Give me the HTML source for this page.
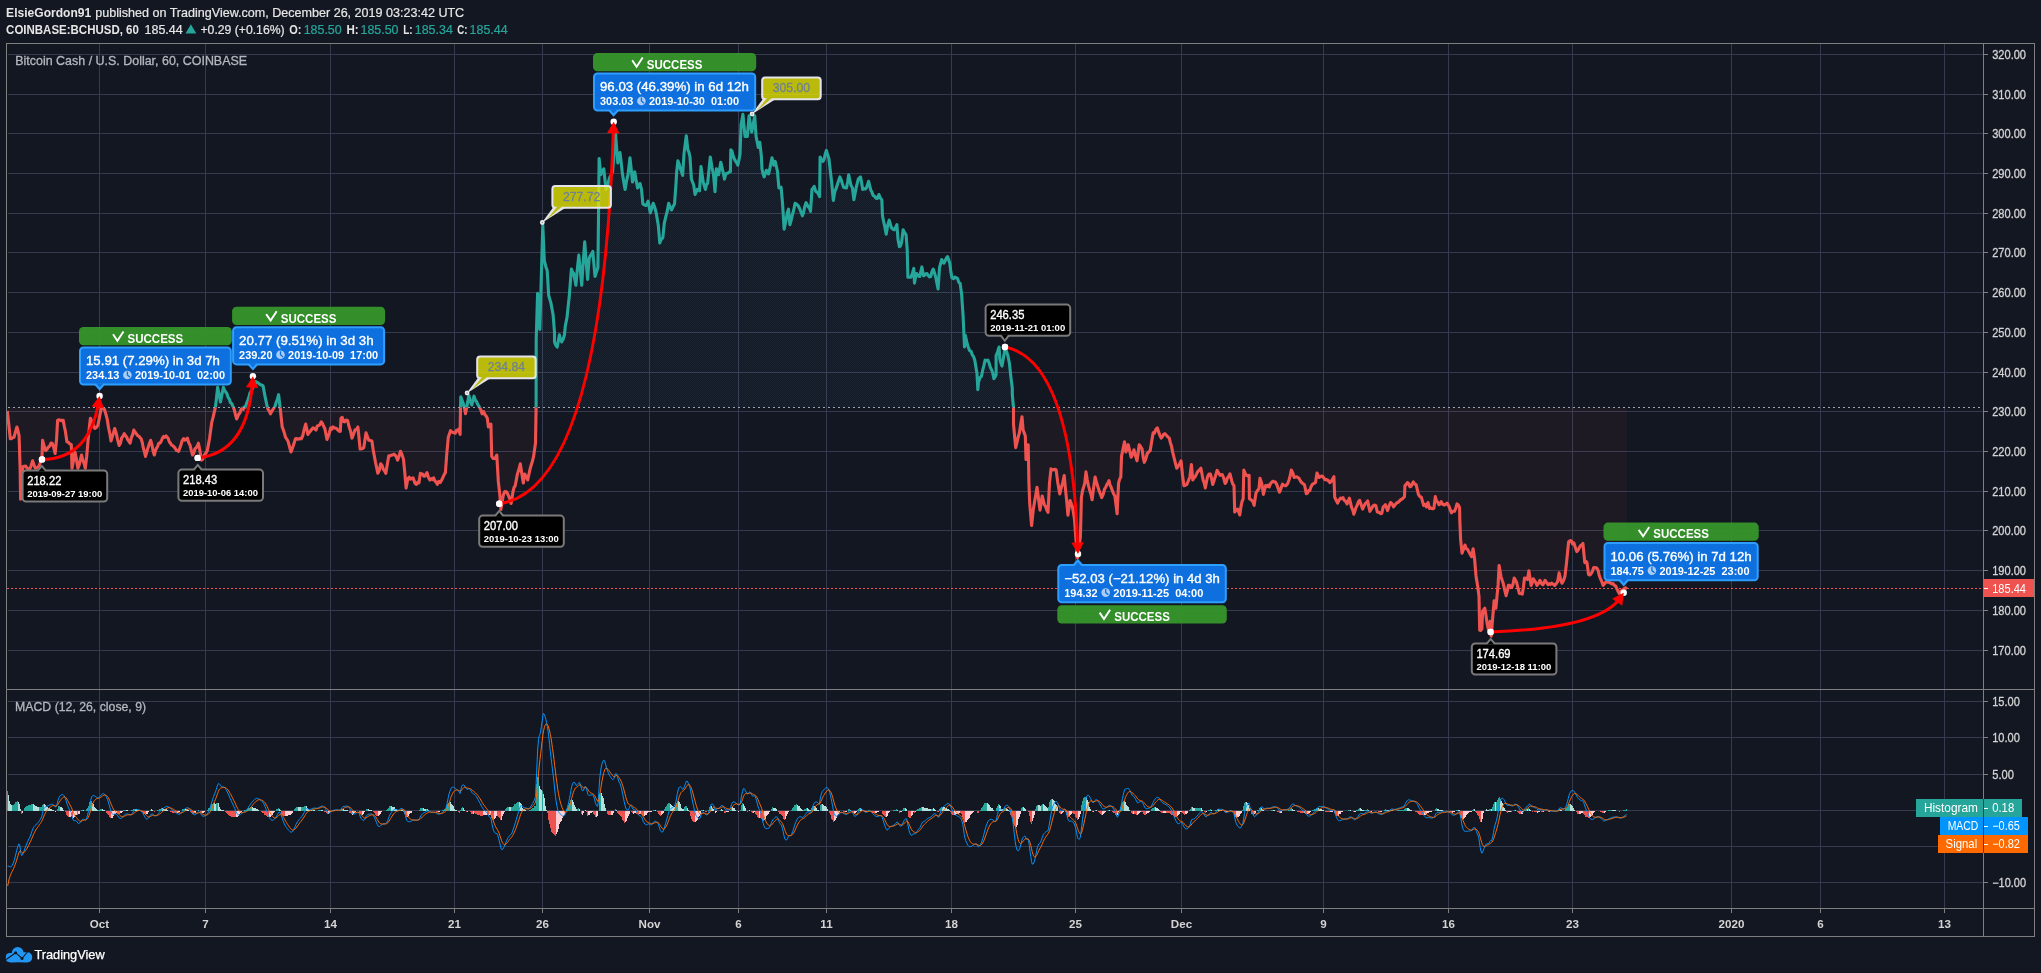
<!DOCTYPE html>
<html><head><meta charset="utf-8"><title>BCHUSD</title>
<style>
html,body{margin:0;padding:0;background:#131722;}
body{width:2041px;height:973px;position:relative;overflow:hidden;font-family:"Liberation Sans",sans-serif;}
</style></head><body>
<svg width="2041" height="973" viewBox="0 0 2041 973" style="position:absolute;left:0;top:0;will-change:transform;font-family:'Liberation Sans',sans-serif">
<rect width="2041" height="973" fill="#131722"/>
<path d="M99.5 44V908 M205.5 44V908 M330.5 44V908 M454.5 44V908 M542.5 44V908 M649.5 44V908 M738.5 44V908 M826.5 44V908 M951.5 44V908 M1075.5 44V908 M1181.5 44V908 M1323.5 44V908 M1448.5 44V908 M1572.5 44V908 M1731.5 44V908 M1820.5 44V908 M1944.5 44V908 M8 650.5H1983 M8 610.5H1983 M8 570.5H1983 M8 530.5H1983 M8 491.5H1983 M8 451.5H1983 M8 411.5H1983 M8 372.5H1983 M8 332.5H1983 M8 292.5H1983 M8 252.5H1983 M8 213.5H1983 M8 173.5H1983 M8 133.5H1983 M8 94.5H1983 M8 54.5H1983 M8 701.5H1983 M8 737.5H1983 M8 774.5H1983 M8 810.5H1983 M8 846.5H1983 M8 882.5H1983" stroke="#363a4e" stroke-width="1" fill="none" shape-rendering="crispEdges"/>
<defs>
<clipPath id="cu"><rect x="7" y="44" width="1976" height="363.5"/></clipPath>
<clipPath id="cd"><rect x="7" y="407.5" width="1976" height="281.5"/></clipPath>
<pattern id="dots" width="2" height="2" patternUnits="userSpaceOnUse"><rect width="2" height="2" fill="rgba(120,120,130,0.035)"/><rect width="1" height="1" fill="rgba(30,190,200,0.05)"/><rect x="1" y="1" width="1" height="1" fill="rgba(30,190,200,0.05)"/></pattern>
</defs>
<path d="M7.3 410.9 L8.8 424.66 L10.3 438.8 L11.53 438.68 L12.77 437.63 L14.0 437.3 L15.45 431.91 L16.9 427.0 L18.0 430.75 L19.1 435.9 L20.1 468.2 L20.6 499.1 L21.8 482.9 L22.8 466.7 L24.25 466.19 L25.7 466.0 L26.93 468.07 L28.17 468.78 L29.4 469.7 L31.0 466.03 L32.6 460.8 L33.95 464.69 L35.3 468.2 L36.9 467.75 L38.5 466.7 L39.63 464.41 L40.77 460.58 L41.9 459.4 L42.6 440.3 L44.1 446.09 L45.6 450.6 L47.05 449.13 L48.5 446.9 L49.73 446.04 L50.97 443.16 L52.2 443.2 L53.65 447.04 L55.1 453.5 L56.6 438.8 L57.6 420.4 L58.72 419.73 L59.84 420.05 L60.96 420.63 L62.08 420.37 L63.2 420.4 L64.3 426.29 L65.4 431.4 L66.9 441.7 L68.37 442.22 L69.83 443.93 L71.3 444.7 L72.0 468.2 L73.5 460.4 L75.0 452.0 L76.45 459.6 L77.9 468.2 L79.13 465.09 L80.37 459.82 L81.6 455.0 L82.83 460.3 L84.07 463.33 L85.3 468.2 L86.7 456.4 L88.2 438.8 L89.3 427.95 L90.4 418.2 L91.87 421.38 L93.33 424.99 L94.8 428.5 L96.3 427.52 L97.8 425.6 L99.0 419.89 L100.2 413.46 L101.4 407.9 L102.9 407.93 L104.4 409.4 L105.85 414.16 L107.3 419.7 L108.53 427.72 L109.77 433.29 L111.0 441.0 L112.23 437.02 L113.47 432.99 L114.7 428.5 L116.17 433.02 L117.63 439.8 L119.1 445.4 L120.38 443.45 L121.65 438.04 L122.92 436.38 L124.2 433.7 L125.38 435.52 L126.56 436.89 L127.74 439.77 L128.92 441.25 L130.1 443.2 L131.33 437.7 L132.57 435.02 L133.8 430.0 L135.02 431.97 L136.23 433.64 L137.45 435.48 L138.67 436.14 L139.88 437.42 L141.1 438.8 L142.2 442.23 L143.3 448.06 L144.4 451.54 L145.5 456.4 L146.8 452.04 L148.1 447.4 L149.4 443.6 L150.7 440.3 L151.9 444.8 L153.1 451.07 L154.3 455.0 L155.43 450.53 L156.55 448.01 L157.68 446.33 L158.8 443.2 L160.02 443.07 L161.23 441.2 L162.45 438.13 L163.67 436.44 L164.88 437.38 L166.1 435.9 L167.2 437.17 L168.3 438.71 L169.4 442.11 L170.5 443.2 L171.66 445.18 L172.81 445.63 L173.97 446.86 L175.13 448.15 L176.29 450.18 L177.44 450.61 L178.6 451.3 L179.83 448.02 L181.07 444.38 L182.3 440.3 L183.58 438.57 L184.85 440.16 L186.12 439.37 L187.4 438.1 L188.7 442.72 L190.0 445.07 L191.3 450.3 L192.6 455.0 L193.76 453.27 L194.92 448.92 L196.08 447.78 L197.24 446.32 L198.4 443.2 L199.9 450.67 L201.4 460.1 L202.58 459.41 L203.76 456.71 L204.94 454.29 L206.12 452.74 L207.3 450.6 L209.5 438.8 L211.7 422.6 L212.9 418.19 L214.1 412.89 L215.3 407.9 L216.45 398.46 L217.6 387.3 L219.05 394.15 L220.5 402.0 L221.95 394.34 L223.4 387.3 L224.58 390.44 L225.76 392.04 L226.94 393.72 L228.12 397.45 L229.3 399.1 L230.53 402.67 L231.77 403.7 L233.0 406.5 L234.23 409.63 L235.47 414.73 L236.7 419.0 L237.8 416.49 L238.9 413.98 L240.0 412.85 L241.1 409.4 L242.2 408.08 L243.3 409.25 L244.4 406.8 L245.5 407.2 L246.6 403.11 L247.7 400.67 L248.8 397.55 L249.9 393.2 L251.08 391.5 L252.26 388.78 L253.44 386.29 L254.62 383.95 L255.8 381.5 L257.02 382.66 L258.23 382.83 L259.45 383.91 L260.67 384.86 L261.88 385.17 L263.1 385.9 L264.33 392.84 L265.57 399.06 L266.8 405.0 L268.03 409.44 L269.27 411.11 L270.5 413.8 L271.97 411.05 L273.43 408.65 L274.9 406.5 L276.13 402.56 L277.37 399.33 L278.6 394.7 L280.0 406.5 L282.2 427.0 L283.3 429.7 L284.4 433.19 L285.5 437.23 L286.6 438.8 L288.07 441.28 L289.53 446.76 L291.0 452.0 L292.12 448.88 L293.25 445.7 L294.38 442.28 L295.5 438.8 L296.66 438.48 L297.82 439.29 L298.98 439.01 L300.14 438.41 L301.3 438.8 L302.77 435.72 L304.23 429.27 L305.7 424.1 L307.9 434.4 L309.2 432.33 L310.5 431.03 L311.8 429.28 L313.1 427.8 L314.55 428.85 L316.0 430.0 L317.3 425.93 L318.6 425.58 L319.9 424.68 L321.2 421.9 L322.4 423.22 L323.6 426.25 L324.8 428.5 L327.0 439.5 L328.23 436.32 L329.47 432.34 L330.7 427.8 L331.88 429.06 L333.06 426.8 L334.24 427.95 L335.42 428.1 L336.6 428.5 L337.83 429.93 L339.07 431.25 L340.3 431.4 L341.0 418.2 L342.23 417.42 L343.47 421.48 L344.7 421.9 L346.15 420.06 L347.6 420.4 L349.07 426.81 L350.53 431.08 L352.0 438.1 L353.5 434.18 L355.0 430.0 L356.45 429.4 L357.9 427.0 L359.0 437.94 L360.1 449.1 L361.33 448.74 L362.57 448.7 L363.8 447.6 L366.0 432.9 L367.45 436.71 L368.9 440.3 L370.4 440.58 L371.9 441.0 L373.1 449.25 L374.3 455.99 L375.5 462.3 L376.65 467.58 L377.8 473.3 L379.25 470.61 L380.7 463.8 L381.98 465.31 L383.25 469.24 L384.52 470.73 L385.8 473.3 L387.3 464.6 L388.8 455.7 L390.07 455.85 L391.35 455.12 L392.62 455.05 L393.9 454.2 L395.13 455.02 L396.37 457.0 L397.6 460.1 L399.05 456.16 L400.5 451.3 L402.0 454.63 L403.5 459.4 L404.8 472.93 L406.1 488.0 L407.9 478.5 L409.17 477.22 L410.45 479.1 L411.73 478.53 L413.0 477.8 L415.2 483.6 L416.43 484.47 L417.67 482.43 L418.9 482.9 L420.4 473.3 L421.5 474.05 L422.6 473.94 L423.7 476.12 L424.8 476.3 L427.0 472.6 L428.45 477.49 L429.9 480.0 L431.13 478.6 L432.37 479.7 L433.6 477.8 L434.83 480.74 L436.07 482.07 L437.3 484.4 L438.77 481.45 L440.23 482.52 L441.7 480.0 L442.93 477.46 L444.17 474.61 L445.4 472.6 L446.8 453.5 L448.3 437.3 L450.5 430.7 L451.73 431.73 L452.97 432.47 L454.2 432.9 L455.3 433.1 L456.4 430.28 L457.5 430.98 L458.6 429.2 L460.1 434.4 L460.5 407.9 L460.8 396.9 L463.0 402.8 L464.5 407.9 L465.5 413.8 L466.7 407.2 L468.9 395.4 L470.35 401.32 L471.8 405.0 L474.0 396.2 L475.23 399.99 L476.47 401.46 L477.7 404.3 L479.9 407.9 L481.0 410.29 L482.1 413.8 L483.6 411.6 L484.83 414.56 L486.07 416.09 L487.3 418.2 L488.4 427.0 L489.65 425.64 L490.9 424.1 L491.7 456.4 L493.3 458.57 L494.9 458.6 L496.8 455.0 L498.3 481.4 L499.8 494.7 L500.9 509.4 L502.15 501.85 L503.4 494.7 L504.9 491.48 L506.4 491.7 L507.85 494.36 L509.3 497.6 L511.1 503.5 L513.0 491.7 L514.1 487.36 L515.2 485.8 L517.4 474.1 L518.85 469.56 L520.3 463.8 L521.8 473.59 L523.3 482.9 L524.7 474.1 L526.2 476.59 L527.7 480.0 L529.9 469.7 L531.13 465.26 L532.37 461.46 L533.6 456.4 L535.5 443.2 L536.1 407.9 L536.2 339.6 L537.6 293.3 L539.8 329.4 L541.3 277.26 L542.8 225.0 L544.3 260.3 L545.75 266.44 L547.2 270.6 L548.7 295.5 L550.9 302.9 L552.0 308.75 L553.1 314.7 L554.5 332.3 L554.5 342.0 L555.85 345.38 L557.2 347.2 L559.4 334.7 L560.5 339.47 L561.6 342.0 L563.05 339.56 L564.5 334.7 L565.3 325.9 L567.0 317.6 L568.1 306.8 L569.2 297.0 L571.4 269.1 L572.55 271.96 L573.7 273.5 L575.9 285.3 L577.35 268.79 L578.8 255.1 L580.25 269.39 L581.7 285.3 L583.2 262.13 L584.7 241.9 L586.15 261.45 L587.6 279.4 L589.1 258.8 L590.33 255.41 L591.57 253.86 L592.8 251.4 L593.9 263.76 L595.0 276.4 L596.45 271.98 L597.9 267.6 L598.6 208.8 L599.1 158.5 L600.8 174.7 L602.3 171.31 L603.8 168.8 L604.9 179.28 L606.0 189.4 L607.23 186.81 L608.47 181.57 L609.7 177.6 L611.15 175.05 L612.6 171.7 L614.05 153.35 L615.5 133.5 L616.65 148.05 L617.8 162.9 L618.9 156.81 L620.0 152.6 L621.1 161.73 L622.2 171.7 L623.65 181.36 L625.1 189.4 L626.55 180.82 L628.0 174.7 L630.0 157.8 L631.25 169.45 L632.5 182.0 L633.6 177.61 L634.7 171.7 L636.15 180.39 L637.6 187.9 L639.8 184.9 L640.0 183.5 L641.5 189.4 L642.9 204.1 L644.4 204.81 L645.9 205.5 L647.0 203.9 L648.1 201.1 L650.3 212.9 L651.75 208.22 L653.2 203.3 L654.7 207.22 L656.2 212.9 L658.4 226.1 L659.8 243.0 L661.3 239.28 L662.8 237.9 L664.3 223.2 L665.75 216.82 L667.2 211.4 L668.7 203.3 L670.15 207.34 L671.6 210.0 L673.05 206.63 L674.5 204.1 L676.0 183.5 L676.7 171.7 L677.9 160.7 L679.15 164.07 L680.4 168.8 L681.5 171.52 L682.6 175.4 L684.1 152.6 L686.3 135.7 L687.8 149.7 L688.9 152.2 L690.0 157.0 L691.4 179.1 L692.55 181.96 L693.7 185.0 L695.1 194.5 L697.3 189.4 L698.4 189.22 L699.5 190.8 L701.0 166.6 L702.1 174.57 L703.2 182.0 L705.4 189.4 L706.5 184.68 L707.6 183.5 L709.1 168.8 L710.3 157.0 L712.0 167.3 L713.5 174.7 L715.0 191.6 L716.4 168.8 L717.5 172.0 L718.6 174.7 L720.8 162.2 L722.3 168.8 L723.4 173.47 L724.5 179.1 L725.6 174.69 L726.7 173.2 L727.93 173.24 L729.17 171.99 L730.4 171.7 L730.8 149.7 L731.9 150.96 L733.0 154.91 L734.1 158.5 L735.33 160.92 L736.57 162.56 L737.8 165.1 L738.9 160.18 L740.0 154.1 L741.1 124.7 L742.9 114.4 L744.0 126.01 L745.1 136.5 L747.3 136.5 L749.1 115.9 L750.4 124.45 L751.7 132.0 L753.2 124.19 L754.7 115.9 L756.1 136.5 L758.3 147.5 L759.8 142.3 L761.3 155.6 L762.0 168.8 L763.1 173.85 L764.2 176.9 L766.4 170.3 L767.5 172.59 L768.6 173.9 L770.1 167.3 L772.0 157.8 L773.8 165.1 L775.2 161.4 L777.4 171.0 L778.9 187.9 L780.0 187.89 L781.1 187.2 L782.6 204.1 L784.1 229.1 L786.3 218.8 L787.4 212.44 L788.5 209.2 L789.9 224.7 L791.0 220.92 L792.1 215.8 L793.6 210.53 L795.1 203.3 L796.55 204.18 L798.0 205.5 L799.1 207.4 L800.2 210.0 L802.4 215.8 L803.5 212.86 L804.6 207.0 L806.1 202.6 L808.3 207.0 L809.4 207.88 L810.5 211.4 L812.0 189.4 L813.1 188.25 L814.2 186.4 L815.65 191.17 L817.1 192.3 L818.35 193.8 L819.6 196.7 L820.1 157.0 L821.55 159.72 L823.0 161.4 L824.13 159.15 L825.27 153.98 L826.4 150.4 L827.65 154.87 L828.9 158.5 L830.4 171.7 L831.8 183.5 L833.3 200.4 L834.8 191.6 L836.25 188.23 L837.7 183.5 L839.9 176.9 L841.13 179.65 L842.37 183.7 L843.6 187.2 L845.05 187.77 L846.5 187.9 L847.6 181.92 L848.7 174.7 L850.9 185.0 L852.4 187.9 L853.9 199.7 L855.0 193.77 L856.1 187.9 L858.3 179.1 L859.4 177.85 L860.5 176.9 L861.6 182.39 L862.7 189.4 L863.93 188.63 L865.17 189.07 L866.4 187.9 L867.5 184.68 L868.6 181.3 L870.8 190.1 L871.9 192.06 L873.0 195.3 L874.45 196.12 L875.9 198.2 L877.4 198.35 L878.9 194.5 L880.35 197.95 L881.8 199.7 L882.5 215.8 L883.6 221.43 L884.7 226.1 L886.2 234.2 L887.7 225.26 L889.2 220.2 L891.4 227.6 L892.85 229.17 L894.3 229.8 L895.6 227.61 L896.9 224.7 L898.0 239.4 L899.4 246.7 L900.5 245.76 L901.6 242.3 L903.1 229.8 L904.6 232.67 L906.1 234.9 L907.2 249.6 L907.9 277.2 L909.4 277.15 L910.9 277.2 L912.35 273.19 L913.8 268.4 L914.5 283.1 L915.6 276.84 L916.7 273.5 L918.2 275.77 L919.7 276.5 L921.9 266.9 L923.4 275.7 L924.6 275.21 L925.8 273.71 L927.0 273.5 L928.23 275.49 L929.47 276.86 L930.7 276.5 L931.95 271.75 L933.2 269.1 L934.55 273.0 L935.9 277.9 L937.0 283.67 L938.1 289.0 L939.5 267.6 L940.6 263.74 L941.7 259.6 L943.9 263.2 L945.13 260.7 L946.37 258.07 L947.6 256.6 L949.8 263.2 L950.9 272.14 L952.0 277.9 L953.47 278.68 L954.93 277.0 L956.4 277.9 L957.63 278.62 L958.87 282.64 L960.1 283.1 L961.6 294.1 L963.1 316.1 L964.5 347.0 L965.3 335.3 L966.75 341.89 L968.2 347.0 L969.65 350.57 L971.1 351.4 L972.33 354.94 L973.57 356.61 L974.8 360.2 L975.9 367.05 L977.0 373.5 L977.8 389.6 L978.5 382.3 L979.95 377.73 L981.4 376.4 L982.63 370.44 L983.87 365.56 L985.1 360.2 L986.55 360.59 L988.0 360.2 L989.1 363.0 L990.2 366.9 L991.35 369.36 L992.5 372.0 L993.9 378.6 L995.0 377.09 L996.1 374.9 L996.1 355.8 L997.6 351.68 L999.1 347.0 L999.8 358.8 L1000.9 362.93 L1002.0 366.1 L1003.1 359.66 L1004.2 352.9 L1004.9 347.0 L1006.4 351.16 L1007.9 355.8 L1009.4 363.2 L1010.8 376.4 L1012.3 388.2 L1012.3 394.7 L1013.5 407.5 L1013.5 424.1 L1014.6 436.44 L1015.7 447.6 L1016.93 442.74 L1018.17 437.18 L1019.4 432.9 L1020.7 424.33 L1022.0 416.7 L1023.1 430.0 L1025.3 435.9 L1026.0 459.4 L1027.1 452.05 L1028.2 444.7 L1028.9 482.9 L1029.7 503.5 L1031.6 525.5 L1033.3 509.4 L1034.53 501.95 L1035.77 494.78 L1037.0 487.3 L1038.5 498.7 L1040.0 510.1 L1041.1 503.23 L1042.2 496.1 L1043.3 500.4 L1044.4 504.9 L1045.6 506.42 L1046.8 510.15 L1048.0 512.3 L1049.5 482.9 L1051.0 468.9 L1052.28 469.89 L1053.55 469.63 L1054.82 469.36 L1056.1 469.7 L1057.6 481.4 L1058.7 487.98 L1059.8 493.9 L1061.25 487.68 L1062.7 482.9 L1064.2 475.5 L1065.7 491.7 L1066.8 502.03 L1067.9 515.2 L1070.1 500.5 L1071.2 503.49 L1072.3 506.4 L1073.4 512.3 L1074.5 519.6 L1075.95 539.3 L1077.4 557.9 L1078.9 546.79 L1080.4 537.3 L1081.4 497.6 L1082.53 490.73 L1083.67 487.02 L1084.8 482.9 L1086.0 471.9 L1087.25 480.03 L1088.5 485.8 L1089.7 490.18 L1090.9 494.11 L1092.1 499.8 L1093.6 487.83 L1095.1 477.0 L1096.55 482.54 L1098.0 487.3 L1099.23 491.11 L1100.47 494.3 L1101.7 497.6 L1103.15 494.31 L1104.6 488.8 L1105.7 487.3 L1106.8 484.73 L1107.9 483.17 L1109.0 480.7 L1110.1 485.24 L1111.2 487.3 L1112.43 490.96 L1113.67 493.93 L1114.9 496.1 L1117.1 513.8 L1118.6 482.9 L1119.7 479.14 L1120.8 477.0 L1121.5 456.4 L1123.0 448.94 L1124.5 441.7 L1125.9 452.0 L1127.05 448.9 L1128.2 444.7 L1129.65 450.73 L1131.1 457.2 L1132.55 454.3 L1134.0 449.8 L1135.5 455.75 L1137.0 460.8 L1138.1 453.43 L1139.2 444.7 L1140.65 446.74 L1142.1 449.1 L1143.2 457.61 L1144.3 462.3 L1145.8 458.83 L1147.3 453.5 L1148.75 451.89 L1150.2 450.6 L1151.65 441.82 L1153.1 432.9 L1154.5 433.15 L1155.9 429.24 L1157.3 427.8 L1158.6 431.89 L1159.9 435.4 L1161.2 438.1 L1162.43 436.64 L1163.67 434.29 L1164.9 433.7 L1166.37 435.31 L1167.83 436.9 L1169.3 438.1 L1170.4 442.95 L1171.5 446.1 L1172.6 451.84 L1173.7 456.4 L1175.2 462.32 L1176.7 468.2 L1178.17 466.37 L1179.63 463.67 L1181.1 460.8 L1182.5 475.5 L1184.0 485.8 L1185.45 485.25 L1186.9 484.4 L1188.4 480.74 L1189.9 477.0 L1191.4 464.5 L1192.8 480.0 L1194.03 477.85 L1195.27 476.58 L1196.5 474.1 L1197.6 471.83 L1198.7 470.68 L1199.8 469.68 L1200.9 468.2 L1203.1 480.0 L1204.2 482.9 L1205.3 488.0 L1206.4 482.17 L1207.5 477.0 L1209.0 474.04 L1210.5 474.1 L1211.6 478.74 L1212.7 484.4 L1214.17 480.16 L1215.63 475.49 L1217.1 470.4 L1218.55 472.81 L1220.0 475.3 L1221.1 474.73 L1222.2 474.5 L1223.65 477.89 L1225.1 483.4 L1226.2 482.17 L1227.3 478.2 L1228.65 476.39 L1230.0 473.8 L1231.8 481.2 L1232.9 484.22 L1234.0 485.6 L1234.7 512.0 L1236.15 509.89 L1237.6 509.1 L1238.7 511.91 L1239.8 515.0 L1240.9 506.99 L1242.0 501.7 L1243.2 498.8 L1243.8 470.1 L1245.15 473.29 L1246.5 475.3 L1247.8 476.0 L1249.1 475.3 L1249.4 498.8 L1251.6 500.3 L1252.85 501.43 L1254.1 505.4 L1256.0 492.9 L1257.5 490.66 L1259.0 488.5 L1260.0 478.2 L1261.9 484.1 L1263.4 494.4 L1265.6 485.6 L1266.8 486.54 L1268.0 485.21 L1269.2 487.0 L1270.43 483.7 L1271.67 482.33 L1272.9 481.2 L1274.13 481.69 L1275.37 482.08 L1276.6 484.1 L1278.05 488.17 L1279.5 492.2 L1281.0 488.34 L1282.5 484.1 L1283.7 485.08 L1284.9 485.63 L1286.1 485.6 L1287.6 483.78 L1289.1 479.7 L1290.2 475.77 L1291.3 470.1 L1292.75 472.82 L1294.2 477.5 L1295.43 477.12 L1296.67 476.7 L1297.9 477.5 L1299.13 478.39 L1300.37 480.84 L1301.6 482.6 L1303.05 483.7 L1304.5 484.8 L1306.3 493.7 L1307.43 493.07 L1308.57 490.51 L1309.7 490.7 L1311.15 486.47 L1312.6 484.1 L1314.05 483.33 L1315.5 482.6 L1317.0 473.1 L1318.1 475.15 L1319.2 477.5 L1320.7 476.52 L1322.2 476.0 L1323.65 477.8 L1325.1 479.7 L1326.55 479.48 L1328.0 480.4 L1330.0 482.6 L1331.3 481.16 L1332.6 478.93 L1333.9 476.7 L1334.7 497.3 L1336.15 500.18 L1337.6 503.2 L1339.05 500.15 L1340.5 498.1 L1341.73 498.7 L1342.97 497.53 L1344.2 500.3 L1345.65 501.36 L1347.1 503.9 L1348.25 501.03 L1349.4 498.1 L1351.6 507.6 L1352.7 509.77 L1353.8 514.2 L1354.9 511.05 L1356.0 507.6 L1357.2 505.28 L1358.4 501.7 L1359.6 500.3 L1361.1 504.51 L1362.6 509.1 L1364.05 505.91 L1365.5 503.2 L1366.6 502.44 L1367.7 501.0 L1368.8 506.61 L1369.9 511.3 L1371.4 508.67 L1372.9 506.1 L1374.35 505.11 L1375.8 505.4 L1377.3 512.0 L1378.4 512.27 L1379.5 512.7 L1380.6 513.68 L1381.7 513.5 L1383.2 506.9 L1384.3 506.02 L1385.4 504.7 L1387.6 510.6 L1389.05 506.01 L1390.5 502.5 L1392.0 503.68 L1393.5 506.9 L1394.6 505.52 L1395.7 504.14 L1396.8 502.77 L1397.9 502.5 L1399.37 501.18 L1400.83 499.67 L1402.3 498.8 L1403.4 497.78 L1404.5 496.6 L1404.9 485.6 L1406.15 484.49 L1407.4 482.6 L1408.63 483.52 L1409.87 486.81 L1411.1 486.3 L1412.2 483.86 L1413.3 481.9 L1414.75 484.18 L1416.2 484.8 L1417.3 489.69 L1418.4 494.4 L1419.9 496.69 L1421.4 497.3 L1423.6 505.4 L1425.05 504.37 L1426.5 506.9 L1428.0 502.5 L1429.5 508.4 L1430.6 507.84 L1431.7 508.59 L1432.8 508.85 L1433.9 508.4 L1435.3 496.6 L1436.53 501.05 L1437.77 502.24 L1439.0 504.7 L1440.1 504.16 L1441.2 501.7 L1442.3 503.77 L1443.4 504.7 L1444.63 504.91 L1445.87 504.08 L1447.1 503.2 L1448.2 504.93 L1449.3 506.9 L1450.4 510.23 L1451.5 512.8 L1453.0 511.24 L1454.5 511.3 L1455.75 508.49 L1457.0 503.9 L1458.3 504.99 L1459.6 507.6 L1459.8 520.0 L1460.6 539.1 L1462.0 553.1 L1463.5 549.24 L1465.0 545.0 L1466.23 548.79 L1467.47 549.23 L1468.7 551.6 L1470.15 554.16 L1471.6 556.7 L1473.1 548.7 L1474.5 558.2 L1476.0 575.9 L1477.9 587.6 L1479.0 596.4 L1479.7 630.2 L1480.8 630.37 L1481.9 628.8 L1482.6 611.1 L1483.7 609.67 L1484.8 608.2 L1485.9 614.94 L1487.0 622.9 L1488.5 630.2 L1490.0 621.4 L1491.2 636.1 L1492.9 615.5 L1494.1 600.8 L1495.9 608.2 L1498.1 584.7 L1499.1 565.6 L1501.0 576.6 L1502.1 580.09 L1503.2 583.2 L1504.65 589.89 L1506.1 595.7 L1507.25 591.08 L1508.4 585.4 L1509.6 585.32 L1510.8 587.71 L1512.0 586.9 L1513.1 583.75 L1514.2 578.1 L1515.3 579.91 L1516.4 581.7 L1517.9 587.8 L1519.4 593.5 L1520.85 593.53 L1522.3 594.2 L1523.4 587.21 L1524.5 578.1 L1526.0 578.27 L1527.5 579.5 L1528.9 570.7 L1531.1 585.4 L1532.2 582.61 L1533.3 578.8 L1534.53 580.64 L1535.77 582.68 L1537.0 585.4 L1538.5 583.39 L1540.0 580.3 L1541.45 583.5 L1542.9 584.7 L1545.1 580.3 L1546.55 582.49 L1548.0 584.7 L1549.23 583.69 L1550.47 584.31 L1551.7 583.2 L1553.2 584.26 L1554.7 585.4 L1556.15 583.78 L1557.6 581.7 L1559.1 572.9 L1560.55 579.19 L1562.0 583.2 L1563.45 580.75 L1564.9 576.6 L1566.4 564.1 L1568.6 542.0 L1570.1 540.6 L1571.33 540.94 L1572.57 543.78 L1573.8 542.8 L1575.25 547.2 L1576.7 551.6 L1578.15 549.99 L1579.6 547.2 L1580.7 545.48 L1581.8 544.7 L1582.9 543.5 L1584.8 562.6 L1585.9 561.29 L1587.0 562.6 L1588.5 574.4 L1589.7 575.01 L1590.9 573.96 L1592.1 572.2 L1593.6 567.8 L1594.7 567.44 L1595.8 567.77 L1596.9 568.23 L1598.0 570.0 L1599.1 574.93 L1600.2 578.1 L1601.7 581.41 L1603.2 585.4 L1604.65 583.5 L1606.1 581.7 L1607.2 581.84 L1608.3 582.36 L1609.4 582.01 L1610.5 583.2 L1611.8 583.94 L1613.1 583.57 L1614.4 585.32 L1615.7 586.1 L1616.9 588.8 L1618.1 591.38 L1619.3 593.5 L1620.4 592.23 L1621.5 590.62 L1622.6 590.32 L1623.7 589.1 L1625.5 587.9 L1627.0 588.5 L1627.0 407.5 L7.3 407.5 Z" fill="url(#dots)" clip-path="url(#cu)"/>
<path d="M7.3 410.9 L8.8 424.66 L10.3 438.8 L11.53 438.68 L12.77 437.63 L14.0 437.3 L15.45 431.91 L16.9 427.0 L18.0 430.75 L19.1 435.9 L20.1 468.2 L20.6 499.1 L21.8 482.9 L22.8 466.7 L24.25 466.19 L25.7 466.0 L26.93 468.07 L28.17 468.78 L29.4 469.7 L31.0 466.03 L32.6 460.8 L33.95 464.69 L35.3 468.2 L36.9 467.75 L38.5 466.7 L39.63 464.41 L40.77 460.58 L41.9 459.4 L42.6 440.3 L44.1 446.09 L45.6 450.6 L47.05 449.13 L48.5 446.9 L49.73 446.04 L50.97 443.16 L52.2 443.2 L53.65 447.04 L55.1 453.5 L56.6 438.8 L57.6 420.4 L58.72 419.73 L59.84 420.05 L60.96 420.63 L62.08 420.37 L63.2 420.4 L64.3 426.29 L65.4 431.4 L66.9 441.7 L68.37 442.22 L69.83 443.93 L71.3 444.7 L72.0 468.2 L73.5 460.4 L75.0 452.0 L76.45 459.6 L77.9 468.2 L79.13 465.09 L80.37 459.82 L81.6 455.0 L82.83 460.3 L84.07 463.33 L85.3 468.2 L86.7 456.4 L88.2 438.8 L89.3 427.95 L90.4 418.2 L91.87 421.38 L93.33 424.99 L94.8 428.5 L96.3 427.52 L97.8 425.6 L99.0 419.89 L100.2 413.46 L101.4 407.9 L102.9 407.93 L104.4 409.4 L105.85 414.16 L107.3 419.7 L108.53 427.72 L109.77 433.29 L111.0 441.0 L112.23 437.02 L113.47 432.99 L114.7 428.5 L116.17 433.02 L117.63 439.8 L119.1 445.4 L120.38 443.45 L121.65 438.04 L122.92 436.38 L124.2 433.7 L125.38 435.52 L126.56 436.89 L127.74 439.77 L128.92 441.25 L130.1 443.2 L131.33 437.7 L132.57 435.02 L133.8 430.0 L135.02 431.97 L136.23 433.64 L137.45 435.48 L138.67 436.14 L139.88 437.42 L141.1 438.8 L142.2 442.23 L143.3 448.06 L144.4 451.54 L145.5 456.4 L146.8 452.04 L148.1 447.4 L149.4 443.6 L150.7 440.3 L151.9 444.8 L153.1 451.07 L154.3 455.0 L155.43 450.53 L156.55 448.01 L157.68 446.33 L158.8 443.2 L160.02 443.07 L161.23 441.2 L162.45 438.13 L163.67 436.44 L164.88 437.38 L166.1 435.9 L167.2 437.17 L168.3 438.71 L169.4 442.11 L170.5 443.2 L171.66 445.18 L172.81 445.63 L173.97 446.86 L175.13 448.15 L176.29 450.18 L177.44 450.61 L178.6 451.3 L179.83 448.02 L181.07 444.38 L182.3 440.3 L183.58 438.57 L184.85 440.16 L186.12 439.37 L187.4 438.1 L188.7 442.72 L190.0 445.07 L191.3 450.3 L192.6 455.0 L193.76 453.27 L194.92 448.92 L196.08 447.78 L197.24 446.32 L198.4 443.2 L199.9 450.67 L201.4 460.1 L202.58 459.41 L203.76 456.71 L204.94 454.29 L206.12 452.74 L207.3 450.6 L209.5 438.8 L211.7 422.6 L212.9 418.19 L214.1 412.89 L215.3 407.9 L216.45 398.46 L217.6 387.3 L219.05 394.15 L220.5 402.0 L221.95 394.34 L223.4 387.3 L224.58 390.44 L225.76 392.04 L226.94 393.72 L228.12 397.45 L229.3 399.1 L230.53 402.67 L231.77 403.7 L233.0 406.5 L234.23 409.63 L235.47 414.73 L236.7 419.0 L237.8 416.49 L238.9 413.98 L240.0 412.85 L241.1 409.4 L242.2 408.08 L243.3 409.25 L244.4 406.8 L245.5 407.2 L246.6 403.11 L247.7 400.67 L248.8 397.55 L249.9 393.2 L251.08 391.5 L252.26 388.78 L253.44 386.29 L254.62 383.95 L255.8 381.5 L257.02 382.66 L258.23 382.83 L259.45 383.91 L260.67 384.86 L261.88 385.17 L263.1 385.9 L264.33 392.84 L265.57 399.06 L266.8 405.0 L268.03 409.44 L269.27 411.11 L270.5 413.8 L271.97 411.05 L273.43 408.65 L274.9 406.5 L276.13 402.56 L277.37 399.33 L278.6 394.7 L280.0 406.5 L282.2 427.0 L283.3 429.7 L284.4 433.19 L285.5 437.23 L286.6 438.8 L288.07 441.28 L289.53 446.76 L291.0 452.0 L292.12 448.88 L293.25 445.7 L294.38 442.28 L295.5 438.8 L296.66 438.48 L297.82 439.29 L298.98 439.01 L300.14 438.41 L301.3 438.8 L302.77 435.72 L304.23 429.27 L305.7 424.1 L307.9 434.4 L309.2 432.33 L310.5 431.03 L311.8 429.28 L313.1 427.8 L314.55 428.85 L316.0 430.0 L317.3 425.93 L318.6 425.58 L319.9 424.68 L321.2 421.9 L322.4 423.22 L323.6 426.25 L324.8 428.5 L327.0 439.5 L328.23 436.32 L329.47 432.34 L330.7 427.8 L331.88 429.06 L333.06 426.8 L334.24 427.95 L335.42 428.1 L336.6 428.5 L337.83 429.93 L339.07 431.25 L340.3 431.4 L341.0 418.2 L342.23 417.42 L343.47 421.48 L344.7 421.9 L346.15 420.06 L347.6 420.4 L349.07 426.81 L350.53 431.08 L352.0 438.1 L353.5 434.18 L355.0 430.0 L356.45 429.4 L357.9 427.0 L359.0 437.94 L360.1 449.1 L361.33 448.74 L362.57 448.7 L363.8 447.6 L366.0 432.9 L367.45 436.71 L368.9 440.3 L370.4 440.58 L371.9 441.0 L373.1 449.25 L374.3 455.99 L375.5 462.3 L376.65 467.58 L377.8 473.3 L379.25 470.61 L380.7 463.8 L381.98 465.31 L383.25 469.24 L384.52 470.73 L385.8 473.3 L387.3 464.6 L388.8 455.7 L390.07 455.85 L391.35 455.12 L392.62 455.05 L393.9 454.2 L395.13 455.02 L396.37 457.0 L397.6 460.1 L399.05 456.16 L400.5 451.3 L402.0 454.63 L403.5 459.4 L404.8 472.93 L406.1 488.0 L407.9 478.5 L409.17 477.22 L410.45 479.1 L411.73 478.53 L413.0 477.8 L415.2 483.6 L416.43 484.47 L417.67 482.43 L418.9 482.9 L420.4 473.3 L421.5 474.05 L422.6 473.94 L423.7 476.12 L424.8 476.3 L427.0 472.6 L428.45 477.49 L429.9 480.0 L431.13 478.6 L432.37 479.7 L433.6 477.8 L434.83 480.74 L436.07 482.07 L437.3 484.4 L438.77 481.45 L440.23 482.52 L441.7 480.0 L442.93 477.46 L444.17 474.61 L445.4 472.6 L446.8 453.5 L448.3 437.3 L450.5 430.7 L451.73 431.73 L452.97 432.47 L454.2 432.9 L455.3 433.1 L456.4 430.28 L457.5 430.98 L458.6 429.2 L460.1 434.4 L460.5 407.9 L460.8 396.9 L463.0 402.8 L464.5 407.9 L465.5 413.8 L466.7 407.2 L468.9 395.4 L470.35 401.32 L471.8 405.0 L474.0 396.2 L475.23 399.99 L476.47 401.46 L477.7 404.3 L479.9 407.9 L481.0 410.29 L482.1 413.8 L483.6 411.6 L484.83 414.56 L486.07 416.09 L487.3 418.2 L488.4 427.0 L489.65 425.64 L490.9 424.1 L491.7 456.4 L493.3 458.57 L494.9 458.6 L496.8 455.0 L498.3 481.4 L499.8 494.7 L500.9 509.4 L502.15 501.85 L503.4 494.7 L504.9 491.48 L506.4 491.7 L507.85 494.36 L509.3 497.6 L511.1 503.5 L513.0 491.7 L514.1 487.36 L515.2 485.8 L517.4 474.1 L518.85 469.56 L520.3 463.8 L521.8 473.59 L523.3 482.9 L524.7 474.1 L526.2 476.59 L527.7 480.0 L529.9 469.7 L531.13 465.26 L532.37 461.46 L533.6 456.4 L535.5 443.2 L536.1 407.9 L536.2 339.6 L537.6 293.3 L539.8 329.4 L541.3 277.26 L542.8 225.0 L544.3 260.3 L545.75 266.44 L547.2 270.6 L548.7 295.5 L550.9 302.9 L552.0 308.75 L553.1 314.7 L554.5 332.3 L554.5 342.0 L555.85 345.38 L557.2 347.2 L559.4 334.7 L560.5 339.47 L561.6 342.0 L563.05 339.56 L564.5 334.7 L565.3 325.9 L567.0 317.6 L568.1 306.8 L569.2 297.0 L571.4 269.1 L572.55 271.96 L573.7 273.5 L575.9 285.3 L577.35 268.79 L578.8 255.1 L580.25 269.39 L581.7 285.3 L583.2 262.13 L584.7 241.9 L586.15 261.45 L587.6 279.4 L589.1 258.8 L590.33 255.41 L591.57 253.86 L592.8 251.4 L593.9 263.76 L595.0 276.4 L596.45 271.98 L597.9 267.6 L598.6 208.8 L599.1 158.5 L600.8 174.7 L602.3 171.31 L603.8 168.8 L604.9 179.28 L606.0 189.4 L607.23 186.81 L608.47 181.57 L609.7 177.6 L611.15 175.05 L612.6 171.7 L614.05 153.35 L615.5 133.5 L616.65 148.05 L617.8 162.9 L618.9 156.81 L620.0 152.6 L621.1 161.73 L622.2 171.7 L623.65 181.36 L625.1 189.4 L626.55 180.82 L628.0 174.7 L630.0 157.8 L631.25 169.45 L632.5 182.0 L633.6 177.61 L634.7 171.7 L636.15 180.39 L637.6 187.9 L639.8 184.9 L640.0 183.5 L641.5 189.4 L642.9 204.1 L644.4 204.81 L645.9 205.5 L647.0 203.9 L648.1 201.1 L650.3 212.9 L651.75 208.22 L653.2 203.3 L654.7 207.22 L656.2 212.9 L658.4 226.1 L659.8 243.0 L661.3 239.28 L662.8 237.9 L664.3 223.2 L665.75 216.82 L667.2 211.4 L668.7 203.3 L670.15 207.34 L671.6 210.0 L673.05 206.63 L674.5 204.1 L676.0 183.5 L676.7 171.7 L677.9 160.7 L679.15 164.07 L680.4 168.8 L681.5 171.52 L682.6 175.4 L684.1 152.6 L686.3 135.7 L687.8 149.7 L688.9 152.2 L690.0 157.0 L691.4 179.1 L692.55 181.96 L693.7 185.0 L695.1 194.5 L697.3 189.4 L698.4 189.22 L699.5 190.8 L701.0 166.6 L702.1 174.57 L703.2 182.0 L705.4 189.4 L706.5 184.68 L707.6 183.5 L709.1 168.8 L710.3 157.0 L712.0 167.3 L713.5 174.7 L715.0 191.6 L716.4 168.8 L717.5 172.0 L718.6 174.7 L720.8 162.2 L722.3 168.8 L723.4 173.47 L724.5 179.1 L725.6 174.69 L726.7 173.2 L727.93 173.24 L729.17 171.99 L730.4 171.7 L730.8 149.7 L731.9 150.96 L733.0 154.91 L734.1 158.5 L735.33 160.92 L736.57 162.56 L737.8 165.1 L738.9 160.18 L740.0 154.1 L741.1 124.7 L742.9 114.4 L744.0 126.01 L745.1 136.5 L747.3 136.5 L749.1 115.9 L750.4 124.45 L751.7 132.0 L753.2 124.19 L754.7 115.9 L756.1 136.5 L758.3 147.5 L759.8 142.3 L761.3 155.6 L762.0 168.8 L763.1 173.85 L764.2 176.9 L766.4 170.3 L767.5 172.59 L768.6 173.9 L770.1 167.3 L772.0 157.8 L773.8 165.1 L775.2 161.4 L777.4 171.0 L778.9 187.9 L780.0 187.89 L781.1 187.2 L782.6 204.1 L784.1 229.1 L786.3 218.8 L787.4 212.44 L788.5 209.2 L789.9 224.7 L791.0 220.92 L792.1 215.8 L793.6 210.53 L795.1 203.3 L796.55 204.18 L798.0 205.5 L799.1 207.4 L800.2 210.0 L802.4 215.8 L803.5 212.86 L804.6 207.0 L806.1 202.6 L808.3 207.0 L809.4 207.88 L810.5 211.4 L812.0 189.4 L813.1 188.25 L814.2 186.4 L815.65 191.17 L817.1 192.3 L818.35 193.8 L819.6 196.7 L820.1 157.0 L821.55 159.72 L823.0 161.4 L824.13 159.15 L825.27 153.98 L826.4 150.4 L827.65 154.87 L828.9 158.5 L830.4 171.7 L831.8 183.5 L833.3 200.4 L834.8 191.6 L836.25 188.23 L837.7 183.5 L839.9 176.9 L841.13 179.65 L842.37 183.7 L843.6 187.2 L845.05 187.77 L846.5 187.9 L847.6 181.92 L848.7 174.7 L850.9 185.0 L852.4 187.9 L853.9 199.7 L855.0 193.77 L856.1 187.9 L858.3 179.1 L859.4 177.85 L860.5 176.9 L861.6 182.39 L862.7 189.4 L863.93 188.63 L865.17 189.07 L866.4 187.9 L867.5 184.68 L868.6 181.3 L870.8 190.1 L871.9 192.06 L873.0 195.3 L874.45 196.12 L875.9 198.2 L877.4 198.35 L878.9 194.5 L880.35 197.95 L881.8 199.7 L882.5 215.8 L883.6 221.43 L884.7 226.1 L886.2 234.2 L887.7 225.26 L889.2 220.2 L891.4 227.6 L892.85 229.17 L894.3 229.8 L895.6 227.61 L896.9 224.7 L898.0 239.4 L899.4 246.7 L900.5 245.76 L901.6 242.3 L903.1 229.8 L904.6 232.67 L906.1 234.9 L907.2 249.6 L907.9 277.2 L909.4 277.15 L910.9 277.2 L912.35 273.19 L913.8 268.4 L914.5 283.1 L915.6 276.84 L916.7 273.5 L918.2 275.77 L919.7 276.5 L921.9 266.9 L923.4 275.7 L924.6 275.21 L925.8 273.71 L927.0 273.5 L928.23 275.49 L929.47 276.86 L930.7 276.5 L931.95 271.75 L933.2 269.1 L934.55 273.0 L935.9 277.9 L937.0 283.67 L938.1 289.0 L939.5 267.6 L940.6 263.74 L941.7 259.6 L943.9 263.2 L945.13 260.7 L946.37 258.07 L947.6 256.6 L949.8 263.2 L950.9 272.14 L952.0 277.9 L953.47 278.68 L954.93 277.0 L956.4 277.9 L957.63 278.62 L958.87 282.64 L960.1 283.1 L961.6 294.1 L963.1 316.1 L964.5 347.0 L965.3 335.3 L966.75 341.89 L968.2 347.0 L969.65 350.57 L971.1 351.4 L972.33 354.94 L973.57 356.61 L974.8 360.2 L975.9 367.05 L977.0 373.5 L977.8 389.6 L978.5 382.3 L979.95 377.73 L981.4 376.4 L982.63 370.44 L983.87 365.56 L985.1 360.2 L986.55 360.59 L988.0 360.2 L989.1 363.0 L990.2 366.9 L991.35 369.36 L992.5 372.0 L993.9 378.6 L995.0 377.09 L996.1 374.9 L996.1 355.8 L997.6 351.68 L999.1 347.0 L999.8 358.8 L1000.9 362.93 L1002.0 366.1 L1003.1 359.66 L1004.2 352.9 L1004.9 347.0 L1006.4 351.16 L1007.9 355.8 L1009.4 363.2 L1010.8 376.4 L1012.3 388.2 L1012.3 394.7 L1013.5 407.5 L1013.5 424.1 L1014.6 436.44 L1015.7 447.6 L1016.93 442.74 L1018.17 437.18 L1019.4 432.9 L1020.7 424.33 L1022.0 416.7 L1023.1 430.0 L1025.3 435.9 L1026.0 459.4 L1027.1 452.05 L1028.2 444.7 L1028.9 482.9 L1029.7 503.5 L1031.6 525.5 L1033.3 509.4 L1034.53 501.95 L1035.77 494.78 L1037.0 487.3 L1038.5 498.7 L1040.0 510.1 L1041.1 503.23 L1042.2 496.1 L1043.3 500.4 L1044.4 504.9 L1045.6 506.42 L1046.8 510.15 L1048.0 512.3 L1049.5 482.9 L1051.0 468.9 L1052.28 469.89 L1053.55 469.63 L1054.82 469.36 L1056.1 469.7 L1057.6 481.4 L1058.7 487.98 L1059.8 493.9 L1061.25 487.68 L1062.7 482.9 L1064.2 475.5 L1065.7 491.7 L1066.8 502.03 L1067.9 515.2 L1070.1 500.5 L1071.2 503.49 L1072.3 506.4 L1073.4 512.3 L1074.5 519.6 L1075.95 539.3 L1077.4 557.9 L1078.9 546.79 L1080.4 537.3 L1081.4 497.6 L1082.53 490.73 L1083.67 487.02 L1084.8 482.9 L1086.0 471.9 L1087.25 480.03 L1088.5 485.8 L1089.7 490.18 L1090.9 494.11 L1092.1 499.8 L1093.6 487.83 L1095.1 477.0 L1096.55 482.54 L1098.0 487.3 L1099.23 491.11 L1100.47 494.3 L1101.7 497.6 L1103.15 494.31 L1104.6 488.8 L1105.7 487.3 L1106.8 484.73 L1107.9 483.17 L1109.0 480.7 L1110.1 485.24 L1111.2 487.3 L1112.43 490.96 L1113.67 493.93 L1114.9 496.1 L1117.1 513.8 L1118.6 482.9 L1119.7 479.14 L1120.8 477.0 L1121.5 456.4 L1123.0 448.94 L1124.5 441.7 L1125.9 452.0 L1127.05 448.9 L1128.2 444.7 L1129.65 450.73 L1131.1 457.2 L1132.55 454.3 L1134.0 449.8 L1135.5 455.75 L1137.0 460.8 L1138.1 453.43 L1139.2 444.7 L1140.65 446.74 L1142.1 449.1 L1143.2 457.61 L1144.3 462.3 L1145.8 458.83 L1147.3 453.5 L1148.75 451.89 L1150.2 450.6 L1151.65 441.82 L1153.1 432.9 L1154.5 433.15 L1155.9 429.24 L1157.3 427.8 L1158.6 431.89 L1159.9 435.4 L1161.2 438.1 L1162.43 436.64 L1163.67 434.29 L1164.9 433.7 L1166.37 435.31 L1167.83 436.9 L1169.3 438.1 L1170.4 442.95 L1171.5 446.1 L1172.6 451.84 L1173.7 456.4 L1175.2 462.32 L1176.7 468.2 L1178.17 466.37 L1179.63 463.67 L1181.1 460.8 L1182.5 475.5 L1184.0 485.8 L1185.45 485.25 L1186.9 484.4 L1188.4 480.74 L1189.9 477.0 L1191.4 464.5 L1192.8 480.0 L1194.03 477.85 L1195.27 476.58 L1196.5 474.1 L1197.6 471.83 L1198.7 470.68 L1199.8 469.68 L1200.9 468.2 L1203.1 480.0 L1204.2 482.9 L1205.3 488.0 L1206.4 482.17 L1207.5 477.0 L1209.0 474.04 L1210.5 474.1 L1211.6 478.74 L1212.7 484.4 L1214.17 480.16 L1215.63 475.49 L1217.1 470.4 L1218.55 472.81 L1220.0 475.3 L1221.1 474.73 L1222.2 474.5 L1223.65 477.89 L1225.1 483.4 L1226.2 482.17 L1227.3 478.2 L1228.65 476.39 L1230.0 473.8 L1231.8 481.2 L1232.9 484.22 L1234.0 485.6 L1234.7 512.0 L1236.15 509.89 L1237.6 509.1 L1238.7 511.91 L1239.8 515.0 L1240.9 506.99 L1242.0 501.7 L1243.2 498.8 L1243.8 470.1 L1245.15 473.29 L1246.5 475.3 L1247.8 476.0 L1249.1 475.3 L1249.4 498.8 L1251.6 500.3 L1252.85 501.43 L1254.1 505.4 L1256.0 492.9 L1257.5 490.66 L1259.0 488.5 L1260.0 478.2 L1261.9 484.1 L1263.4 494.4 L1265.6 485.6 L1266.8 486.54 L1268.0 485.21 L1269.2 487.0 L1270.43 483.7 L1271.67 482.33 L1272.9 481.2 L1274.13 481.69 L1275.37 482.08 L1276.6 484.1 L1278.05 488.17 L1279.5 492.2 L1281.0 488.34 L1282.5 484.1 L1283.7 485.08 L1284.9 485.63 L1286.1 485.6 L1287.6 483.78 L1289.1 479.7 L1290.2 475.77 L1291.3 470.1 L1292.75 472.82 L1294.2 477.5 L1295.43 477.12 L1296.67 476.7 L1297.9 477.5 L1299.13 478.39 L1300.37 480.84 L1301.6 482.6 L1303.05 483.7 L1304.5 484.8 L1306.3 493.7 L1307.43 493.07 L1308.57 490.51 L1309.7 490.7 L1311.15 486.47 L1312.6 484.1 L1314.05 483.33 L1315.5 482.6 L1317.0 473.1 L1318.1 475.15 L1319.2 477.5 L1320.7 476.52 L1322.2 476.0 L1323.65 477.8 L1325.1 479.7 L1326.55 479.48 L1328.0 480.4 L1330.0 482.6 L1331.3 481.16 L1332.6 478.93 L1333.9 476.7 L1334.7 497.3 L1336.15 500.18 L1337.6 503.2 L1339.05 500.15 L1340.5 498.1 L1341.73 498.7 L1342.97 497.53 L1344.2 500.3 L1345.65 501.36 L1347.1 503.9 L1348.25 501.03 L1349.4 498.1 L1351.6 507.6 L1352.7 509.77 L1353.8 514.2 L1354.9 511.05 L1356.0 507.6 L1357.2 505.28 L1358.4 501.7 L1359.6 500.3 L1361.1 504.51 L1362.6 509.1 L1364.05 505.91 L1365.5 503.2 L1366.6 502.44 L1367.7 501.0 L1368.8 506.61 L1369.9 511.3 L1371.4 508.67 L1372.9 506.1 L1374.35 505.11 L1375.8 505.4 L1377.3 512.0 L1378.4 512.27 L1379.5 512.7 L1380.6 513.68 L1381.7 513.5 L1383.2 506.9 L1384.3 506.02 L1385.4 504.7 L1387.6 510.6 L1389.05 506.01 L1390.5 502.5 L1392.0 503.68 L1393.5 506.9 L1394.6 505.52 L1395.7 504.14 L1396.8 502.77 L1397.9 502.5 L1399.37 501.18 L1400.83 499.67 L1402.3 498.8 L1403.4 497.78 L1404.5 496.6 L1404.9 485.6 L1406.15 484.49 L1407.4 482.6 L1408.63 483.52 L1409.87 486.81 L1411.1 486.3 L1412.2 483.86 L1413.3 481.9 L1414.75 484.18 L1416.2 484.8 L1417.3 489.69 L1418.4 494.4 L1419.9 496.69 L1421.4 497.3 L1423.6 505.4 L1425.05 504.37 L1426.5 506.9 L1428.0 502.5 L1429.5 508.4 L1430.6 507.84 L1431.7 508.59 L1432.8 508.85 L1433.9 508.4 L1435.3 496.6 L1436.53 501.05 L1437.77 502.24 L1439.0 504.7 L1440.1 504.16 L1441.2 501.7 L1442.3 503.77 L1443.4 504.7 L1444.63 504.91 L1445.87 504.08 L1447.1 503.2 L1448.2 504.93 L1449.3 506.9 L1450.4 510.23 L1451.5 512.8 L1453.0 511.24 L1454.5 511.3 L1455.75 508.49 L1457.0 503.9 L1458.3 504.99 L1459.6 507.6 L1459.8 520.0 L1460.6 539.1 L1462.0 553.1 L1463.5 549.24 L1465.0 545.0 L1466.23 548.79 L1467.47 549.23 L1468.7 551.6 L1470.15 554.16 L1471.6 556.7 L1473.1 548.7 L1474.5 558.2 L1476.0 575.9 L1477.9 587.6 L1479.0 596.4 L1479.7 630.2 L1480.8 630.37 L1481.9 628.8 L1482.6 611.1 L1483.7 609.67 L1484.8 608.2 L1485.9 614.94 L1487.0 622.9 L1488.5 630.2 L1490.0 621.4 L1491.2 636.1 L1492.9 615.5 L1494.1 600.8 L1495.9 608.2 L1498.1 584.7 L1499.1 565.6 L1501.0 576.6 L1502.1 580.09 L1503.2 583.2 L1504.65 589.89 L1506.1 595.7 L1507.25 591.08 L1508.4 585.4 L1509.6 585.32 L1510.8 587.71 L1512.0 586.9 L1513.1 583.75 L1514.2 578.1 L1515.3 579.91 L1516.4 581.7 L1517.9 587.8 L1519.4 593.5 L1520.85 593.53 L1522.3 594.2 L1523.4 587.21 L1524.5 578.1 L1526.0 578.27 L1527.5 579.5 L1528.9 570.7 L1531.1 585.4 L1532.2 582.61 L1533.3 578.8 L1534.53 580.64 L1535.77 582.68 L1537.0 585.4 L1538.5 583.39 L1540.0 580.3 L1541.45 583.5 L1542.9 584.7 L1545.1 580.3 L1546.55 582.49 L1548.0 584.7 L1549.23 583.69 L1550.47 584.31 L1551.7 583.2 L1553.2 584.26 L1554.7 585.4 L1556.15 583.78 L1557.6 581.7 L1559.1 572.9 L1560.55 579.19 L1562.0 583.2 L1563.45 580.75 L1564.9 576.6 L1566.4 564.1 L1568.6 542.0 L1570.1 540.6 L1571.33 540.94 L1572.57 543.78 L1573.8 542.8 L1575.25 547.2 L1576.7 551.6 L1578.15 549.99 L1579.6 547.2 L1580.7 545.48 L1581.8 544.7 L1582.9 543.5 L1584.8 562.6 L1585.9 561.29 L1587.0 562.6 L1588.5 574.4 L1589.7 575.01 L1590.9 573.96 L1592.1 572.2 L1593.6 567.8 L1594.7 567.44 L1595.8 567.77 L1596.9 568.23 L1598.0 570.0 L1599.1 574.93 L1600.2 578.1 L1601.7 581.41 L1603.2 585.4 L1604.65 583.5 L1606.1 581.7 L1607.2 581.84 L1608.3 582.36 L1609.4 582.01 L1610.5 583.2 L1611.8 583.94 L1613.1 583.57 L1614.4 585.32 L1615.7 586.1 L1616.9 588.8 L1618.1 591.38 L1619.3 593.5 L1620.4 592.23 L1621.5 590.62 L1622.6 590.32 L1623.7 589.1 L1625.5 587.9 L1627.0 588.5 L1627.0 407.5 L7.3 407.5 Z" fill="rgba(239,83,80,0.055)" clip-path="url(#cd)"/>
<path d="M7.3 410.9 L8.8 424.66 L10.3 438.8 L11.53 438.68 L12.77 437.63 L14.0 437.3 L15.45 431.91 L16.9 427.0 L18.0 430.75 L19.1 435.9 L20.1 468.2 L20.6 499.1 L21.8 482.9 L22.8 466.7 L24.25 466.19 L25.7 466.0 L26.93 468.07 L28.17 468.78 L29.4 469.7 L31.0 466.03 L32.6 460.8 L33.95 464.69 L35.3 468.2 L36.9 467.75 L38.5 466.7 L39.63 464.41 L40.77 460.58 L41.9 459.4 L42.6 440.3 L44.1 446.09 L45.6 450.6 L47.05 449.13 L48.5 446.9 L49.73 446.04 L50.97 443.16 L52.2 443.2 L53.65 447.04 L55.1 453.5 L56.6 438.8 L57.6 420.4 L58.72 419.73 L59.84 420.05 L60.96 420.63 L62.08 420.37 L63.2 420.4 L64.3 426.29 L65.4 431.4 L66.9 441.7 L68.37 442.22 L69.83 443.93 L71.3 444.7 L72.0 468.2 L73.5 460.4 L75.0 452.0 L76.45 459.6 L77.9 468.2 L79.13 465.09 L80.37 459.82 L81.6 455.0 L82.83 460.3 L84.07 463.33 L85.3 468.2 L86.7 456.4 L88.2 438.8 L89.3 427.95 L90.4 418.2 L91.87 421.38 L93.33 424.99 L94.8 428.5 L96.3 427.52 L97.8 425.6 L99.0 419.89 L100.2 413.46 L101.4 407.9 L102.9 407.93 L104.4 409.4 L105.85 414.16 L107.3 419.7 L108.53 427.72 L109.77 433.29 L111.0 441.0 L112.23 437.02 L113.47 432.99 L114.7 428.5 L116.17 433.02 L117.63 439.8 L119.1 445.4 L120.38 443.45 L121.65 438.04 L122.92 436.38 L124.2 433.7 L125.38 435.52 L126.56 436.89 L127.74 439.77 L128.92 441.25 L130.1 443.2 L131.33 437.7 L132.57 435.02 L133.8 430.0 L135.02 431.97 L136.23 433.64 L137.45 435.48 L138.67 436.14 L139.88 437.42 L141.1 438.8 L142.2 442.23 L143.3 448.06 L144.4 451.54 L145.5 456.4 L146.8 452.04 L148.1 447.4 L149.4 443.6 L150.7 440.3 L151.9 444.8 L153.1 451.07 L154.3 455.0 L155.43 450.53 L156.55 448.01 L157.68 446.33 L158.8 443.2 L160.02 443.07 L161.23 441.2 L162.45 438.13 L163.67 436.44 L164.88 437.38 L166.1 435.9 L167.2 437.17 L168.3 438.71 L169.4 442.11 L170.5 443.2 L171.66 445.18 L172.81 445.63 L173.97 446.86 L175.13 448.15 L176.29 450.18 L177.44 450.61 L178.6 451.3 L179.83 448.02 L181.07 444.38 L182.3 440.3 L183.58 438.57 L184.85 440.16 L186.12 439.37 L187.4 438.1 L188.7 442.72 L190.0 445.07 L191.3 450.3 L192.6 455.0 L193.76 453.27 L194.92 448.92 L196.08 447.78 L197.24 446.32 L198.4 443.2 L199.9 450.67 L201.4 460.1 L202.58 459.41 L203.76 456.71 L204.94 454.29 L206.12 452.74 L207.3 450.6 L209.5 438.8 L211.7 422.6 L212.9 418.19 L214.1 412.89 L215.3 407.9 L216.45 398.46 L217.6 387.3 L219.05 394.15 L220.5 402.0 L221.95 394.34 L223.4 387.3 L224.58 390.44 L225.76 392.04 L226.94 393.72 L228.12 397.45 L229.3 399.1 L230.53 402.67 L231.77 403.7 L233.0 406.5 L234.23 409.63 L235.47 414.73 L236.7 419.0 L237.8 416.49 L238.9 413.98 L240.0 412.85 L241.1 409.4 L242.2 408.08 L243.3 409.25 L244.4 406.8 L245.5 407.2 L246.6 403.11 L247.7 400.67 L248.8 397.55 L249.9 393.2 L251.08 391.5 L252.26 388.78 L253.44 386.29 L254.62 383.95 L255.8 381.5 L257.02 382.66 L258.23 382.83 L259.45 383.91 L260.67 384.86 L261.88 385.17 L263.1 385.9 L264.33 392.84 L265.57 399.06 L266.8 405.0 L268.03 409.44 L269.27 411.11 L270.5 413.8 L271.97 411.05 L273.43 408.65 L274.9 406.5 L276.13 402.56 L277.37 399.33 L278.6 394.7 L280.0 406.5 L282.2 427.0 L283.3 429.7 L284.4 433.19 L285.5 437.23 L286.6 438.8 L288.07 441.28 L289.53 446.76 L291.0 452.0 L292.12 448.88 L293.25 445.7 L294.38 442.28 L295.5 438.8 L296.66 438.48 L297.82 439.29 L298.98 439.01 L300.14 438.41 L301.3 438.8 L302.77 435.72 L304.23 429.27 L305.7 424.1 L307.9 434.4 L309.2 432.33 L310.5 431.03 L311.8 429.28 L313.1 427.8 L314.55 428.85 L316.0 430.0 L317.3 425.93 L318.6 425.58 L319.9 424.68 L321.2 421.9 L322.4 423.22 L323.6 426.25 L324.8 428.5 L327.0 439.5 L328.23 436.32 L329.47 432.34 L330.7 427.8 L331.88 429.06 L333.06 426.8 L334.24 427.95 L335.42 428.1 L336.6 428.5 L337.83 429.93 L339.07 431.25 L340.3 431.4 L341.0 418.2 L342.23 417.42 L343.47 421.48 L344.7 421.9 L346.15 420.06 L347.6 420.4 L349.07 426.81 L350.53 431.08 L352.0 438.1 L353.5 434.18 L355.0 430.0 L356.45 429.4 L357.9 427.0 L359.0 437.94 L360.1 449.1 L361.33 448.74 L362.57 448.7 L363.8 447.6 L366.0 432.9 L367.45 436.71 L368.9 440.3 L370.4 440.58 L371.9 441.0 L373.1 449.25 L374.3 455.99 L375.5 462.3 L376.65 467.58 L377.8 473.3 L379.25 470.61 L380.7 463.8 L381.98 465.31 L383.25 469.24 L384.52 470.73 L385.8 473.3 L387.3 464.6 L388.8 455.7 L390.07 455.85 L391.35 455.12 L392.62 455.05 L393.9 454.2 L395.13 455.02 L396.37 457.0 L397.6 460.1 L399.05 456.16 L400.5 451.3 L402.0 454.63 L403.5 459.4 L404.8 472.93 L406.1 488.0 L407.9 478.5 L409.17 477.22 L410.45 479.1 L411.73 478.53 L413.0 477.8 L415.2 483.6 L416.43 484.47 L417.67 482.43 L418.9 482.9 L420.4 473.3 L421.5 474.05 L422.6 473.94 L423.7 476.12 L424.8 476.3 L427.0 472.6 L428.45 477.49 L429.9 480.0 L431.13 478.6 L432.37 479.7 L433.6 477.8 L434.83 480.74 L436.07 482.07 L437.3 484.4 L438.77 481.45 L440.23 482.52 L441.7 480.0 L442.93 477.46 L444.17 474.61 L445.4 472.6 L446.8 453.5 L448.3 437.3 L450.5 430.7 L451.73 431.73 L452.97 432.47 L454.2 432.9 L455.3 433.1 L456.4 430.28 L457.5 430.98 L458.6 429.2 L460.1 434.4 L460.5 407.9 L460.8 396.9 L463.0 402.8 L464.5 407.9 L465.5 413.8 L466.7 407.2 L468.9 395.4 L470.35 401.32 L471.8 405.0 L474.0 396.2 L475.23 399.99 L476.47 401.46 L477.7 404.3 L479.9 407.9 L481.0 410.29 L482.1 413.8 L483.6 411.6 L484.83 414.56 L486.07 416.09 L487.3 418.2 L488.4 427.0 L489.65 425.64 L490.9 424.1 L491.7 456.4 L493.3 458.57 L494.9 458.6 L496.8 455.0 L498.3 481.4 L499.8 494.7 L500.9 509.4 L502.15 501.85 L503.4 494.7 L504.9 491.48 L506.4 491.7 L507.85 494.36 L509.3 497.6 L511.1 503.5 L513.0 491.7 L514.1 487.36 L515.2 485.8 L517.4 474.1 L518.85 469.56 L520.3 463.8 L521.8 473.59 L523.3 482.9 L524.7 474.1 L526.2 476.59 L527.7 480.0 L529.9 469.7 L531.13 465.26 L532.37 461.46 L533.6 456.4 L535.5 443.2 L536.1 407.9 L536.2 339.6 L537.6 293.3 L539.8 329.4 L541.3 277.26 L542.8 225.0 L544.3 260.3 L545.75 266.44 L547.2 270.6 L548.7 295.5 L550.9 302.9 L552.0 308.75 L553.1 314.7 L554.5 332.3 L554.5 342.0 L555.85 345.38 L557.2 347.2 L559.4 334.7 L560.5 339.47 L561.6 342.0 L563.05 339.56 L564.5 334.7 L565.3 325.9 L567.0 317.6 L568.1 306.8 L569.2 297.0 L571.4 269.1 L572.55 271.96 L573.7 273.5 L575.9 285.3 L577.35 268.79 L578.8 255.1 L580.25 269.39 L581.7 285.3 L583.2 262.13 L584.7 241.9 L586.15 261.45 L587.6 279.4 L589.1 258.8 L590.33 255.41 L591.57 253.86 L592.8 251.4 L593.9 263.76 L595.0 276.4 L596.45 271.98 L597.9 267.6 L598.6 208.8 L599.1 158.5 L600.8 174.7 L602.3 171.31 L603.8 168.8 L604.9 179.28 L606.0 189.4 L607.23 186.81 L608.47 181.57 L609.7 177.6 L611.15 175.05 L612.6 171.7 L614.05 153.35 L615.5 133.5 L616.65 148.05 L617.8 162.9 L618.9 156.81 L620.0 152.6 L621.1 161.73 L622.2 171.7 L623.65 181.36 L625.1 189.4 L626.55 180.82 L628.0 174.7 L630.0 157.8 L631.25 169.45 L632.5 182.0 L633.6 177.61 L634.7 171.7 L636.15 180.39 L637.6 187.9 L639.8 184.9 L640.0 183.5 L641.5 189.4 L642.9 204.1 L644.4 204.81 L645.9 205.5 L647.0 203.9 L648.1 201.1 L650.3 212.9 L651.75 208.22 L653.2 203.3 L654.7 207.22 L656.2 212.9 L658.4 226.1 L659.8 243.0 L661.3 239.28 L662.8 237.9 L664.3 223.2 L665.75 216.82 L667.2 211.4 L668.7 203.3 L670.15 207.34 L671.6 210.0 L673.05 206.63 L674.5 204.1 L676.0 183.5 L676.7 171.7 L677.9 160.7 L679.15 164.07 L680.4 168.8 L681.5 171.52 L682.6 175.4 L684.1 152.6 L686.3 135.7 L687.8 149.7 L688.9 152.2 L690.0 157.0 L691.4 179.1 L692.55 181.96 L693.7 185.0 L695.1 194.5 L697.3 189.4 L698.4 189.22 L699.5 190.8 L701.0 166.6 L702.1 174.57 L703.2 182.0 L705.4 189.4 L706.5 184.68 L707.6 183.5 L709.1 168.8 L710.3 157.0 L712.0 167.3 L713.5 174.7 L715.0 191.6 L716.4 168.8 L717.5 172.0 L718.6 174.7 L720.8 162.2 L722.3 168.8 L723.4 173.47 L724.5 179.1 L725.6 174.69 L726.7 173.2 L727.93 173.24 L729.17 171.99 L730.4 171.7 L730.8 149.7 L731.9 150.96 L733.0 154.91 L734.1 158.5 L735.33 160.92 L736.57 162.56 L737.8 165.1 L738.9 160.18 L740.0 154.1 L741.1 124.7 L742.9 114.4 L744.0 126.01 L745.1 136.5 L747.3 136.5 L749.1 115.9 L750.4 124.45 L751.7 132.0 L753.2 124.19 L754.7 115.9 L756.1 136.5 L758.3 147.5 L759.8 142.3 L761.3 155.6 L762.0 168.8 L763.1 173.85 L764.2 176.9 L766.4 170.3 L767.5 172.59 L768.6 173.9 L770.1 167.3 L772.0 157.8 L773.8 165.1 L775.2 161.4 L777.4 171.0 L778.9 187.9 L780.0 187.89 L781.1 187.2 L782.6 204.1 L784.1 229.1 L786.3 218.8 L787.4 212.44 L788.5 209.2 L789.9 224.7 L791.0 220.92 L792.1 215.8 L793.6 210.53 L795.1 203.3 L796.55 204.18 L798.0 205.5 L799.1 207.4 L800.2 210.0 L802.4 215.8 L803.5 212.86 L804.6 207.0 L806.1 202.6 L808.3 207.0 L809.4 207.88 L810.5 211.4 L812.0 189.4 L813.1 188.25 L814.2 186.4 L815.65 191.17 L817.1 192.3 L818.35 193.8 L819.6 196.7 L820.1 157.0 L821.55 159.72 L823.0 161.4 L824.13 159.15 L825.27 153.98 L826.4 150.4 L827.65 154.87 L828.9 158.5 L830.4 171.7 L831.8 183.5 L833.3 200.4 L834.8 191.6 L836.25 188.23 L837.7 183.5 L839.9 176.9 L841.13 179.65 L842.37 183.7 L843.6 187.2 L845.05 187.77 L846.5 187.9 L847.6 181.92 L848.7 174.7 L850.9 185.0 L852.4 187.9 L853.9 199.7 L855.0 193.77 L856.1 187.9 L858.3 179.1 L859.4 177.85 L860.5 176.9 L861.6 182.39 L862.7 189.4 L863.93 188.63 L865.17 189.07 L866.4 187.9 L867.5 184.68 L868.6 181.3 L870.8 190.1 L871.9 192.06 L873.0 195.3 L874.45 196.12 L875.9 198.2 L877.4 198.35 L878.9 194.5 L880.35 197.95 L881.8 199.7 L882.5 215.8 L883.6 221.43 L884.7 226.1 L886.2 234.2 L887.7 225.26 L889.2 220.2 L891.4 227.6 L892.85 229.17 L894.3 229.8 L895.6 227.61 L896.9 224.7 L898.0 239.4 L899.4 246.7 L900.5 245.76 L901.6 242.3 L903.1 229.8 L904.6 232.67 L906.1 234.9 L907.2 249.6 L907.9 277.2 L909.4 277.15 L910.9 277.2 L912.35 273.19 L913.8 268.4 L914.5 283.1 L915.6 276.84 L916.7 273.5 L918.2 275.77 L919.7 276.5 L921.9 266.9 L923.4 275.7 L924.6 275.21 L925.8 273.71 L927.0 273.5 L928.23 275.49 L929.47 276.86 L930.7 276.5 L931.95 271.75 L933.2 269.1 L934.55 273.0 L935.9 277.9 L937.0 283.67 L938.1 289.0 L939.5 267.6 L940.6 263.74 L941.7 259.6 L943.9 263.2 L945.13 260.7 L946.37 258.07 L947.6 256.6 L949.8 263.2 L950.9 272.14 L952.0 277.9 L953.47 278.68 L954.93 277.0 L956.4 277.9 L957.63 278.62 L958.87 282.64 L960.1 283.1 L961.6 294.1 L963.1 316.1 L964.5 347.0 L965.3 335.3 L966.75 341.89 L968.2 347.0 L969.65 350.57 L971.1 351.4 L972.33 354.94 L973.57 356.61 L974.8 360.2 L975.9 367.05 L977.0 373.5 L977.8 389.6 L978.5 382.3 L979.95 377.73 L981.4 376.4 L982.63 370.44 L983.87 365.56 L985.1 360.2 L986.55 360.59 L988.0 360.2 L989.1 363.0 L990.2 366.9 L991.35 369.36 L992.5 372.0 L993.9 378.6 L995.0 377.09 L996.1 374.9 L996.1 355.8 L997.6 351.68 L999.1 347.0 L999.8 358.8 L1000.9 362.93 L1002.0 366.1 L1003.1 359.66 L1004.2 352.9 L1004.9 347.0 L1006.4 351.16 L1007.9 355.8 L1009.4 363.2 L1010.8 376.4 L1012.3 388.2 L1012.3 394.7 L1013.5 407.5 L1013.5 424.1 L1014.6 436.44 L1015.7 447.6 L1016.93 442.74 L1018.17 437.18 L1019.4 432.9 L1020.7 424.33 L1022.0 416.7 L1023.1 430.0 L1025.3 435.9 L1026.0 459.4 L1027.1 452.05 L1028.2 444.7 L1028.9 482.9 L1029.7 503.5 L1031.6 525.5 L1033.3 509.4 L1034.53 501.95 L1035.77 494.78 L1037.0 487.3 L1038.5 498.7 L1040.0 510.1 L1041.1 503.23 L1042.2 496.1 L1043.3 500.4 L1044.4 504.9 L1045.6 506.42 L1046.8 510.15 L1048.0 512.3 L1049.5 482.9 L1051.0 468.9 L1052.28 469.89 L1053.55 469.63 L1054.82 469.36 L1056.1 469.7 L1057.6 481.4 L1058.7 487.98 L1059.8 493.9 L1061.25 487.68 L1062.7 482.9 L1064.2 475.5 L1065.7 491.7 L1066.8 502.03 L1067.9 515.2 L1070.1 500.5 L1071.2 503.49 L1072.3 506.4 L1073.4 512.3 L1074.5 519.6 L1075.95 539.3 L1077.4 557.9 L1078.9 546.79 L1080.4 537.3 L1081.4 497.6 L1082.53 490.73 L1083.67 487.02 L1084.8 482.9 L1086.0 471.9 L1087.25 480.03 L1088.5 485.8 L1089.7 490.18 L1090.9 494.11 L1092.1 499.8 L1093.6 487.83 L1095.1 477.0 L1096.55 482.54 L1098.0 487.3 L1099.23 491.11 L1100.47 494.3 L1101.7 497.6 L1103.15 494.31 L1104.6 488.8 L1105.7 487.3 L1106.8 484.73 L1107.9 483.17 L1109.0 480.7 L1110.1 485.24 L1111.2 487.3 L1112.43 490.96 L1113.67 493.93 L1114.9 496.1 L1117.1 513.8 L1118.6 482.9 L1119.7 479.14 L1120.8 477.0 L1121.5 456.4 L1123.0 448.94 L1124.5 441.7 L1125.9 452.0 L1127.05 448.9 L1128.2 444.7 L1129.65 450.73 L1131.1 457.2 L1132.55 454.3 L1134.0 449.8 L1135.5 455.75 L1137.0 460.8 L1138.1 453.43 L1139.2 444.7 L1140.65 446.74 L1142.1 449.1 L1143.2 457.61 L1144.3 462.3 L1145.8 458.83 L1147.3 453.5 L1148.75 451.89 L1150.2 450.6 L1151.65 441.82 L1153.1 432.9 L1154.5 433.15 L1155.9 429.24 L1157.3 427.8 L1158.6 431.89 L1159.9 435.4 L1161.2 438.1 L1162.43 436.64 L1163.67 434.29 L1164.9 433.7 L1166.37 435.31 L1167.83 436.9 L1169.3 438.1 L1170.4 442.95 L1171.5 446.1 L1172.6 451.84 L1173.7 456.4 L1175.2 462.32 L1176.7 468.2 L1178.17 466.37 L1179.63 463.67 L1181.1 460.8 L1182.5 475.5 L1184.0 485.8 L1185.45 485.25 L1186.9 484.4 L1188.4 480.74 L1189.9 477.0 L1191.4 464.5 L1192.8 480.0 L1194.03 477.85 L1195.27 476.58 L1196.5 474.1 L1197.6 471.83 L1198.7 470.68 L1199.8 469.68 L1200.9 468.2 L1203.1 480.0 L1204.2 482.9 L1205.3 488.0 L1206.4 482.17 L1207.5 477.0 L1209.0 474.04 L1210.5 474.1 L1211.6 478.74 L1212.7 484.4 L1214.17 480.16 L1215.63 475.49 L1217.1 470.4 L1218.55 472.81 L1220.0 475.3 L1221.1 474.73 L1222.2 474.5 L1223.65 477.89 L1225.1 483.4 L1226.2 482.17 L1227.3 478.2 L1228.65 476.39 L1230.0 473.8 L1231.8 481.2 L1232.9 484.22 L1234.0 485.6 L1234.7 512.0 L1236.15 509.89 L1237.6 509.1 L1238.7 511.91 L1239.8 515.0 L1240.9 506.99 L1242.0 501.7 L1243.2 498.8 L1243.8 470.1 L1245.15 473.29 L1246.5 475.3 L1247.8 476.0 L1249.1 475.3 L1249.4 498.8 L1251.6 500.3 L1252.85 501.43 L1254.1 505.4 L1256.0 492.9 L1257.5 490.66 L1259.0 488.5 L1260.0 478.2 L1261.9 484.1 L1263.4 494.4 L1265.6 485.6 L1266.8 486.54 L1268.0 485.21 L1269.2 487.0 L1270.43 483.7 L1271.67 482.33 L1272.9 481.2 L1274.13 481.69 L1275.37 482.08 L1276.6 484.1 L1278.05 488.17 L1279.5 492.2 L1281.0 488.34 L1282.5 484.1 L1283.7 485.08 L1284.9 485.63 L1286.1 485.6 L1287.6 483.78 L1289.1 479.7 L1290.2 475.77 L1291.3 470.1 L1292.75 472.82 L1294.2 477.5 L1295.43 477.12 L1296.67 476.7 L1297.9 477.5 L1299.13 478.39 L1300.37 480.84 L1301.6 482.6 L1303.05 483.7 L1304.5 484.8 L1306.3 493.7 L1307.43 493.07 L1308.57 490.51 L1309.7 490.7 L1311.15 486.47 L1312.6 484.1 L1314.05 483.33 L1315.5 482.6 L1317.0 473.1 L1318.1 475.15 L1319.2 477.5 L1320.7 476.52 L1322.2 476.0 L1323.65 477.8 L1325.1 479.7 L1326.55 479.48 L1328.0 480.4 L1330.0 482.6 L1331.3 481.16 L1332.6 478.93 L1333.9 476.7 L1334.7 497.3 L1336.15 500.18 L1337.6 503.2 L1339.05 500.15 L1340.5 498.1 L1341.73 498.7 L1342.97 497.53 L1344.2 500.3 L1345.65 501.36 L1347.1 503.9 L1348.25 501.03 L1349.4 498.1 L1351.6 507.6 L1352.7 509.77 L1353.8 514.2 L1354.9 511.05 L1356.0 507.6 L1357.2 505.28 L1358.4 501.7 L1359.6 500.3 L1361.1 504.51 L1362.6 509.1 L1364.05 505.91 L1365.5 503.2 L1366.6 502.44 L1367.7 501.0 L1368.8 506.61 L1369.9 511.3 L1371.4 508.67 L1372.9 506.1 L1374.35 505.11 L1375.8 505.4 L1377.3 512.0 L1378.4 512.27 L1379.5 512.7 L1380.6 513.68 L1381.7 513.5 L1383.2 506.9 L1384.3 506.02 L1385.4 504.7 L1387.6 510.6 L1389.05 506.01 L1390.5 502.5 L1392.0 503.68 L1393.5 506.9 L1394.6 505.52 L1395.7 504.14 L1396.8 502.77 L1397.9 502.5 L1399.37 501.18 L1400.83 499.67 L1402.3 498.8 L1403.4 497.78 L1404.5 496.6 L1404.9 485.6 L1406.15 484.49 L1407.4 482.6 L1408.63 483.52 L1409.87 486.81 L1411.1 486.3 L1412.2 483.86 L1413.3 481.9 L1414.75 484.18 L1416.2 484.8 L1417.3 489.69 L1418.4 494.4 L1419.9 496.69 L1421.4 497.3 L1423.6 505.4 L1425.05 504.37 L1426.5 506.9 L1428.0 502.5 L1429.5 508.4 L1430.6 507.84 L1431.7 508.59 L1432.8 508.85 L1433.9 508.4 L1435.3 496.6 L1436.53 501.05 L1437.77 502.24 L1439.0 504.7 L1440.1 504.16 L1441.2 501.7 L1442.3 503.77 L1443.4 504.7 L1444.63 504.91 L1445.87 504.08 L1447.1 503.2 L1448.2 504.93 L1449.3 506.9 L1450.4 510.23 L1451.5 512.8 L1453.0 511.24 L1454.5 511.3 L1455.75 508.49 L1457.0 503.9 L1458.3 504.99 L1459.6 507.6 L1459.8 520.0 L1460.6 539.1 L1462.0 553.1 L1463.5 549.24 L1465.0 545.0 L1466.23 548.79 L1467.47 549.23 L1468.7 551.6 L1470.15 554.16 L1471.6 556.7 L1473.1 548.7 L1474.5 558.2 L1476.0 575.9 L1477.9 587.6 L1479.0 596.4 L1479.7 630.2 L1480.8 630.37 L1481.9 628.8 L1482.6 611.1 L1483.7 609.67 L1484.8 608.2 L1485.9 614.94 L1487.0 622.9 L1488.5 630.2 L1490.0 621.4 L1491.2 636.1 L1492.9 615.5 L1494.1 600.8 L1495.9 608.2 L1498.1 584.7 L1499.1 565.6 L1501.0 576.6 L1502.1 580.09 L1503.2 583.2 L1504.65 589.89 L1506.1 595.7 L1507.25 591.08 L1508.4 585.4 L1509.6 585.32 L1510.8 587.71 L1512.0 586.9 L1513.1 583.75 L1514.2 578.1 L1515.3 579.91 L1516.4 581.7 L1517.9 587.8 L1519.4 593.5 L1520.85 593.53 L1522.3 594.2 L1523.4 587.21 L1524.5 578.1 L1526.0 578.27 L1527.5 579.5 L1528.9 570.7 L1531.1 585.4 L1532.2 582.61 L1533.3 578.8 L1534.53 580.64 L1535.77 582.68 L1537.0 585.4 L1538.5 583.39 L1540.0 580.3 L1541.45 583.5 L1542.9 584.7 L1545.1 580.3 L1546.55 582.49 L1548.0 584.7 L1549.23 583.69 L1550.47 584.31 L1551.7 583.2 L1553.2 584.26 L1554.7 585.4 L1556.15 583.78 L1557.6 581.7 L1559.1 572.9 L1560.55 579.19 L1562.0 583.2 L1563.45 580.75 L1564.9 576.6 L1566.4 564.1 L1568.6 542.0 L1570.1 540.6 L1571.33 540.94 L1572.57 543.78 L1573.8 542.8 L1575.25 547.2 L1576.7 551.6 L1578.15 549.99 L1579.6 547.2 L1580.7 545.48 L1581.8 544.7 L1582.9 543.5 L1584.8 562.6 L1585.9 561.29 L1587.0 562.6 L1588.5 574.4 L1589.7 575.01 L1590.9 573.96 L1592.1 572.2 L1593.6 567.8 L1594.7 567.44 L1595.8 567.77 L1596.9 568.23 L1598.0 570.0 L1599.1 574.93 L1600.2 578.1 L1601.7 581.41 L1603.2 585.4 L1604.65 583.5 L1606.1 581.7 L1607.2 581.84 L1608.3 582.36 L1609.4 582.01 L1610.5 583.2 L1611.8 583.94 L1613.1 583.57 L1614.4 585.32 L1615.7 586.1 L1616.9 588.8 L1618.1 591.38 L1619.3 593.5 L1620.4 592.23 L1621.5 590.62 L1622.6 590.32 L1623.7 589.1 L1625.5 587.9 L1627.0 588.5" fill="none" stroke="#26a69a" stroke-width="3.1" stroke-linejoin="round" clip-path="url(#cu)"/>
<path d="M7.3 410.9 L8.8 424.66 L10.3 438.8 L11.53 438.68 L12.77 437.63 L14.0 437.3 L15.45 431.91 L16.9 427.0 L18.0 430.75 L19.1 435.9 L20.1 468.2 L20.6 499.1 L21.8 482.9 L22.8 466.7 L24.25 466.19 L25.7 466.0 L26.93 468.07 L28.17 468.78 L29.4 469.7 L31.0 466.03 L32.6 460.8 L33.95 464.69 L35.3 468.2 L36.9 467.75 L38.5 466.7 L39.63 464.41 L40.77 460.58 L41.9 459.4 L42.6 440.3 L44.1 446.09 L45.6 450.6 L47.05 449.13 L48.5 446.9 L49.73 446.04 L50.97 443.16 L52.2 443.2 L53.65 447.04 L55.1 453.5 L56.6 438.8 L57.6 420.4 L58.72 419.73 L59.84 420.05 L60.96 420.63 L62.08 420.37 L63.2 420.4 L64.3 426.29 L65.4 431.4 L66.9 441.7 L68.37 442.22 L69.83 443.93 L71.3 444.7 L72.0 468.2 L73.5 460.4 L75.0 452.0 L76.45 459.6 L77.9 468.2 L79.13 465.09 L80.37 459.82 L81.6 455.0 L82.83 460.3 L84.07 463.33 L85.3 468.2 L86.7 456.4 L88.2 438.8 L89.3 427.95 L90.4 418.2 L91.87 421.38 L93.33 424.99 L94.8 428.5 L96.3 427.52 L97.8 425.6 L99.0 419.89 L100.2 413.46 L101.4 407.9 L102.9 407.93 L104.4 409.4 L105.85 414.16 L107.3 419.7 L108.53 427.72 L109.77 433.29 L111.0 441.0 L112.23 437.02 L113.47 432.99 L114.7 428.5 L116.17 433.02 L117.63 439.8 L119.1 445.4 L120.38 443.45 L121.65 438.04 L122.92 436.38 L124.2 433.7 L125.38 435.52 L126.56 436.89 L127.74 439.77 L128.92 441.25 L130.1 443.2 L131.33 437.7 L132.57 435.02 L133.8 430.0 L135.02 431.97 L136.23 433.64 L137.45 435.48 L138.67 436.14 L139.88 437.42 L141.1 438.8 L142.2 442.23 L143.3 448.06 L144.4 451.54 L145.5 456.4 L146.8 452.04 L148.1 447.4 L149.4 443.6 L150.7 440.3 L151.9 444.8 L153.1 451.07 L154.3 455.0 L155.43 450.53 L156.55 448.01 L157.68 446.33 L158.8 443.2 L160.02 443.07 L161.23 441.2 L162.45 438.13 L163.67 436.44 L164.88 437.38 L166.1 435.9 L167.2 437.17 L168.3 438.71 L169.4 442.11 L170.5 443.2 L171.66 445.18 L172.81 445.63 L173.97 446.86 L175.13 448.15 L176.29 450.18 L177.44 450.61 L178.6 451.3 L179.83 448.02 L181.07 444.38 L182.3 440.3 L183.58 438.57 L184.85 440.16 L186.12 439.37 L187.4 438.1 L188.7 442.72 L190.0 445.07 L191.3 450.3 L192.6 455.0 L193.76 453.27 L194.92 448.92 L196.08 447.78 L197.24 446.32 L198.4 443.2 L199.9 450.67 L201.4 460.1 L202.58 459.41 L203.76 456.71 L204.94 454.29 L206.12 452.74 L207.3 450.6 L209.5 438.8 L211.7 422.6 L212.9 418.19 L214.1 412.89 L215.3 407.9 L216.45 398.46 L217.6 387.3 L219.05 394.15 L220.5 402.0 L221.95 394.34 L223.4 387.3 L224.58 390.44 L225.76 392.04 L226.94 393.72 L228.12 397.45 L229.3 399.1 L230.53 402.67 L231.77 403.7 L233.0 406.5 L234.23 409.63 L235.47 414.73 L236.7 419.0 L237.8 416.49 L238.9 413.98 L240.0 412.85 L241.1 409.4 L242.2 408.08 L243.3 409.25 L244.4 406.8 L245.5 407.2 L246.6 403.11 L247.7 400.67 L248.8 397.55 L249.9 393.2 L251.08 391.5 L252.26 388.78 L253.44 386.29 L254.62 383.95 L255.8 381.5 L257.02 382.66 L258.23 382.83 L259.45 383.91 L260.67 384.86 L261.88 385.17 L263.1 385.9 L264.33 392.84 L265.57 399.06 L266.8 405.0 L268.03 409.44 L269.27 411.11 L270.5 413.8 L271.97 411.05 L273.43 408.65 L274.9 406.5 L276.13 402.56 L277.37 399.33 L278.6 394.7 L280.0 406.5 L282.2 427.0 L283.3 429.7 L284.4 433.19 L285.5 437.23 L286.6 438.8 L288.07 441.28 L289.53 446.76 L291.0 452.0 L292.12 448.88 L293.25 445.7 L294.38 442.28 L295.5 438.8 L296.66 438.48 L297.82 439.29 L298.98 439.01 L300.14 438.41 L301.3 438.8 L302.77 435.72 L304.23 429.27 L305.7 424.1 L307.9 434.4 L309.2 432.33 L310.5 431.03 L311.8 429.28 L313.1 427.8 L314.55 428.85 L316.0 430.0 L317.3 425.93 L318.6 425.58 L319.9 424.68 L321.2 421.9 L322.4 423.22 L323.6 426.25 L324.8 428.5 L327.0 439.5 L328.23 436.32 L329.47 432.34 L330.7 427.8 L331.88 429.06 L333.06 426.8 L334.24 427.95 L335.42 428.1 L336.6 428.5 L337.83 429.93 L339.07 431.25 L340.3 431.4 L341.0 418.2 L342.23 417.42 L343.47 421.48 L344.7 421.9 L346.15 420.06 L347.6 420.4 L349.07 426.81 L350.53 431.08 L352.0 438.1 L353.5 434.18 L355.0 430.0 L356.45 429.4 L357.9 427.0 L359.0 437.94 L360.1 449.1 L361.33 448.74 L362.57 448.7 L363.8 447.6 L366.0 432.9 L367.45 436.71 L368.9 440.3 L370.4 440.58 L371.9 441.0 L373.1 449.25 L374.3 455.99 L375.5 462.3 L376.65 467.58 L377.8 473.3 L379.25 470.61 L380.7 463.8 L381.98 465.31 L383.25 469.24 L384.52 470.73 L385.8 473.3 L387.3 464.6 L388.8 455.7 L390.07 455.85 L391.35 455.12 L392.62 455.05 L393.9 454.2 L395.13 455.02 L396.37 457.0 L397.6 460.1 L399.05 456.16 L400.5 451.3 L402.0 454.63 L403.5 459.4 L404.8 472.93 L406.1 488.0 L407.9 478.5 L409.17 477.22 L410.45 479.1 L411.73 478.53 L413.0 477.8 L415.2 483.6 L416.43 484.47 L417.67 482.43 L418.9 482.9 L420.4 473.3 L421.5 474.05 L422.6 473.94 L423.7 476.12 L424.8 476.3 L427.0 472.6 L428.45 477.49 L429.9 480.0 L431.13 478.6 L432.37 479.7 L433.6 477.8 L434.83 480.74 L436.07 482.07 L437.3 484.4 L438.77 481.45 L440.23 482.52 L441.7 480.0 L442.93 477.46 L444.17 474.61 L445.4 472.6 L446.8 453.5 L448.3 437.3 L450.5 430.7 L451.73 431.73 L452.97 432.47 L454.2 432.9 L455.3 433.1 L456.4 430.28 L457.5 430.98 L458.6 429.2 L460.1 434.4 L460.5 407.9 L460.8 396.9 L463.0 402.8 L464.5 407.9 L465.5 413.8 L466.7 407.2 L468.9 395.4 L470.35 401.32 L471.8 405.0 L474.0 396.2 L475.23 399.99 L476.47 401.46 L477.7 404.3 L479.9 407.9 L481.0 410.29 L482.1 413.8 L483.6 411.6 L484.83 414.56 L486.07 416.09 L487.3 418.2 L488.4 427.0 L489.65 425.64 L490.9 424.1 L491.7 456.4 L493.3 458.57 L494.9 458.6 L496.8 455.0 L498.3 481.4 L499.8 494.7 L500.9 509.4 L502.15 501.85 L503.4 494.7 L504.9 491.48 L506.4 491.7 L507.85 494.36 L509.3 497.6 L511.1 503.5 L513.0 491.7 L514.1 487.36 L515.2 485.8 L517.4 474.1 L518.85 469.56 L520.3 463.8 L521.8 473.59 L523.3 482.9 L524.7 474.1 L526.2 476.59 L527.7 480.0 L529.9 469.7 L531.13 465.26 L532.37 461.46 L533.6 456.4 L535.5 443.2 L536.1 407.9 L536.2 339.6 L537.6 293.3 L539.8 329.4 L541.3 277.26 L542.8 225.0 L544.3 260.3 L545.75 266.44 L547.2 270.6 L548.7 295.5 L550.9 302.9 L552.0 308.75 L553.1 314.7 L554.5 332.3 L554.5 342.0 L555.85 345.38 L557.2 347.2 L559.4 334.7 L560.5 339.47 L561.6 342.0 L563.05 339.56 L564.5 334.7 L565.3 325.9 L567.0 317.6 L568.1 306.8 L569.2 297.0 L571.4 269.1 L572.55 271.96 L573.7 273.5 L575.9 285.3 L577.35 268.79 L578.8 255.1 L580.25 269.39 L581.7 285.3 L583.2 262.13 L584.7 241.9 L586.15 261.45 L587.6 279.4 L589.1 258.8 L590.33 255.41 L591.57 253.86 L592.8 251.4 L593.9 263.76 L595.0 276.4 L596.45 271.98 L597.9 267.6 L598.6 208.8 L599.1 158.5 L600.8 174.7 L602.3 171.31 L603.8 168.8 L604.9 179.28 L606.0 189.4 L607.23 186.81 L608.47 181.57 L609.7 177.6 L611.15 175.05 L612.6 171.7 L614.05 153.35 L615.5 133.5 L616.65 148.05 L617.8 162.9 L618.9 156.81 L620.0 152.6 L621.1 161.73 L622.2 171.7 L623.65 181.36 L625.1 189.4 L626.55 180.82 L628.0 174.7 L630.0 157.8 L631.25 169.45 L632.5 182.0 L633.6 177.61 L634.7 171.7 L636.15 180.39 L637.6 187.9 L639.8 184.9 L640.0 183.5 L641.5 189.4 L642.9 204.1 L644.4 204.81 L645.9 205.5 L647.0 203.9 L648.1 201.1 L650.3 212.9 L651.75 208.22 L653.2 203.3 L654.7 207.22 L656.2 212.9 L658.4 226.1 L659.8 243.0 L661.3 239.28 L662.8 237.9 L664.3 223.2 L665.75 216.82 L667.2 211.4 L668.7 203.3 L670.15 207.34 L671.6 210.0 L673.05 206.63 L674.5 204.1 L676.0 183.5 L676.7 171.7 L677.9 160.7 L679.15 164.07 L680.4 168.8 L681.5 171.52 L682.6 175.4 L684.1 152.6 L686.3 135.7 L687.8 149.7 L688.9 152.2 L690.0 157.0 L691.4 179.1 L692.55 181.96 L693.7 185.0 L695.1 194.5 L697.3 189.4 L698.4 189.22 L699.5 190.8 L701.0 166.6 L702.1 174.57 L703.2 182.0 L705.4 189.4 L706.5 184.68 L707.6 183.5 L709.1 168.8 L710.3 157.0 L712.0 167.3 L713.5 174.7 L715.0 191.6 L716.4 168.8 L717.5 172.0 L718.6 174.7 L720.8 162.2 L722.3 168.8 L723.4 173.47 L724.5 179.1 L725.6 174.69 L726.7 173.2 L727.93 173.24 L729.17 171.99 L730.4 171.7 L730.8 149.7 L731.9 150.96 L733.0 154.91 L734.1 158.5 L735.33 160.92 L736.57 162.56 L737.8 165.1 L738.9 160.18 L740.0 154.1 L741.1 124.7 L742.9 114.4 L744.0 126.01 L745.1 136.5 L747.3 136.5 L749.1 115.9 L750.4 124.45 L751.7 132.0 L753.2 124.19 L754.7 115.9 L756.1 136.5 L758.3 147.5 L759.8 142.3 L761.3 155.6 L762.0 168.8 L763.1 173.85 L764.2 176.9 L766.4 170.3 L767.5 172.59 L768.6 173.9 L770.1 167.3 L772.0 157.8 L773.8 165.1 L775.2 161.4 L777.4 171.0 L778.9 187.9 L780.0 187.89 L781.1 187.2 L782.6 204.1 L784.1 229.1 L786.3 218.8 L787.4 212.44 L788.5 209.2 L789.9 224.7 L791.0 220.92 L792.1 215.8 L793.6 210.53 L795.1 203.3 L796.55 204.18 L798.0 205.5 L799.1 207.4 L800.2 210.0 L802.4 215.8 L803.5 212.86 L804.6 207.0 L806.1 202.6 L808.3 207.0 L809.4 207.88 L810.5 211.4 L812.0 189.4 L813.1 188.25 L814.2 186.4 L815.65 191.17 L817.1 192.3 L818.35 193.8 L819.6 196.7 L820.1 157.0 L821.55 159.72 L823.0 161.4 L824.13 159.15 L825.27 153.98 L826.4 150.4 L827.65 154.87 L828.9 158.5 L830.4 171.7 L831.8 183.5 L833.3 200.4 L834.8 191.6 L836.25 188.23 L837.7 183.5 L839.9 176.9 L841.13 179.65 L842.37 183.7 L843.6 187.2 L845.05 187.77 L846.5 187.9 L847.6 181.92 L848.7 174.7 L850.9 185.0 L852.4 187.9 L853.9 199.7 L855.0 193.77 L856.1 187.9 L858.3 179.1 L859.4 177.85 L860.5 176.9 L861.6 182.39 L862.7 189.4 L863.93 188.63 L865.17 189.07 L866.4 187.9 L867.5 184.68 L868.6 181.3 L870.8 190.1 L871.9 192.06 L873.0 195.3 L874.45 196.12 L875.9 198.2 L877.4 198.35 L878.9 194.5 L880.35 197.95 L881.8 199.7 L882.5 215.8 L883.6 221.43 L884.7 226.1 L886.2 234.2 L887.7 225.26 L889.2 220.2 L891.4 227.6 L892.85 229.17 L894.3 229.8 L895.6 227.61 L896.9 224.7 L898.0 239.4 L899.4 246.7 L900.5 245.76 L901.6 242.3 L903.1 229.8 L904.6 232.67 L906.1 234.9 L907.2 249.6 L907.9 277.2 L909.4 277.15 L910.9 277.2 L912.35 273.19 L913.8 268.4 L914.5 283.1 L915.6 276.84 L916.7 273.5 L918.2 275.77 L919.7 276.5 L921.9 266.9 L923.4 275.7 L924.6 275.21 L925.8 273.71 L927.0 273.5 L928.23 275.49 L929.47 276.86 L930.7 276.5 L931.95 271.75 L933.2 269.1 L934.55 273.0 L935.9 277.9 L937.0 283.67 L938.1 289.0 L939.5 267.6 L940.6 263.74 L941.7 259.6 L943.9 263.2 L945.13 260.7 L946.37 258.07 L947.6 256.6 L949.8 263.2 L950.9 272.14 L952.0 277.9 L953.47 278.68 L954.93 277.0 L956.4 277.9 L957.63 278.62 L958.87 282.64 L960.1 283.1 L961.6 294.1 L963.1 316.1 L964.5 347.0 L965.3 335.3 L966.75 341.89 L968.2 347.0 L969.65 350.57 L971.1 351.4 L972.33 354.94 L973.57 356.61 L974.8 360.2 L975.9 367.05 L977.0 373.5 L977.8 389.6 L978.5 382.3 L979.95 377.73 L981.4 376.4 L982.63 370.44 L983.87 365.56 L985.1 360.2 L986.55 360.59 L988.0 360.2 L989.1 363.0 L990.2 366.9 L991.35 369.36 L992.5 372.0 L993.9 378.6 L995.0 377.09 L996.1 374.9 L996.1 355.8 L997.6 351.68 L999.1 347.0 L999.8 358.8 L1000.9 362.93 L1002.0 366.1 L1003.1 359.66 L1004.2 352.9 L1004.9 347.0 L1006.4 351.16 L1007.9 355.8 L1009.4 363.2 L1010.8 376.4 L1012.3 388.2 L1012.3 394.7 L1013.5 407.5 L1013.5 424.1 L1014.6 436.44 L1015.7 447.6 L1016.93 442.74 L1018.17 437.18 L1019.4 432.9 L1020.7 424.33 L1022.0 416.7 L1023.1 430.0 L1025.3 435.9 L1026.0 459.4 L1027.1 452.05 L1028.2 444.7 L1028.9 482.9 L1029.7 503.5 L1031.6 525.5 L1033.3 509.4 L1034.53 501.95 L1035.77 494.78 L1037.0 487.3 L1038.5 498.7 L1040.0 510.1 L1041.1 503.23 L1042.2 496.1 L1043.3 500.4 L1044.4 504.9 L1045.6 506.42 L1046.8 510.15 L1048.0 512.3 L1049.5 482.9 L1051.0 468.9 L1052.28 469.89 L1053.55 469.63 L1054.82 469.36 L1056.1 469.7 L1057.6 481.4 L1058.7 487.98 L1059.8 493.9 L1061.25 487.68 L1062.7 482.9 L1064.2 475.5 L1065.7 491.7 L1066.8 502.03 L1067.9 515.2 L1070.1 500.5 L1071.2 503.49 L1072.3 506.4 L1073.4 512.3 L1074.5 519.6 L1075.95 539.3 L1077.4 557.9 L1078.9 546.79 L1080.4 537.3 L1081.4 497.6 L1082.53 490.73 L1083.67 487.02 L1084.8 482.9 L1086.0 471.9 L1087.25 480.03 L1088.5 485.8 L1089.7 490.18 L1090.9 494.11 L1092.1 499.8 L1093.6 487.83 L1095.1 477.0 L1096.55 482.54 L1098.0 487.3 L1099.23 491.11 L1100.47 494.3 L1101.7 497.6 L1103.15 494.31 L1104.6 488.8 L1105.7 487.3 L1106.8 484.73 L1107.9 483.17 L1109.0 480.7 L1110.1 485.24 L1111.2 487.3 L1112.43 490.96 L1113.67 493.93 L1114.9 496.1 L1117.1 513.8 L1118.6 482.9 L1119.7 479.14 L1120.8 477.0 L1121.5 456.4 L1123.0 448.94 L1124.5 441.7 L1125.9 452.0 L1127.05 448.9 L1128.2 444.7 L1129.65 450.73 L1131.1 457.2 L1132.55 454.3 L1134.0 449.8 L1135.5 455.75 L1137.0 460.8 L1138.1 453.43 L1139.2 444.7 L1140.65 446.74 L1142.1 449.1 L1143.2 457.61 L1144.3 462.3 L1145.8 458.83 L1147.3 453.5 L1148.75 451.89 L1150.2 450.6 L1151.65 441.82 L1153.1 432.9 L1154.5 433.15 L1155.9 429.24 L1157.3 427.8 L1158.6 431.89 L1159.9 435.4 L1161.2 438.1 L1162.43 436.64 L1163.67 434.29 L1164.9 433.7 L1166.37 435.31 L1167.83 436.9 L1169.3 438.1 L1170.4 442.95 L1171.5 446.1 L1172.6 451.84 L1173.7 456.4 L1175.2 462.32 L1176.7 468.2 L1178.17 466.37 L1179.63 463.67 L1181.1 460.8 L1182.5 475.5 L1184.0 485.8 L1185.45 485.25 L1186.9 484.4 L1188.4 480.74 L1189.9 477.0 L1191.4 464.5 L1192.8 480.0 L1194.03 477.85 L1195.27 476.58 L1196.5 474.1 L1197.6 471.83 L1198.7 470.68 L1199.8 469.68 L1200.9 468.2 L1203.1 480.0 L1204.2 482.9 L1205.3 488.0 L1206.4 482.17 L1207.5 477.0 L1209.0 474.04 L1210.5 474.1 L1211.6 478.74 L1212.7 484.4 L1214.17 480.16 L1215.63 475.49 L1217.1 470.4 L1218.55 472.81 L1220.0 475.3 L1221.1 474.73 L1222.2 474.5 L1223.65 477.89 L1225.1 483.4 L1226.2 482.17 L1227.3 478.2 L1228.65 476.39 L1230.0 473.8 L1231.8 481.2 L1232.9 484.22 L1234.0 485.6 L1234.7 512.0 L1236.15 509.89 L1237.6 509.1 L1238.7 511.91 L1239.8 515.0 L1240.9 506.99 L1242.0 501.7 L1243.2 498.8 L1243.8 470.1 L1245.15 473.29 L1246.5 475.3 L1247.8 476.0 L1249.1 475.3 L1249.4 498.8 L1251.6 500.3 L1252.85 501.43 L1254.1 505.4 L1256.0 492.9 L1257.5 490.66 L1259.0 488.5 L1260.0 478.2 L1261.9 484.1 L1263.4 494.4 L1265.6 485.6 L1266.8 486.54 L1268.0 485.21 L1269.2 487.0 L1270.43 483.7 L1271.67 482.33 L1272.9 481.2 L1274.13 481.69 L1275.37 482.08 L1276.6 484.1 L1278.05 488.17 L1279.5 492.2 L1281.0 488.34 L1282.5 484.1 L1283.7 485.08 L1284.9 485.63 L1286.1 485.6 L1287.6 483.78 L1289.1 479.7 L1290.2 475.77 L1291.3 470.1 L1292.75 472.82 L1294.2 477.5 L1295.43 477.12 L1296.67 476.7 L1297.9 477.5 L1299.13 478.39 L1300.37 480.84 L1301.6 482.6 L1303.05 483.7 L1304.5 484.8 L1306.3 493.7 L1307.43 493.07 L1308.57 490.51 L1309.7 490.7 L1311.15 486.47 L1312.6 484.1 L1314.05 483.33 L1315.5 482.6 L1317.0 473.1 L1318.1 475.15 L1319.2 477.5 L1320.7 476.52 L1322.2 476.0 L1323.65 477.8 L1325.1 479.7 L1326.55 479.48 L1328.0 480.4 L1330.0 482.6 L1331.3 481.16 L1332.6 478.93 L1333.9 476.7 L1334.7 497.3 L1336.15 500.18 L1337.6 503.2 L1339.05 500.15 L1340.5 498.1 L1341.73 498.7 L1342.97 497.53 L1344.2 500.3 L1345.65 501.36 L1347.1 503.9 L1348.25 501.03 L1349.4 498.1 L1351.6 507.6 L1352.7 509.77 L1353.8 514.2 L1354.9 511.05 L1356.0 507.6 L1357.2 505.28 L1358.4 501.7 L1359.6 500.3 L1361.1 504.51 L1362.6 509.1 L1364.05 505.91 L1365.5 503.2 L1366.6 502.44 L1367.7 501.0 L1368.8 506.61 L1369.9 511.3 L1371.4 508.67 L1372.9 506.1 L1374.35 505.11 L1375.8 505.4 L1377.3 512.0 L1378.4 512.27 L1379.5 512.7 L1380.6 513.68 L1381.7 513.5 L1383.2 506.9 L1384.3 506.02 L1385.4 504.7 L1387.6 510.6 L1389.05 506.01 L1390.5 502.5 L1392.0 503.68 L1393.5 506.9 L1394.6 505.52 L1395.7 504.14 L1396.8 502.77 L1397.9 502.5 L1399.37 501.18 L1400.83 499.67 L1402.3 498.8 L1403.4 497.78 L1404.5 496.6 L1404.9 485.6 L1406.15 484.49 L1407.4 482.6 L1408.63 483.52 L1409.87 486.81 L1411.1 486.3 L1412.2 483.86 L1413.3 481.9 L1414.75 484.18 L1416.2 484.8 L1417.3 489.69 L1418.4 494.4 L1419.9 496.69 L1421.4 497.3 L1423.6 505.4 L1425.05 504.37 L1426.5 506.9 L1428.0 502.5 L1429.5 508.4 L1430.6 507.84 L1431.7 508.59 L1432.8 508.85 L1433.9 508.4 L1435.3 496.6 L1436.53 501.05 L1437.77 502.24 L1439.0 504.7 L1440.1 504.16 L1441.2 501.7 L1442.3 503.77 L1443.4 504.7 L1444.63 504.91 L1445.87 504.08 L1447.1 503.2 L1448.2 504.93 L1449.3 506.9 L1450.4 510.23 L1451.5 512.8 L1453.0 511.24 L1454.5 511.3 L1455.75 508.49 L1457.0 503.9 L1458.3 504.99 L1459.6 507.6 L1459.8 520.0 L1460.6 539.1 L1462.0 553.1 L1463.5 549.24 L1465.0 545.0 L1466.23 548.79 L1467.47 549.23 L1468.7 551.6 L1470.15 554.16 L1471.6 556.7 L1473.1 548.7 L1474.5 558.2 L1476.0 575.9 L1477.9 587.6 L1479.0 596.4 L1479.7 630.2 L1480.8 630.37 L1481.9 628.8 L1482.6 611.1 L1483.7 609.67 L1484.8 608.2 L1485.9 614.94 L1487.0 622.9 L1488.5 630.2 L1490.0 621.4 L1491.2 636.1 L1492.9 615.5 L1494.1 600.8 L1495.9 608.2 L1498.1 584.7 L1499.1 565.6 L1501.0 576.6 L1502.1 580.09 L1503.2 583.2 L1504.65 589.89 L1506.1 595.7 L1507.25 591.08 L1508.4 585.4 L1509.6 585.32 L1510.8 587.71 L1512.0 586.9 L1513.1 583.75 L1514.2 578.1 L1515.3 579.91 L1516.4 581.7 L1517.9 587.8 L1519.4 593.5 L1520.85 593.53 L1522.3 594.2 L1523.4 587.21 L1524.5 578.1 L1526.0 578.27 L1527.5 579.5 L1528.9 570.7 L1531.1 585.4 L1532.2 582.61 L1533.3 578.8 L1534.53 580.64 L1535.77 582.68 L1537.0 585.4 L1538.5 583.39 L1540.0 580.3 L1541.45 583.5 L1542.9 584.7 L1545.1 580.3 L1546.55 582.49 L1548.0 584.7 L1549.23 583.69 L1550.47 584.31 L1551.7 583.2 L1553.2 584.26 L1554.7 585.4 L1556.15 583.78 L1557.6 581.7 L1559.1 572.9 L1560.55 579.19 L1562.0 583.2 L1563.45 580.75 L1564.9 576.6 L1566.4 564.1 L1568.6 542.0 L1570.1 540.6 L1571.33 540.94 L1572.57 543.78 L1573.8 542.8 L1575.25 547.2 L1576.7 551.6 L1578.15 549.99 L1579.6 547.2 L1580.7 545.48 L1581.8 544.7 L1582.9 543.5 L1584.8 562.6 L1585.9 561.29 L1587.0 562.6 L1588.5 574.4 L1589.7 575.01 L1590.9 573.96 L1592.1 572.2 L1593.6 567.8 L1594.7 567.44 L1595.8 567.77 L1596.9 568.23 L1598.0 570.0 L1599.1 574.93 L1600.2 578.1 L1601.7 581.41 L1603.2 585.4 L1604.65 583.5 L1606.1 581.7 L1607.2 581.84 L1608.3 582.36 L1609.4 582.01 L1610.5 583.2 L1611.8 583.94 L1613.1 583.57 L1614.4 585.32 L1615.7 586.1 L1616.9 588.8 L1618.1 591.38 L1619.3 593.5 L1620.4 592.23 L1621.5 590.62 L1622.6 590.32 L1623.7 589.1 L1625.5 587.9 L1627.0 588.5" fill="none" stroke="#ef5350" stroke-width="3.1" stroke-linejoin="round" clip-path="url(#cd)"/>
<path d="M8 407.5H1983" stroke="#9aa6b4" stroke-width="1" stroke-dasharray="2 3" fill="none" shape-rendering="crispEdges"/>
<path d="M7 588.5H1983" stroke="#ef5350" stroke-width="1" stroke-dasharray="2 2" fill="none" shape-rendering="crispEdges"/>
<path d="M7 791.3h1v19.7h-1zM12 805.0h1v6.0h-1zM13 804.7h1v6.3h-1zM14 804.1h1v6.9h-1zM15 802.4h1v8.6h-1zM16 801.6h1v9.4h-1zM17 801.1h1v9.9h-1zM24 808.3h1v2.7h-1zM25 807.2h1v3.8h-1zM26 805.9h1v5.1h-1zM27 805.6h1v5.4h-1zM28 805.4h1v5.6h-1zM29 805.2h1v5.8h-1zM30 804.8h1v6.2h-1zM31 804.4h1v6.6h-1zM32 803.8h1v7.2h-1zM39 806.9h1v4.1h-1zM40 806.8h1v4.2h-1zM41 806.5h1v4.5h-1zM42 804.6h1v6.4h-1zM43 803.5h1v7.5h-1zM57 808.8h1v2.2h-1zM58 806.1h1v4.9h-1zM59 805.8h1v5.2h-1zM81 810.2h1v0.8h-1zM82 809.7h1v1.3h-1zM86 809.3h1v1.7h-1zM87 807.5h1v3.5h-1zM88 805.6h1v5.4h-1zM89 802.2h1v8.8h-1zM90 801.0h1v10.0h-1zM91 801.0h1v10.0h-1zM98 810.4h1v0.6h-1zM99 810.1h1v0.9h-1zM100 809.1h1v1.9h-1zM101 808.7h1v2.3h-1zM123 810.2h1v0.8h-1zM124 809.7h1v1.3h-1zM125 809.5h1v1.5h-1zM131 810.3h1v0.7h-1zM132 809.7h1v1.3h-1zM133 809.0h1v2.0h-1zM134 808.5h1v2.5h-1zM150 809.7h1v1.3h-1zM157 810.1h1v0.9h-1zM158 809.5h1v1.5h-1zM159 809.0h1v2.0h-1zM160 808.5h1v2.5h-1zM161 808.4h1v2.6h-1zM181 810.5h1v0.5h-1zM182 809.3h1v1.7h-1zM183 809.1h1v1.9h-1zM184 809.0h1v2.0h-1zM198 810.0h1v1.0h-1zM207 810.1h1v0.9h-1zM208 808.4h1v2.6h-1zM209 807.5h1v3.5h-1zM210 806.5h1v4.5h-1zM211 804.4h1v6.6h-1zM212 803.8h1v7.2h-1zM213 803.4h1v7.6h-1zM216 802.9h1v8.1h-1zM217 802.6h1v8.4h-1zM244 810.4h1v0.6h-1zM245 809.9h1v1.1h-1zM246 809.6h1v1.4h-1zM247 808.7h1v2.3h-1zM248 808.2h1v2.8h-1zM249 807.8h1v3.2h-1zM250 807.4h1v3.6h-1zM251 807.3h1v3.7h-1zM276 809.4h1v1.6h-1zM277 808.6h1v2.4h-1zM278 807.9h1v3.1h-1zM294 809.4h1v1.6h-1zM295 808.3h1v2.7h-1zM296 807.1h1v3.9h-1zM297 806.9h1v4.1h-1zM301 807.3h1v3.7h-1zM302 807.1h1v3.9h-1zM303 806.9h1v4.1h-1zM304 806.2h1v4.8h-1zM305 805.9h1v5.1h-1zM312 809.9h1v1.1h-1zM318 810.3h1v0.7h-1zM319 810.1h1v0.9h-1zM320 810.0h1v1.0h-1zM332 810.5h1v0.5h-1zM333 810.4h1v0.6h-1zM334 810.4h1v0.6h-1zM341 809.2h1v1.8h-1zM342 808.9h1v2.1h-1zM366 808.9h1v2.1h-1zM367 808.8h1v2.2h-1zM386 809.8h1v1.2h-1zM387 808.7h1v2.3h-1zM388 807.6h1v3.4h-1zM389 806.2h1v4.8h-1zM390 806.0h1v5.0h-1zM398 810.3h1v0.7h-1zM399 810.1h1v0.9h-1zM400 809.6h1v1.4h-1zM419 809.9h1v1.1h-1zM420 808.2h1v2.8h-1zM421 807.9h1v3.1h-1zM422 807.9h1v3.1h-1zM426 808.8h1v2.2h-1zM442 810.3h1v0.7h-1zM443 809.5h1v1.5h-1zM444 809.2h1v1.8h-1zM445 808.9h1v2.1h-1zM446 806.0h1v5.0h-1zM447 804.2h1v6.8h-1zM448 802.6h1v8.4h-1zM449 801.5h1v9.5h-1zM460 809.6h1v1.4h-1zM461 807.7h1v3.3h-1zM462 807.2h1v3.8h-1zM505 809.1h1v1.9h-1zM506 808.0h1v3.0h-1zM507 807.4h1v3.6h-1zM508 806.9h1v4.1h-1zM511 807.3h1v3.7h-1zM512 806.5h1v4.5h-1zM513 805.6h1v5.4h-1zM514 804.3h1v6.7h-1zM515 803.8h1v7.2h-1zM516 803.2h1v7.8h-1zM517 802.2h1v8.8h-1zM518 802.0h1v9.0h-1zM529 810.4h1v0.6h-1zM530 809.8h1v1.2h-1zM531 808.5h1v2.5h-1zM532 808.0h1v3.0h-1zM533 807.6h1v3.4h-1zM534 806.4h1v4.6h-1zM535 805.6h1v5.4h-1zM536 783.8h1v27.2h-1zM537 777.3h1v33.7h-1zM538 776.8h1v34.2h-1zM542 791.2h1v19.8h-1zM566 809.4h1v1.6h-1zM567 807.9h1v3.1h-1zM568 804.8h1v6.2h-1zM569 803.2h1v7.8h-1zM570 800.0h1v11.0h-1zM571 799.2h1v11.8h-1zM577 809.1h1v1.9h-1zM578 808.4h1v2.6h-1zM599 794.2h1v16.8h-1zM600 792.5h1v18.5h-1zM615 809.0h1v2.0h-1zM653 809.6h1v1.4h-1zM654 809.5h1v1.5h-1zM664 808.6h1v2.4h-1zM665 807.0h1v4.0h-1zM666 805.7h1v5.3h-1zM667 803.8h1v7.2h-1zM668 803.0h1v8.0h-1zM669 803.0h1v8.0h-1zM675 805.1h1v5.9h-1zM676 803.2h1v7.8h-1zM677 801.6h1v9.4h-1zM684 807.3h1v3.7h-1zM685 806.4h1v4.6h-1zM686 805.7h1v5.3h-1zM701 809.6h1v1.4h-1zM702 809.5h1v1.5h-1zM708 809.9h1v1.1h-1zM709 806.6h1v4.4h-1zM710 805.6h1v5.4h-1zM719 810.5h1v0.5h-1zM720 809.7h1v1.3h-1zM730 809.5h1v1.5h-1zM731 807.8h1v3.2h-1zM740 809.9h1v1.1h-1zM741 804.5h1v6.5h-1zM742 803.0h1v8.0h-1zM770 810.5h1v0.5h-1zM771 809.0h1v2.0h-1zM772 807.3h1v3.7h-1zM791 810.2h1v0.8h-1zM792 808.1h1v2.9h-1zM793 806.9h1v4.1h-1zM794 804.9h1v6.1h-1zM795 804.5h1v6.5h-1zM796 804.4h1v6.6h-1zM803 809.5h1v1.5h-1zM804 809.0h1v2.0h-1zM805 808.5h1v2.5h-1zM806 807.9h1v3.1h-1zM811 807.7h1v3.3h-1zM812 806.6h1v4.4h-1zM813 806.0h1v5.0h-1zM820 805.0h1v6.0h-1zM821 804.2h1v6.8h-1zM848 809.2h1v1.8h-1zM849 809.1h1v1.9h-1zM857 809.9h1v1.1h-1zM858 809.0h1v2.0h-1zM859 808.4h1v2.6h-1zM868 810.3h1v0.7h-1zM892 810.5h1v0.5h-1zM893 810.3h1v0.7h-1zM894 809.9h1v1.1h-1zM895 809.5h1v1.5h-1zM896 808.6h1v2.4h-1zM902 809.5h1v1.5h-1zM903 808.4h1v2.6h-1zM904 807.9h1v3.1h-1zM916 810.1h1v0.9h-1zM917 809.4h1v1.6h-1zM918 808.9h1v2.1h-1zM919 808.4h1v2.6h-1zM920 807.8h1v3.2h-1zM921 807.0h1v4.0h-1zM931 809.1h1v1.9h-1zM932 808.7h1v2.3h-1zM939 809.4h1v1.6h-1zM940 808.1h1v2.9h-1zM941 807.0h1v4.0h-1zM980 810.4h1v0.6h-1zM981 808.0h1v3.0h-1zM982 806.6h1v4.4h-1zM983 805.4h1v5.6h-1zM984 803.2h1v7.8h-1zM985 802.6h1v8.4h-1zM986 802.5h1v8.5h-1zM996 807.9h1v3.1h-1zM997 806.1h1v4.9h-1zM998 804.1h1v6.9h-1zM1003 809.2h1v1.8h-1zM1004 807.8h1v3.2h-1zM1005 807.6h1v3.4h-1zM1021 808.1h1v2.9h-1zM1022 807.2h1v3.8h-1zM1035 808.9h1v2.1h-1zM1036 806.2h1v4.8h-1zM1037 804.6h1v6.4h-1zM1041 804.8h1v6.2h-1zM1042 804.2h1v6.8h-1zM1048 806.7h1v4.3h-1zM1049 802.2h1v8.8h-1zM1050 800.2h1v10.8h-1zM1051 799.1h1v11.9h-1zM1081 804.5h1v6.5h-1zM1082 801.1h1v9.9h-1zM1083 797.7h1v13.3h-1zM1084 797.1h1v13.9h-1zM1085 796.7h1v14.3h-1zM1095 809.7h1v1.3h-1zM1107 810.5h1v0.5h-1zM1108 810.1h1v0.9h-1zM1119 809.9h1v1.1h-1zM1120 806.9h1v4.1h-1zM1121 804.2h1v6.8h-1zM1122 802.4h1v8.6h-1zM1123 800.9h1v10.1h-1zM1151 809.3h1v1.7h-1zM1152 808.3h1v2.7h-1zM1153 807.5h1v3.5h-1zM1154 807.1h1v3.9h-1zM1189 809.8h1v1.2h-1zM1190 808.5h1v2.5h-1zM1191 806.5h1v4.5h-1zM1195 808.4h1v2.6h-1zM1196 808.3h1v2.7h-1zM1197 808.0h1v3.0h-1zM1198 807.9h1v3.1h-1zM1199 807.8h1v3.2h-1zM1200 807.8h1v3.2h-1zM1208 810.2h1v0.8h-1zM1209 809.7h1v1.3h-1zM1210 809.4h1v1.6h-1zM1215 810.1h1v0.9h-1zM1216 809.5h1v1.5h-1zM1217 808.8h1v2.2h-1zM1229 810.5h1v0.5h-1zM1230 810.3h1v0.7h-1zM1242 809.6h1v1.4h-1zM1243 806.1h1v4.9h-1zM1244 803.3h1v7.7h-1zM1245 801.8h1v9.2h-1zM1257 810.3h1v0.7h-1zM1258 809.6h1v1.4h-1zM1259 807.8h1v3.2h-1zM1260 807.3h1v3.7h-1zM1266 810.5h1v0.5h-1zM1271 810.4h1v0.6h-1zM1272 810.2h1v0.8h-1zM1288 810.1h1v0.9h-1zM1289 809.7h1v1.3h-1zM1290 808.6h1v2.4h-1zM1291 808.3h1v2.7h-1zM1312 810.4h1v0.6h-1zM1313 809.5h1v1.5h-1zM1314 809.3h1v1.7h-1zM1315 809.2h1v1.8h-1zM1316 808.0h1v3.0h-1zM1317 807.7h1v3.3h-1zM1348 810.2h1v0.8h-1zM1349 809.7h1v1.3h-1zM1356 810.4h1v0.6h-1zM1357 809.8h1v1.2h-1zM1358 808.7h1v2.3h-1zM1359 808.3h1v2.7h-1zM1364 810.0h1v1.0h-1zM1365 809.8h1v1.2h-1zM1366 809.5h1v1.5h-1zM1367 809.3h1v1.7h-1zM1384 809.6h1v1.4h-1zM1385 809.4h1v1.6h-1zM1389 810.2h1v0.8h-1zM1390 809.6h1v1.4h-1zM1397 810.4h1v0.6h-1zM1398 810.2h1v0.8h-1zM1399 810.2h1v0.8h-1zM1400 810.1h1v0.9h-1zM1401 810.0h1v1.0h-1zM1402 810.0h1v1.0h-1zM1403 810.0h1v1.0h-1zM1404 809.0h1v2.0h-1zM1405 808.2h1v2.8h-1zM1406 807.7h1v3.3h-1zM1435 808.6h1v2.4h-1zM1436 808.3h1v2.7h-1zM1456 810.4h1v0.6h-1zM1457 809.8h1v1.2h-1zM1472 809.9h1v1.1h-1zM1473 809.3h1v1.7h-1zM1485 809.9h1v1.1h-1zM1489 808.7h1v2.3h-1zM1490 808.5h1v2.5h-1zM1492 806.5h1v4.5h-1zM1493 804.3h1v6.7h-1zM1494 801.5h1v9.5h-1zM1496 801.5h1v9.5h-1zM1497 799.8h1v11.2h-1zM1498 798.1h1v12.9h-1zM1499 796.9h1v14.1h-1zM1514 810.2h1v0.8h-1zM1524 810.4h1v0.6h-1zM1525 809.6h1v1.4h-1zM1526 809.1h1v1.9h-1zM1528 808.3h1v2.7h-1zM1557 810.5h1v0.5h-1zM1558 809.8h1v1.2h-1zM1559 809.1h1v1.9h-1zM1565 809.2h1v1.8h-1zM1566 808.0h1v3.0h-1zM1567 806.5h1v4.5h-1zM1568 803.8h1v7.2h-1zM1569 803.5h1v7.5h-1zM1608 810.3h1v0.7h-1zM1609 810.2h1v0.8h-1zM1610 810.1h1v0.9h-1zM1611 810.0h1v1.0h-1zM1622 810.5h1v0.5h-1zM1623 810.1h1v0.9h-1zM1624 809.9h1v1.1h-1zM1625 809.5h1v1.5h-1zM1626 809.4h1v1.6h-1z" fill="#26a69a" shape-rendering="crispEdges"/>
<path d="M8 795.1h1v15.9h-1zM9 801.4h1v9.6h-1zM10 803.5h1v7.5h-1zM11 804.6h1v6.4h-1zM18 801.8h1v9.2h-1zM19 804.2h1v6.8h-1zM20 809.1h1v1.9h-1zM33 804.1h1v6.9h-1zM34 804.6h1v6.4h-1zM35 805.9h1v5.1h-1zM36 806.3h1v4.7h-1zM37 806.6h1v4.4h-1zM38 807.0h1v4.0h-1zM44 804.2h1v6.8h-1zM45 805.2h1v5.8h-1zM46 806.8h1v4.2h-1zM47 807.3h1v3.7h-1zM48 807.7h1v3.3h-1zM49 808.4h1v2.6h-1zM50 808.7h1v2.3h-1zM51 808.9h1v2.1h-1zM52 809.7h1v1.3h-1zM53 810.4h1v0.6h-1zM60 806.5h1v4.5h-1zM61 807.1h1v3.9h-1zM62 807.8h1v3.2h-1zM63 809.7h1v1.3h-1zM83 810.0h1v1.0h-1zM84 810.5h1v0.5h-1zM92 802.9h1v8.1h-1zM93 804.3h1v6.7h-1zM94 807.3h1v3.7h-1zM95 808.4h1v2.6h-1zM96 809.3h1v1.7h-1zM97 810.4h1v0.6h-1zM102 808.8h1v2.2h-1zM103 809.6h1v1.4h-1zM104 810.2h1v0.8h-1zM126 809.8h1v1.2h-1zM127 810.1h1v0.9h-1zM135 808.6h1v2.4h-1zM136 809.0h1v2.0h-1zM137 809.8h1v1.2h-1zM138 810.2h1v0.8h-1zM151 809.3h1v1.7h-1zM152 809.8h1v1.2h-1zM153 810.5h1v0.5h-1zM162 808.4h1v2.6h-1zM163 808.5h1v2.5h-1zM164 808.6h1v2.4h-1zM165 808.8h1v2.2h-1zM166 809.1h1v1.9h-1zM167 809.5h1v1.5h-1zM185 809.0h1v2.0h-1zM186 809.1h1v1.9h-1zM187 809.3h1v1.7h-1zM188 810.4h1v0.6h-1zM214 803.4h1v7.6h-1zM215 803.5h1v7.5h-1zM218 803.4h1v7.6h-1zM219 806.8h1v4.2h-1zM220 808.7h1v2.3h-1zM221 809.8h1v1.2h-1zM222 810.4h1v0.6h-1zM223 810.4h1v0.6h-1zM252 807.4h1v3.6h-1zM253 807.6h1v3.4h-1zM254 807.7h1v3.3h-1zM255 807.9h1v3.1h-1zM256 808.6h1v2.4h-1zM257 809.2h1v1.8h-1zM258 809.7h1v1.3h-1zM279 808.7h1v2.3h-1zM280 810.0h1v1.0h-1zM298 806.8h1v4.2h-1zM299 807.0h1v4.0h-1zM300 807.1h1v3.9h-1zM306 806.3h1v4.7h-1zM307 808.3h1v2.7h-1zM308 809.1h1v1.9h-1zM309 809.6h1v1.4h-1zM310 809.9h1v1.1h-1zM311 809.9h1v1.1h-1zM313 809.9h1v1.1h-1zM314 810.1h1v0.9h-1zM321 809.9h1v1.1h-1zM322 810.2h1v0.8h-1zM335 810.5h1v0.5h-1zM343 809.0h1v2.0h-1zM344 809.5h1v1.5h-1zM345 809.8h1v1.2h-1zM346 810.0h1v1.0h-1zM347 810.4h1v0.6h-1zM368 809.1h1v1.9h-1zM369 809.6h1v1.4h-1zM370 809.9h1v1.1h-1zM371 810.0h1v1.0h-1zM391 806.1h1v4.9h-1zM392 806.6h1v4.4h-1zM393 807.0h1v4.0h-1zM394 807.4h1v3.6h-1zM395 808.7h1v2.3h-1zM396 809.3h1v1.7h-1zM397 810.0h1v1.0h-1zM401 809.9h1v1.1h-1zM402 810.3h1v0.7h-1zM423 808.3h1v2.7h-1zM424 808.6h1v2.4h-1zM425 808.8h1v2.2h-1zM427 809.0h1v2.0h-1zM428 809.5h1v1.5h-1zM450 801.7h1v9.3h-1zM451 803.6h1v7.4h-1zM452 804.9h1v6.1h-1zM453 806.2h1v4.8h-1zM454 808.6h1v2.4h-1zM455 809.5h1v1.5h-1zM456 810.3h1v0.7h-1zM463 808.3h1v2.7h-1zM464 809.5h1v1.5h-1zM509 807.0h1v4.0h-1zM510 807.3h1v3.7h-1zM519 801.9h1v9.1h-1zM520 802.6h1v8.4h-1zM521 804.0h1v7.0h-1zM522 807.6h1v3.4h-1zM523 809.0h1v2.0h-1zM524 809.4h1v1.6h-1zM525 810.1h1v0.9h-1zM539 785.8h1v25.2h-1zM540 788.7h1v22.3h-1zM541 790.4h1v20.6h-1zM543 793.8h1v17.2h-1zM544 798.2h1v12.8h-1zM545 806.3h1v4.7h-1zM546 809.9h1v1.1h-1zM572 799.6h1v11.4h-1zM573 802.4h1v8.6h-1zM574 804.5h1v6.5h-1zM575 806.9h1v4.1h-1zM576 809.3h1v1.7h-1zM579 809.3h1v1.7h-1zM585 810.4h1v0.6h-1zM601 792.7h1v18.3h-1zM602 795.6h1v15.4h-1zM603 797.6h1v13.4h-1zM604 803.8h1v7.2h-1zM605 807.5h1v3.5h-1zM616 810.2h1v0.8h-1zM655 809.7h1v1.3h-1zM670 804.3h1v6.7h-1zM671 805.4h1v5.6h-1zM672 806.1h1v4.9h-1zM673 807.1h1v3.9h-1zM674 807.4h1v3.6h-1zM678 801.2h1v9.8h-1zM679 802.3h1v8.7h-1zM680 803.9h1v7.1h-1zM681 807.5h1v3.5h-1zM682 809.3h1v1.7h-1zM683 809.3h1v1.7h-1zM687 808.3h1v2.7h-1zM688 810.1h1v0.9h-1zM703 810.0h1v1.0h-1zM711 805.8h1v5.2h-1zM712 807.9h1v3.1h-1zM713 809.4h1v1.6h-1zM721 809.3h1v1.7h-1zM722 809.9h1v1.1h-1zM732 807.2h1v3.8h-1zM733 807.7h1v3.3h-1zM734 808.4h1v2.6h-1zM735 810.0h1v1.0h-1zM743 803.8h1v7.2h-1zM744 806.0h1v5.0h-1zM745 808.2h1v2.8h-1zM749 810.0h1v1.0h-1zM773 807.5h1v3.5h-1zM774 807.6h1v3.4h-1zM775 807.8h1v3.2h-1zM776 808.5h1v2.5h-1zM797 805.0h1v6.0h-1zM798 805.6h1v5.4h-1zM799 806.4h1v4.6h-1zM800 808.0h1v3.0h-1zM801 808.8h1v2.2h-1zM802 809.5h1v1.5h-1zM807 808.1h1v2.9h-1zM808 808.6h1v2.4h-1zM809 809.7h1v1.3h-1zM810 810.3h1v0.7h-1zM814 806.1h1v4.9h-1zM815 806.8h1v4.2h-1zM816 807.6h1v3.4h-1zM817 809.5h1v1.5h-1zM818 810.4h1v0.6h-1zM822 804.3h1v6.7h-1zM823 805.4h1v5.6h-1zM824 805.9h1v5.1h-1zM825 806.4h1v4.6h-1zM826 807.4h1v3.6h-1zM827 808.5h1v2.5h-1zM850 809.6h1v1.4h-1zM860 808.1h1v2.9h-1zM861 808.8h1v2.2h-1zM869 810.5h1v0.5h-1zM897 809.6h1v1.4h-1zM905 807.9h1v3.1h-1zM906 808.8h1v2.2h-1zM922 806.7h1v4.3h-1zM923 807.3h1v3.7h-1zM924 807.7h1v3.3h-1zM925 808.1h1v2.9h-1zM926 808.1h1v2.9h-1zM927 808.2h1v2.8h-1zM928 808.6h1v2.4h-1zM929 808.8h1v2.2h-1zM930 809.2h1v1.8h-1zM933 808.4h1v2.6h-1zM934 808.9h1v2.1h-1zM935 809.5h1v1.5h-1zM942 806.5h1v4.5h-1zM943 806.9h1v4.1h-1zM944 807.3h1v3.7h-1zM945 807.9h1v3.1h-1zM946 808.0h1v3.0h-1zM947 808.5h1v2.5h-1zM948 809.2h1v1.8h-1zM949 810.0h1v1.0h-1zM987 803.0h1v8.0h-1zM988 803.7h1v7.3h-1zM989 804.6h1v6.4h-1zM990 806.6h1v4.4h-1zM991 807.5h1v3.5h-1zM992 808.4h1v2.6h-1zM993 810.2h1v0.8h-1zM999 805.1h1v5.9h-1zM1000 806.4h1v4.6h-1zM1001 809.0h1v2.0h-1zM1002 809.4h1v1.6h-1zM1006 808.0h1v3.0h-1zM1007 809.4h1v1.6h-1zM1008 810.4h1v0.6h-1zM1023 807.3h1v3.7h-1zM1024 807.7h1v3.3h-1zM1025 809.1h1v1.9h-1zM1038 804.5h1v6.5h-1zM1039 805.3h1v5.7h-1zM1040 805.8h1v5.2h-1zM1043 804.3h1v6.7h-1zM1044 805.3h1v5.7h-1zM1045 805.9h1v5.1h-1zM1046 806.5h1v4.5h-1zM1047 807.5h1v3.5h-1zM1052 799.4h1v11.6h-1zM1053 800.2h1v10.8h-1zM1054 801.3h1v9.7h-1zM1055 803.6h1v7.4h-1zM1056 805.3h1v5.7h-1zM1057 807.3h1v3.7h-1zM1086 797.8h1v13.2h-1zM1087 799.8h1v11.2h-1zM1088 802.1h1v8.9h-1zM1089 806.6h1v4.4h-1zM1090 808.6h1v2.4h-1zM1091 810.5h1v0.5h-1zM1096 809.9h1v1.1h-1zM1109 810.0h1v1.0h-1zM1110 810.5h1v0.5h-1zM1124 800.9h1v10.1h-1zM1125 802.2h1v8.8h-1zM1126 805.3h1v5.7h-1zM1127 806.3h1v4.7h-1zM1128 807.2h1v3.8h-1zM1129 810.0h1v1.0h-1zM1155 807.2h1v3.8h-1zM1156 807.5h1v3.5h-1zM1157 808.4h1v2.6h-1zM1158 809.3h1v1.7h-1zM1159 810.2h1v0.8h-1zM1192 807.3h1v3.7h-1zM1193 808.0h1v3.0h-1zM1194 808.4h1v2.6h-1zM1201 808.2h1v2.8h-1zM1202 810.2h1v0.8h-1zM1211 810.1h1v0.9h-1zM1218 808.9h1v2.1h-1zM1219 809.7h1v1.3h-1zM1220 810.0h1v1.0h-1zM1221 810.2h1v0.8h-1zM1246 802.3h1v8.7h-1zM1247 802.9h1v8.1h-1zM1248 804.7h1v6.3h-1zM1249 808.3h1v2.7h-1zM1261 807.5h1v3.5h-1zM1262 809.3h1v1.7h-1zM1263 810.4h1v0.6h-1zM1273 810.2h1v0.8h-1zM1274 810.4h1v0.6h-1zM1292 808.5h1v2.5h-1zM1293 809.7h1v1.3h-1zM1294 810.3h1v0.7h-1zM1318 807.9h1v3.1h-1zM1319 808.7h1v2.3h-1zM1320 809.1h1v1.9h-1zM1321 809.4h1v1.6h-1zM1322 810.0h1v1.0h-1zM1323 810.4h1v0.6h-1zM1350 810.0h1v1.0h-1zM1360 808.4h1v2.6h-1zM1361 809.4h1v1.6h-1zM1362 810.0h1v1.0h-1zM1363 810.2h1v0.8h-1zM1368 809.8h1v1.2h-1zM1369 810.5h1v0.5h-1zM1386 809.5h1v1.5h-1zM1387 810.3h1v0.7h-1zM1388 810.4h1v0.6h-1zM1391 809.6h1v1.4h-1zM1392 810.1h1v0.9h-1zM1393 810.5h1v0.5h-1zM1407 807.7h1v3.3h-1zM1408 808.1h1v2.9h-1zM1409 809.3h1v1.7h-1zM1410 809.9h1v1.1h-1zM1411 810.4h1v0.6h-1zM1437 808.5h1v2.5h-1zM1438 809.3h1v1.7h-1zM1439 809.7h1v1.3h-1zM1440 809.8h1v1.2h-1zM1441 809.9h1v1.1h-1zM1442 810.1h1v0.9h-1zM1458 809.7h1v1.3h-1zM1459 809.9h1v1.1h-1zM1474 809.4h1v1.6h-1zM1486 809.4h1v1.6h-1zM1487 809.6h1v1.4h-1zM1488 810.0h1v1.0h-1zM1491 809.1h1v1.9h-1zM1495 801.7h1v9.3h-1zM1500 798.8h1v12.2h-1zM1501 800.6h1v10.4h-1zM1502 802.6h1v8.4h-1zM1503 806.5h1v4.5h-1zM1504 808.4h1v2.6h-1zM1505 810.2h1v0.8h-1zM1515 810.3h1v0.7h-1zM1527 809.2h1v1.8h-1zM1529 808.7h1v2.3h-1zM1530 809.7h1v1.3h-1zM1560 809.5h1v1.5h-1zM1561 810.1h1v0.9h-1zM1570 803.7h1v7.3h-1zM1571 805.3h1v5.7h-1zM1572 806.4h1v4.6h-1zM1573 807.5h1v3.5h-1zM1574 809.9h1v1.1h-1zM1612 810.0h1v1.0h-1zM1613 810.1h1v0.9h-1zM1614 810.2h1v0.8h-1zM1615 810.3h1v0.7h-1z" fill="#b2dfdb" shape-rendering="crispEdges"/>
<path d="M21 811h1v3.3h-1zM65 811h1v1.4h-1zM66 811h1v4.4h-1zM67 811h1v5.3h-1zM68 811h1v5.7h-1zM72 811h1v7.9h-1zM77 811h1v3.8h-1zM106 811h1v2.1h-1zM107 811h1v3.1h-1zM108 811h1v4.2h-1zM109 811h1v6.3h-1zM110 811h1v7.2h-1zM117 811h1v2.7h-1zM118 811h1v3.0h-1zM119 811h1v3.2h-1zM141 811h1v0.8h-1zM142 811h1v1.4h-1zM143 811h1v2.6h-1zM144 811h1v3.2h-1zM145 811h1v3.8h-1zM154 811h1v0.5h-1zM170 811h1v0.6h-1zM171 811h1v1.3h-1zM172 811h1v1.5h-1zM173 811h1v1.7h-1zM174 811h1v1.9h-1zM175 811h1v1.9h-1zM176 811h1v1.9h-1zM190 811h1v0.8h-1zM191 811h1v2.2h-1zM192 811h1v2.8h-1zM193 811h1v2.9h-1zM200 811h1v0.7h-1zM201 811h1v1.7h-1zM225 811h1v1.3h-1zM226 811h1v2.1h-1zM227 811h1v2.9h-1zM228 811h1v4.2h-1zM229 811h1v4.7h-1zM230 811h1v5.4h-1zM231 811h1v5.6h-1zM232 811h1v5.8h-1zM233 811h1v6.1h-1zM234 811h1v6.2h-1zM235 811h1v6.4h-1zM261 811h1v0.8h-1zM262 811h1v1.5h-1zM263 811h1v2.0h-1zM264 811h1v3.5h-1zM265 811h1v4.4h-1zM266 811h1v5.2h-1zM267 811h1v6.1h-1zM268 811h1v6.2h-1zM281 811h1v2.5h-1zM282 811h1v3.8h-1zM283 811h1v4.7h-1zM284 811h1v5.3h-1zM324 811h1v0.7h-1zM325 811h1v1.4h-1zM326 811h1v2.2h-1zM327 811h1v3.1h-1zM349 811h1v1.5h-1zM350 811h1v2.3h-1zM351 811h1v3.0h-1zM359 811h1v1.8h-1zM360 811h1v3.1h-1zM361 811h1v3.8h-1zM373 811h1v0.9h-1zM374 811h1v1.9h-1zM375 811h1v3.8h-1zM376 811h1v4.5h-1zM377 811h1v5.0h-1zM403 811h1v0.9h-1zM404 811h1v2.5h-1zM405 811h1v4.3h-1zM406 811h1v6.3h-1zM436 811h1v0.7h-1zM437 811h1v1.0h-1zM458 811h1v0.9h-1zM459 811h1v1.6h-1zM466 811h1v1.3h-1zM470 811h1v1.1h-1zM471 811h1v2.6h-1zM472 811h1v2.8h-1zM474 811h1v2.3h-1zM475 811h1v2.6h-1zM476 811h1v3.0h-1zM477 811h1v3.8h-1zM478 811h1v4.1h-1zM479 811h1v4.4h-1zM480 811h1v4.8h-1zM481 811h1v5.0h-1zM482 811h1v5.1h-1zM487 811h1v3.7h-1zM488 811h1v4.4h-1zM491 811h1v7.1h-1zM492 811h1v8.4h-1zM493 811h1v8.7h-1zM497 811h1v5.1h-1zM498 811h1v6.3h-1zM499 811h1v7.2h-1zM500 811h1v9.2h-1zM547 811h1v2.1h-1zM548 811h1v9.2h-1zM549 811h1v13.3h-1zM550 811h1v16.9h-1zM551 811h1v20.8h-1zM552 811h1v21.5h-1zM553 811h1v22.6h-1zM554 811h1v24.3h-1zM555 811h1v24.6h-1zM581 811h1v2.6h-1zM586 811h1v1.1h-1zM587 811h1v4.8h-1zM593 811h1v2.5h-1zM594 811h1v4.3h-1zM595 811h1v5.6h-1zM607 811h1v2.8h-1zM608 811h1v3.6h-1zM609 811h1v4.0h-1zM610 811h1v4.2h-1zM617 811h1v1.6h-1zM618 811h1v3.3h-1zM619 811h1v4.4h-1zM620 811h1v5.0h-1zM621 811h1v6.1h-1zM622 811h1v8.8h-1zM623 811h1v10.0h-1zM624 811h1v11.6h-1zM631 811h1v0.9h-1zM632 811h1v2.2h-1zM636 811h1v2.7h-1zM637 811h1v3.4h-1zM638 811h1v3.6h-1zM641 811h1v3.0h-1zM642 811h1v4.0h-1zM643 811h1v4.7h-1zM657 811h1v0.5h-1zM658 811h1v2.7h-1zM659 811h1v4.3h-1zM660 811h1v4.9h-1zM689 811h1v0.8h-1zM690 811h1v4.8h-1zM691 811h1v7.5h-1zM692 811h1v10.2h-1zM693 811h1v10.7h-1zM694 811h1v11.1h-1zM705 811h1v1.0h-1zM706 811h1v1.0h-1zM724 811h1v1.5h-1zM725 811h1v1.8h-1zM747 811h1v0.6h-1zM751 811h1v1.0h-1zM752 811h1v1.9h-1zM755 811h1v2.5h-1zM756 811h1v4.1h-1zM757 811h1v5.5h-1zM758 811h1v7.1h-1zM760 811h1v6.9h-1zM761 811h1v8.1h-1zM762 811h1v9.2h-1zM763 811h1v9.9h-1zM778 811h1v1.4h-1zM779 811h1v2.6h-1zM780 811h1v3.1h-1zM781 811h1v3.6h-1zM782 811h1v4.6h-1zM783 811h1v8.1h-1zM784 811h1v8.9h-1zM829 811h1v1.9h-1zM830 811h1v3.8h-1zM831 811h1v7.6h-1zM832 811h1v9.4h-1zM833 811h1v11.0h-1zM843 811h1v0.7h-1zM844 811h1v0.9h-1zM852 811h1v0.6h-1zM853 811h1v1.6h-1zM864 811h1v0.7h-1zM871 811h1v1.0h-1zM872 811h1v1.5h-1zM873 811h1v1.9h-1zM874 811h1v2.1h-1zM882 811h1v3.0h-1zM883 811h1v4.3h-1zM884 811h1v5.1h-1zM885 811h1v6.2h-1zM899 811h1v1.5h-1zM908 811h1v6.0h-1zM909 811h1v6.9h-1zM910 811h1v7.0h-1zM914 811h1v1.6h-1zM937 811h1v1.1h-1zM938 811h1v1.4h-1zM950 811h1v1.3h-1zM951 811h1v2.6h-1zM952 811h1v3.6h-1zM953 811h1v4.2h-1zM960 811h1v2.3h-1zM961 811h1v2.9h-1zM962 811h1v5.7h-1zM963 811h1v8.0h-1zM964 811h1v11.8h-1zM977 811h1v1.5h-1zM978 811h1v1.9h-1zM1009 811h1v0.6h-1zM1010 811h1v3.7h-1zM1011 811h1v5.2h-1zM1012 811h1v6.6h-1zM1013 811h1v12.5h-1zM1014 811h1v15.0h-1zM1015 811h1v17.1h-1zM1028 811h1v1.2h-1zM1029 811h1v5.1h-1zM1030 811h1v11.1h-1zM1031 811h1v12.8h-1zM1059 811h1v2.0h-1zM1060 811h1v2.9h-1zM1065 811h1v0.9h-1zM1066 811h1v4.0h-1zM1067 811h1v5.8h-1zM1068 811h1v6.4h-1zM1072 811h1v2.4h-1zM1073 811h1v2.7h-1zM1074 811h1v3.2h-1zM1075 811h1v5.7h-1zM1076 811h1v7.4h-1zM1077 811h1v9.0h-1zM1092 811h1v1.4h-1zM1098 811h1v1.2h-1zM1099 811h1v2.0h-1zM1100 811h1v3.3h-1zM1101 811h1v3.8h-1zM1112 811h1v1.3h-1zM1113 811h1v1.9h-1zM1114 811h1v2.3h-1zM1115 811h1v3.7h-1zM1116 811h1v4.8h-1zM1131 811h1v1.8h-1zM1132 811h1v2.7h-1zM1134 811h1v2.9h-1zM1135 811h1v3.4h-1zM1136 811h1v4.0h-1zM1141 811h1v0.9h-1zM1142 811h1v1.3h-1zM1143 811h1v3.0h-1zM1144 811h1v3.7h-1zM1145 811h1v3.8h-1zM1160 811h1v1.1h-1zM1161 811h1v1.8h-1zM1162 811h1v2.1h-1zM1166 811h1v1.8h-1zM1167 811h1v1.9h-1zM1168 811h1v2.1h-1zM1169 811h1v2.3h-1zM1170 811h1v2.7h-1zM1171 811h1v3.7h-1zM1172 811h1v4.2h-1zM1173 811h1v4.8h-1zM1174 811h1v5.6h-1zM1175 811h1v5.8h-1zM1176 811h1v5.9h-1zM1182 811h1v1.5h-1zM1183 811h1v3.2h-1zM1184 811h1v3.7h-1zM1204 811h1v1.1h-1zM1205 811h1v1.9h-1zM1224 811h1v0.9h-1zM1225 811h1v1.5h-1zM1232 811h1v0.6h-1zM1233 811h1v1.1h-1zM1234 811h1v4.7h-1zM1235 811h1v6.3h-1zM1251 811h1v2.5h-1zM1252 811h1v3.3h-1zM1253 811h1v4.0h-1zM1277 811h1v0.7h-1zM1278 811h1v1.2h-1zM1279 811h1v2.0h-1zM1297 811h1v0.6h-1zM1298 811h1v0.8h-1zM1299 811h1v1.3h-1zM1300 811h1v1.5h-1zM1301 811h1v1.8h-1zM1302 811h1v2.0h-1zM1303 811h1v2.0h-1zM1305 811h1v2.7h-1zM1306 811h1v3.1h-1zM1325 811h1v0.5h-1zM1326 811h1v0.7h-1zM1327 811h1v1.0h-1zM1328 811h1v1.1h-1zM1329 811h1v1.2h-1zM1334 811h1v1.7h-1zM1335 811h1v3.2h-1zM1336 811h1v4.8h-1zM1337 811h1v5.0h-1zM1353 811h1v1.2h-1zM1370 811h1v0.5h-1zM1378 811h1v0.9h-1zM1379 811h1v1.0h-1zM1415 811h1v0.8h-1zM1416 811h1v1.3h-1zM1417 811h1v2.0h-1zM1418 811h1v3.4h-1zM1419 811h1v3.8h-1zM1420 811h1v3.9h-1zM1421 811h1v4.0h-1zM1422 811h1v4.1h-1zM1423 811h1v4.4h-1zM1449 811h1v0.5h-1zM1450 811h1v0.9h-1zM1451 811h1v1.4h-1zM1460 811h1v4.8h-1zM1461 811h1v7.3h-1zM1462 811h1v8.7h-1zM1475 811h1v0.7h-1zM1476 811h1v2.1h-1zM1477 811h1v4.1h-1zM1478 811h1v5.0h-1zM1479 811h1v7.8h-1zM1480 811h1v11.1h-1zM1506 811h1v1.4h-1zM1507 811h1v1.5h-1zM1511 811h1v0.8h-1zM1517 811h1v1.0h-1zM1518 811h1v1.8h-1zM1519 811h1v2.6h-1zM1520 811h1v3.2h-1zM1532 811h1v0.6h-1zM1534 811h1v0.7h-1zM1535 811h1v1.0h-1zM1536 811h1v1.3h-1zM1541 811h1v0.5h-1zM1542 811h1v0.7h-1zM1548 811h1v0.6h-1zM1576 811h1v1.4h-1zM1577 811h1v2.8h-1zM1578 811h1v2.9h-1zM1583 811h1v2.5h-1zM1584 811h1v3.8h-1zM1585 811h1v5.5h-1zM1586 811h1v5.6h-1zM1587 811h1v5.8h-1zM1588 811h1v6.6h-1zM1600 811h1v0.9h-1zM1601 811h1v1.3h-1zM1602 811h1v1.9h-1zM1603 811h1v1.9h-1zM1619 811h1v0.6h-1z" fill="#ef5350" shape-rendering="crispEdges"/>
<path d="M22 811h1v2.0h-1zM55 811h1v0.9h-1zM69 811h1v5.7h-1zM70 811h1v5.5h-1zM71 811h1v5.2h-1zM73 811h1v7.4h-1zM74 811h1v6.2h-1zM75 811h1v3.8h-1zM76 811h1v3.5h-1zM78 811h1v3.3h-1zM79 811h1v2.5h-1zM111 811h1v7.3h-1zM112 811h1v6.5h-1zM113 811h1v5.4h-1zM114 811h1v3.0h-1zM115 811h1v2.5h-1zM116 811h1v2.3h-1zM120 811h1v2.3h-1zM121 811h1v1.5h-1zM122 811h1v0.7h-1zM146 811h1v3.3h-1zM147 811h1v2.5h-1zM148 811h1v0.6h-1zM177 811h1v1.9h-1zM178 811h1v1.8h-1zM179 811h1v0.9h-1zM194 811h1v2.1h-1zM195 811h1v1.5h-1zM202 811h1v2.0h-1zM203 811h1v1.7h-1zM204 811h1v1.2h-1zM236 811h1v6.4h-1zM237 811h1v5.9h-1zM238 811h1v5.1h-1zM239 811h1v3.1h-1zM240 811h1v2.1h-1zM241 811h1v1.2h-1zM269 811h1v6.2h-1zM270 811h1v5.6h-1zM271 811h1v4.9h-1zM272 811h1v4.0h-1zM273 811h1v2.0h-1zM274 811h1v1.1h-1zM285 811h1v5.2h-1zM286 811h1v5.1h-1zM287 811h1v4.6h-1zM288 811h1v4.3h-1zM289 811h1v4.0h-1zM290 811h1v3.5h-1zM291 811h1v2.8h-1zM292 811h1v1.8h-1zM328 811h1v2.8h-1zM329 811h1v2.1h-1zM330 811h1v0.5h-1zM352 811h1v3.5h-1zM353 811h1v3.0h-1zM354 811h1v2.3h-1zM355 811h1v0.9h-1zM362 811h1v3.6h-1zM363 811h1v3.1h-1zM364 811h1v1.3h-1zM378 811h1v4.6h-1zM379 811h1v3.6h-1zM380 811h1v2.5h-1zM381 811h1v0.7h-1zM407 811h1v5.6h-1zM408 811h1v4.7h-1zM409 811h1v3.0h-1zM410 811h1v2.2h-1zM411 811h1v1.5h-1zM438 811h1v0.9h-1zM439 811h1v0.6h-1zM467 811h1v1.2h-1zM473 811h1v2.6h-1zM483 811h1v4.4h-1zM484 811h1v4.2h-1zM485 811h1v3.8h-1zM486 811h1v3.7h-1zM489 811h1v4.2h-1zM490 811h1v3.7h-1zM494 811h1v7.8h-1zM495 811h1v6.7h-1zM496 811h1v5.3h-1zM501 811h1v8.9h-1zM502 811h1v5.4h-1zM503 811h1v3.2h-1zM504 811h1v1.2h-1zM556 811h1v22.9h-1zM557 811h1v20.9h-1zM558 811h1v18.3h-1zM559 811h1v12.9h-1zM560 811h1v11.1h-1zM561 811h1v9.7h-1zM562 811h1v6.8h-1zM563 811h1v5.3h-1zM564 811h1v3.8h-1zM582 811h1v3.6h-1zM583 811h1v2.1h-1zM588 811h1v4.4h-1zM589 811h1v3.5h-1zM590 811h1v2.0h-1zM591 811h1v1.5h-1zM592 811h1v1.1h-1zM596 811h1v5.8h-1zM597 811h1v5.2h-1zM611 811h1v4.2h-1zM612 811h1v4.1h-1zM613 811h1v1.8h-1zM625 811h1v11.3h-1zM626 811h1v10.2h-1zM627 811h1v6.9h-1zM628 811h1v4.8h-1zM629 811h1v2.6h-1zM633 811h1v2.5h-1zM634 811h1v1.9h-1zM635 811h1v1.8h-1zM639 811h1v3.0h-1zM640 811h1v2.6h-1zM644 811h1v4.6h-1zM645 811h1v4.2h-1zM646 811h1v3.6h-1zM647 811h1v1.7h-1zM648 811h1v1.2h-1zM649 811h1v1.1h-1zM650 811h1v1.3h-1zM651 811h1v0.8h-1zM661 811h1v4.2h-1zM662 811h1v3.2h-1zM663 811h1v1.6h-1zM695 811h1v10.9h-1zM696 811h1v9.9h-1zM697 811h1v8.6h-1zM698 811h1v6.3h-1zM699 811h1v5.1h-1zM700 811h1v2.7h-1zM715 811h1v1.9h-1zM716 811h1v0.7h-1zM726 811h1v1.3h-1zM727 811h1v1.0h-1zM728 811h1v0.8h-1zM738 811h1v0.8h-1zM753 811h1v1.6h-1zM754 811h1v1.0h-1zM759 811h1v6.8h-1zM764 811h1v9.4h-1zM765 811h1v8.2h-1zM766 811h1v5.3h-1zM767 811h1v4.2h-1zM768 811h1v3.3h-1zM769 811h1v0.9h-1zM785 811h1v8.3h-1zM786 811h1v5.2h-1zM787 811h1v3.2h-1zM788 811h1v1.1h-1zM834 811h1v10.0h-1zM835 811h1v8.7h-1zM836 811h1v7.2h-1zM837 811h1v4.1h-1zM838 811h1v2.7h-1zM839 811h1v1.4h-1zM845 811h1v1.0h-1zM846 811h1v0.7h-1zM854 811h1v2.5h-1zM855 811h1v1.9h-1zM856 811h1v0.9h-1zM865 811h1v0.8h-1zM866 811h1v0.6h-1zM875 811h1v2.1h-1zM876 811h1v2.0h-1zM877 811h1v1.2h-1zM878 811h1v0.7h-1zM886 811h1v6.1h-1zM887 811h1v5.1h-1zM888 811h1v2.1h-1zM889 811h1v0.8h-1zM900 811h1v1.4h-1zM901 811h1v1.0h-1zM911 811h1v5.4h-1zM912 811h1v4.0h-1zM913 811h1v1.4h-1zM915 811h1v1.1h-1zM954 811h1v4.0h-1zM955 811h1v3.7h-1zM956 811h1v3.0h-1zM957 811h1v2.7h-1zM958 811h1v2.5h-1zM959 811h1v2.2h-1zM965 811h1v11.3h-1zM966 811h1v10.5h-1zM967 811h1v8.7h-1zM968 811h1v7.7h-1zM969 811h1v6.5h-1zM970 811h1v4.0h-1zM971 811h1v3.0h-1zM972 811h1v2.1h-1zM973 811h1v0.6h-1zM1016 811h1v16.0h-1zM1017 811h1v13.9h-1zM1018 811h1v8.4h-1zM1019 811h1v5.5h-1zM1020 811h1v2.6h-1zM1032 811h1v10.0h-1zM1033 811h1v7.1h-1zM1034 811h1v4.0h-1zM1061 811h1v2.6h-1zM1062 811h1v1.9h-1zM1063 811h1v1.0h-1zM1069 811h1v4.5h-1zM1070 811h1v3.5h-1zM1071 811h1v2.8h-1zM1078 811h1v7.7h-1zM1079 811h1v5.8h-1zM1080 811h1v3.4h-1zM1093 811h1v1.0h-1zM1102 811h1v3.7h-1zM1103 811h1v2.6h-1zM1104 811h1v1.8h-1zM1105 811h1v1.1h-1zM1117 811h1v3.7h-1zM1118 811h1v0.9h-1zM1133 811h1v2.7h-1zM1137 811h1v3.7h-1zM1138 811h1v2.7h-1zM1139 811h1v1.6h-1zM1140 811h1v0.8h-1zM1146 811h1v2.8h-1zM1147 811h1v2.2h-1zM1148 811h1v1.6h-1zM1149 811h1v0.6h-1zM1163 811h1v2.1h-1zM1164 811h1v1.9h-1zM1165 811h1v1.8h-1zM1177 811h1v5.1h-1zM1178 811h1v4.2h-1zM1179 811h1v3.2h-1zM1180 811h1v1.2h-1zM1181 811h1v0.9h-1zM1185 811h1v3.2h-1zM1186 811h1v2.6h-1zM1187 811h1v1.7h-1zM1206 811h1v1.4h-1zM1226 811h1v1.2h-1zM1227 811h1v0.8h-1zM1236 811h1v6.7h-1zM1237 811h1v6.2h-1zM1238 811h1v5.7h-1zM1239 811h1v4.6h-1zM1240 811h1v3.3h-1zM1241 811h1v1.7h-1zM1254 811h1v3.4h-1zM1255 811h1v2.3h-1zM1280 811h1v1.9h-1zM1281 811h1v1.5h-1zM1304 811h1v2.0h-1zM1307 811h1v2.9h-1zM1308 811h1v2.5h-1zM1309 811h1v2.0h-1zM1310 811h1v0.7h-1zM1330 811h1v1.2h-1zM1331 811h1v0.9h-1zM1332 811h1v0.6h-1zM1338 811h1v4.8h-1zM1339 811h1v3.3h-1zM1340 811h1v2.5h-1zM1341 811h1v1.2h-1zM1342 811h1v0.7h-1zM1354 811h1v1.2h-1zM1355 811h1v0.7h-1zM1371 811h1v0.5h-1zM1380 811h1v1.0h-1zM1381 811h1v0.8h-1zM1424 811h1v4.3h-1zM1425 811h1v4.0h-1zM1426 811h1v3.0h-1zM1427 811h1v2.2h-1zM1428 811h1v1.6h-1zM1429 811h1v1.4h-1zM1430 811h1v1.2h-1zM1431 811h1v1.0h-1zM1452 811h1v1.5h-1zM1453 811h1v1.3h-1zM1454 811h1v1.1h-1zM1463 811h1v8.0h-1zM1464 811h1v6.8h-1zM1465 811h1v5.5h-1zM1466 811h1v3.6h-1zM1467 811h1v2.8h-1zM1468 811h1v2.2h-1zM1469 811h1v1.2h-1zM1470 811h1v0.8h-1zM1471 811h1v0.6h-1zM1481 811h1v10.7h-1zM1482 811h1v8.0h-1zM1483 811h1v2.4h-1zM1508 811h1v1.1h-1zM1509 811h1v0.7h-1zM1510 811h1v0.7h-1zM1521 811h1v3.2h-1zM1522 811h1v3.0h-1zM1523 811h1v0.9h-1zM1537 811h1v1.6h-1zM1538 811h1v1.3h-1zM1539 811h1v1.0h-1zM1543 811h1v0.7h-1zM1549 811h1v0.6h-1zM1579 811h1v2.7h-1zM1580 811h1v2.5h-1zM1581 811h1v2.2h-1zM1582 811h1v1.8h-1zM1589 811h1v6.5h-1zM1590 811h1v6.0h-1zM1591 811h1v4.5h-1zM1592 811h1v3.5h-1zM1593 811h1v2.4h-1zM1594 811h1v0.8h-1zM1604 811h1v1.6h-1zM1605 811h1v0.6h-1z" fill="#ffcdd2" shape-rendering="crispEdges"/>
<path d="M7.7 866.3 L8.5 866.1 L9.2 866.3 L10.0 866.8 L10.7 867.0 L11.4 866.5 L12.2 865.4 L12.9 863.9 L13.7 862.0 L14.4 859.8 L15.1 857.1 L15.9 854.0 L16.6 850.8 L17.4 847.9 L18.1 845.6 L18.8 843.9 L19.6 844.5 L20.3 849.0 L21.0 853.8 L21.8 855.6 L22.5 854.8 L23.3 852.9 L24.0 851.0 L24.7 849.0 L25.5 847.0 L26.2 845.0 L27.0 843.2 L27.7 841.6 L28.4 840.0 L29.2 838.5 L29.9 836.9 L30.7 835.0 L31.4 833.0 L32.1 830.8 L32.9 828.8 L33.6 827.3 L34.4 826.3 L35.1 825.5 L35.8 824.9 L36.6 824.1 L37.3 823.3 L38.0 822.5 L38.8 821.6 L39.5 820.5 L40.3 819.4 L41.0 818.1 L41.7 816.8 L42.5 813.4 L43.2 810.5 L44.0 808.6 L44.7 807.5 L45.4 807.0 L46.2 806.7 L46.9 806.3 L47.7 805.9 L48.4 805.6 L49.1 805.2 L49.9 804.9 L50.6 804.6 L51.4 804.3 L52.1 804.1 L52.8 804.3 L53.6 804.9 L54.3 805.8 L55.0 806.9 L55.8 806.9 L56.5 805.9 L57.3 803.3 L58.0 800.4 L58.7 798.3 L59.5 796.7 L60.2 795.7 L61.0 795.0 L61.7 794.7 L62.4 794.6 L63.2 794.7 L63.9 795.5 L64.7 796.9 L65.4 798.6 L66.1 800.8 L66.9 803.4 L67.6 805.6 L68.4 807.5 L69.1 809.1 L69.8 810.4 L70.6 811.5 L71.3 812.5 L72.1 816.5 L72.8 819.1 L73.5 820.4 L74.3 820.7 L75.0 820.3 L75.7 820.5 L76.5 821.1 L77.2 822.0 L78.0 823.2 L78.7 823.5 L79.4 823.3 L80.2 822.5 L80.9 821.5 L81.7 820.2 L82.4 819.4 L83.1 819.1 L83.9 819.2 L84.6 819.5 L85.4 819.9 L86.1 819.3 L86.8 817.7 L87.6 815.1 L88.3 811.8 L89.1 808.1 L89.8 804.3 L90.5 800.6 L91.3 798.1 L92.0 796.5 L92.7 795.7 L93.5 795.4 L94.2 795.7 L95.0 796.2 L95.7 796.7 L96.4 797.1 L97.2 797.5 L97.9 797.8 L98.7 797.6 L99.4 797.1 L100.1 796.3 L100.9 795.3 L101.6 794.4 L102.4 793.9 L103.1 793.7 L103.8 793.8 L104.6 794.3 L105.3 795.2 L106.1 796.4 L106.8 797.9 L107.5 799.7 L108.3 801.9 L109.0 804.3 L109.7 806.9 L110.5 809.5 L111.2 812.0 L112.0 813.5 L112.7 814.3 L113.4 814.5 L114.2 814.2 L114.9 813.9 L115.7 814.0 L116.4 814.4 L117.1 815.1 L117.9 816.1 L118.6 817.1 L119.4 818.1 L120.1 818.5 L120.8 818.5 L121.6 818.1 L122.3 817.5 L123.1 816.7 L123.8 815.8 L124.5 814.9 L125.3 814.3 L126.0 814.0 L126.7 813.9 L127.5 814.0 L128.2 814.2 L129.0 814.4 L129.7 814.8 L130.4 814.9 L131.2 814.6 L131.9 813.9 L132.7 812.9 L133.4 811.8 L134.1 810.7 L134.9 810.0 L135.6 809.5 L136.4 809.4 L137.1 809.3 L137.8 809.5 L138.6 809.7 L139.3 810.1 L140.1 810.5 L140.8 810.9 L141.5 811.5 L142.3 812.5 L143.0 813.6 L143.8 814.9 L144.5 816.3 L145.2 817.7 L146.0 818.7 L146.7 819.1 L147.4 818.9 L148.2 818.4 L148.9 817.5 L149.7 816.4 L150.4 815.2 L151.1 814.3 L151.9 814.0 L152.6 814.1 L153.4 814.7 L154.1 815.5 L154.8 815.9 L155.6 816.0 L156.3 815.7 L157.1 815.1 L157.8 814.3 L158.5 813.3 L159.3 812.4 L160.0 811.5 L160.8 810.7 L161.5 810.0 L162.2 809.3 L163.0 808.7 L163.7 808.1 L164.4 807.6 L165.2 807.1 L165.9 806.6 L166.7 806.4 L167.4 806.5 L168.1 806.8 L168.9 807.2 L169.6 807.8 L170.4 808.4 L171.1 809.1 L171.8 809.7 L172.6 810.3 L173.3 810.9 L174.1 811.5 L174.8 812.0 L175.5 812.5 L176.3 813.0 L177.0 813.5 L177.8 813.9 L178.5 814.3 L179.2 814.3 L180.0 814.0 L180.7 813.3 L181.4 812.5 L182.2 811.5 L182.9 810.6 L183.7 809.9 L184.4 809.2 L185.1 808.7 L185.9 808.3 L186.6 807.9 L187.4 807.6 L188.1 807.8 L188.8 808.2 L189.6 809.0 L190.3 809.9 L191.1 811.1 L191.8 812.3 L192.5 813.5 L193.3 814.3 L194.0 814.7 L194.8 814.7 L195.5 814.5 L196.2 814.0 L197.0 813.4 L197.7 812.6 L198.5 811.9 L199.2 811.9 L199.9 812.4 L200.7 813.5 L201.4 814.9 L202.1 815.7 L202.9 816.2 L203.6 816.3 L204.4 816.1 L205.1 815.7 L205.8 815.2 L206.6 814.6 L207.3 813.9 L208.1 812.7 L208.8 811.2 L209.5 809.4 L210.3 807.2 L211.0 804.7 L211.8 802.1 L212.5 799.7 L213.2 797.5 L214.0 795.5 L214.7 793.6 L215.5 791.8 L216.2 789.7 L216.9 787.3 L217.7 784.8 L218.4 783.7 L219.1 783.7 L219.9 784.6 L220.6 785.9 L221.4 786.7 L222.1 787.0 L222.8 787.0 L223.6 786.9 L224.3 787.3 L225.1 788.1 L225.8 789.2 L226.5 790.5 L227.3 792.0 L228.0 793.5 L228.8 795.2 L229.5 796.9 L230.2 798.6 L231.0 800.2 L231.7 801.9 L232.5 803.5 L233.2 805.1 L233.9 806.7 L234.7 808.4 L235.4 810.2 L236.1 811.9 L236.9 813.4 L237.6 814.4 L238.4 814.8 L239.1 814.9 L239.8 814.7 L240.6 814.2 L241.3 813.6 L242.1 813.1 L242.8 812.6 L243.5 812.1 L244.3 811.7 L245.0 811.2 L245.8 810.8 L246.5 810.0 L247.2 809.1 L248.0 808.1 L248.7 807.0 L249.5 805.8 L250.2 804.6 L250.9 803.6 L251.7 802.6 L252.4 801.7 L253.1 800.9 L253.9 800.2 L254.6 799.5 L255.4 798.9 L256.1 798.5 L256.8 798.3 L257.6 798.4 L258.3 798.7 L259.1 799.1 L259.8 799.6 L260.5 800.2 L261.3 800.8 L262.0 801.5 L262.8 802.2 L263.5 803.2 L264.2 804.6 L265.0 806.3 L265.7 808.3 L266.5 810.4 L267.2 812.4 L267.9 814.3 L268.7 815.9 L269.4 817.4 L270.2 818.7 L270.9 819.7 L271.6 820.2 L272.4 820.3 L273.1 820.1 L273.8 819.6 L274.6 819.0 L275.3 818.1 L276.1 817.0 L276.8 815.7 L277.5 814.3 L278.3 812.8 L279.0 812.0 L279.8 812.2 L280.5 813.4 L281.2 815.2 L282.0 817.6 L282.7 819.9 L283.5 821.9 L284.2 823.6 L284.9 825.1 L285.7 826.4 L286.4 827.5 L287.2 828.5 L287.9 829.4 L288.6 830.2 L289.4 830.9 L290.1 831.6 L290.8 832.2 L291.6 832.2 L292.3 831.7 L293.1 830.7 L293.8 829.4 L294.5 827.9 L295.3 826.1 L296.0 824.5 L296.8 823.1 L297.5 821.8 L298.2 820.7 L299.0 819.7 L299.7 818.8 L300.5 818.0 L301.2 817.3 L301.9 816.4 L302.7 815.2 L303.4 813.9 L304.2 812.5 L304.9 811.0 L305.6 809.4 L306.4 808.6 L307.1 808.6 L307.8 809.0 L308.6 809.3 L309.3 809.4 L310.1 809.4 L310.8 809.2 L311.5 809.0 L312.3 808.6 L313.0 808.3 L313.8 808.1 L314.5 808.0 L315.2 808.1 L316.0 808.3 L316.7 808.3 L317.5 808.1 L318.2 807.9 L318.9 807.5 L319.7 807.1 L320.4 806.7 L321.2 806.2 L321.9 806.1 L322.6 806.2 L323.4 806.6 L324.1 807.1 L324.8 807.8 L325.6 808.8 L326.3 810.3 L327.1 811.8 L327.8 812.7 L328.5 813.0 L329.3 812.9 L330.0 812.4 L330.8 811.7 L331.5 811.2 L332.2 810.8 L333.0 810.4 L333.7 810.2 L334.5 810.0 L335.2 809.9 L335.9 809.9 L336.7 809.8 L337.4 809.9 L338.2 810.0 L338.9 810.2 L339.6 810.5 L340.4 810.6 L341.1 808.9 L341.9 807.7 L342.6 807.0 L343.3 806.5 L344.1 806.3 L344.8 806.3 L345.5 806.2 L346.3 806.2 L347.0 806.2 L347.8 806.3 L348.5 806.8 L349.2 807.7 L350.0 808.9 L350.7 810.2 L351.5 811.7 L352.2 813.1 L352.9 813.9 L353.7 814.2 L354.4 814.1 L355.2 813.7 L355.9 813.3 L356.6 812.8 L357.4 812.2 L358.1 812.0 L358.9 813.0 L359.6 814.7 L360.3 816.8 L361.1 818.3 L361.8 819.3 L362.5 820.0 L363.3 820.4 L364.0 820.3 L364.8 819.4 L365.5 817.9 L366.2 816.2 L367.0 815.2 L367.7 814.5 L368.5 814.3 L369.2 814.2 L369.9 814.1 L370.7 814.0 L371.4 813.9 L372.2 814.1 L372.9 814.8 L373.6 815.9 L374.4 817.4 L375.1 819.1 L375.9 820.9 L376.6 822.7 L377.3 824.5 L378.1 826.0 L378.8 826.6 L379.5 826.5 L380.3 825.9 L381.0 825.2 L381.8 824.6 L382.5 824.3 L383.2 824.0 L384.0 823.8 L384.7 823.8 L385.5 823.7 L386.2 823.3 L386.9 822.2 L387.7 820.6 L388.4 818.6 L389.2 816.6 L389.9 814.9 L390.6 813.5 L391.4 812.3 L392.1 811.4 L392.9 810.6 L393.6 809.9 L394.3 809.5 L395.1 809.4 L395.8 809.4 L396.6 809.7 L397.3 810.0 L398.0 810.2 L398.8 810.0 L399.5 809.6 L400.2 808.9 L401.0 808.5 L401.7 808.4 L402.5 808.7 L403.2 809.3 L403.9 810.5 L404.7 812.7 L405.4 815.5 L406.2 818.8 L406.9 820.6 L407.6 821.4 L408.4 821.7 L409.1 821.7 L409.9 821.7 L410.6 821.4 L411.3 821.1 L412.1 820.8 L412.8 820.3 L413.6 820.1 L414.3 820.1 L415.0 820.3 L415.8 820.3 L416.5 820.2 L417.2 820.1 L418.0 819.8 L418.7 819.4 L419.5 818.5 L420.2 817.0 L420.9 815.7 L421.7 814.6 L422.4 813.8 L423.2 813.2 L423.9 812.8 L424.6 812.5 L425.4 812.1 L426.1 811.7 L426.9 811.1 L427.6 810.8 L428.3 810.9 L429.1 811.2 L429.8 811.7 L430.6 812.0 L431.3 812.3 L432.0 812.3 L432.8 812.3 L433.5 812.2 L434.2 812.3 L435.0 812.5 L435.7 812.8 L436.5 813.2 L437.2 813.7 L437.9 814.0 L438.7 814.1 L439.4 814.0 L440.2 813.8 L440.9 813.5 L441.6 813.1 L442.4 812.6 L443.1 811.9 L443.9 811.1 L444.6 810.3 L445.3 809.5 L446.1 807.5 L446.8 804.5 L447.6 801.0 L448.3 797.3 L449.0 794.2 L449.8 791.6 L450.5 789.5 L451.2 788.1 L452.0 787.4 L452.7 787.1 L453.5 787.2 L454.2 787.7 L454.9 788.2 L455.7 788.7 L456.4 789.3 L457.2 789.9 L457.9 790.6 L458.6 791.2 L459.4 792.3 L460.1 793.6 L460.9 789.5 L461.6 786.9 L462.3 785.3 L463.1 784.7 L463.8 784.9 L464.6 785.7 L465.3 787.3 L466.0 788.5 L466.8 789.1 L467.5 789.3 L468.3 789.1 L469.0 788.7 L469.7 789.0 L470.5 789.8 L471.2 791.1 L471.9 792.5 L472.7 793.4 L473.4 793.8 L474.2 794.1 L474.9 794.7 L475.6 795.6 L476.4 796.7 L477.1 798.0 L477.9 799.3 L478.6 800.7 L479.3 802.1 L480.1 803.4 L480.8 804.9 L481.6 806.3 L482.3 807.7 L483.0 808.7 L483.8 809.4 L484.5 810.1 L485.3 810.9 L486.0 811.7 L486.7 812.5 L487.5 813.4 L488.2 815.0 L488.9 816.3 L489.7 817.2 L490.4 817.6 L491.2 819.4 L491.9 823.8 L492.6 827.2 L493.4 829.7 L494.1 831.6 L494.9 832.9 L495.6 833.4 L496.3 833.4 L497.1 833.7 L497.8 835.6 L498.6 838.3 L499.3 841.1 L500.0 844.0 L500.8 847.4 L501.5 849.3 L502.3 849.7 L503.0 849.0 L503.7 847.6 L504.5 846.0 L505.2 844.2 L505.9 842.3 L506.7 840.4 L507.4 838.9 L508.2 837.6 L508.9 836.4 L509.6 835.5 L510.4 834.9 L511.1 834.4 L511.9 833.1 L512.6 831.2 L513.3 829.0 L514.1 826.7 L514.8 824.4 L515.6 822.1 L516.3 819.6 L517.0 816.9 L517.8 814.3 L518.5 811.8 L519.3 809.4 L520.0 807.2 L520.7 805.8 L521.5 805.4 L522.2 805.8 L523.0 806.9 L523.7 807.7 L524.4 807.8 L525.2 807.7 L525.9 807.9 L526.6 808.3 L527.4 808.8 L528.1 809.1 L528.9 808.8 L529.6 808.1 L530.3 807.1 L531.1 806.0 L531.8 804.8 L532.6 803.5 L533.3 802.2 L534.0 800.7 L534.8 798.9 L535.5 796.7 L536.3 780.0 L537.0 763.7 L537.7 748.9 L538.5 739.7 L539.2 735.9 L540.0 734.4 L540.7 731.1 L541.4 726.4 L542.2 720.8 L542.9 715.2 L543.6 713.4 L544.4 714.6 L545.1 716.7 L545.9 719.5 L546.6 722.7 L547.3 726.5 L548.1 731.5 L548.8 737.3 L549.6 744.3 L550.3 751.2 L551.0 757.7 L551.8 763.9 L552.5 769.9 L553.3 775.8 L554.0 782.2 L554.7 789.9 L555.5 796.4 L556.2 801.8 L557.0 806.4 L557.7 809.7 L558.4 811.7 L559.2 812.6 L559.9 813.4 L560.6 814.3 L561.4 815.3 L562.1 816.0 L562.9 816.2 L563.6 816.0 L564.3 815.5 L565.1 814.1 L565.8 812.2 L566.6 810.2 L567.3 807.9 L568.0 805.1 L568.8 802.0 L569.5 798.5 L570.3 794.5 L571.0 790.2 L571.7 786.5 L572.5 784.0 L573.2 782.5 L574.0 782.1 L574.7 782.6 L575.4 783.9 L576.2 785.2 L576.9 785.4 L577.6 784.7 L578.4 783.3 L579.1 782.4 L579.9 783.1 L580.6 785.2 L581.3 788.1 L582.1 790.5 L582.8 791.0 L583.6 790.0 L584.3 787.9 L585.0 786.4 L585.8 786.8 L586.5 788.8 L587.3 792.1 L588.0 794.6 L588.7 795.3 L589.5 795.3 L590.2 795.1 L591.0 795.0 L591.7 794.9 L592.4 794.7 L593.2 795.3 L593.9 797.1 L594.7 799.9 L595.4 802.7 L596.1 804.6 L596.9 805.8 L597.6 806.5 L598.3 801.5 L599.1 787.5 L599.8 777.6 L600.6 771.2 L601.3 766.9 L602.0 763.7 L602.8 761.6 L603.5 760.3 L604.3 760.4 L605.0 762.0 L605.7 764.8 L606.5 767.7 L607.2 770.1 L608.0 772.1 L608.7 773.8 L609.4 775.2 L610.2 776.4 L610.9 777.5 L611.7 778.6 L612.4 779.5 L613.1 779.5 L613.9 778.5 L614.6 776.6 L615.3 774.1 L616.1 773.4 L616.8 774.6 L617.6 777.4 L618.3 780.0 L619.0 781.9 L619.8 783.2 L620.5 785.0 L621.3 787.7 L622.0 791.0 L622.7 794.5 L623.5 798.1 L624.2 801.7 L625.0 805.3 L625.7 807.9 L626.4 809.4 L627.2 810.0 L627.9 810.0 L628.7 809.1 L629.4 807.5 L630.1 805.7 L630.9 805.4 L631.6 806.3 L632.3 808.0 L633.1 809.3 L633.8 809.7 L634.6 809.6 L635.3 809.9 L636.0 810.8 L636.8 812.0 L637.5 813.6 L638.3 814.7 L639.0 815.4 L639.7 815.8 L640.5 816.0 L641.2 816.6 L642.0 817.8 L642.7 819.8 L643.4 821.7 L644.2 823.0 L644.9 824.0 L645.7 824.6 L646.4 824.8 L647.1 824.6 L647.9 824.1 L648.6 823.9 L649.3 824.1 L650.1 824.7 L650.8 824.9 L651.6 824.6 L652.3 823.8 L653.0 822.7 L653.8 821.8 L654.5 821.4 L655.3 821.3 L656.0 821.4 L656.7 822.0 L657.5 822.9 L658.2 824.1 L659.0 826.1 L659.7 828.7 L660.4 830.6 L661.2 831.7 L661.9 832.1 L662.7 832.0 L663.4 830.8 L664.1 828.6 L664.9 826.0 L665.6 823.4 L666.4 820.8 L667.1 818.2 L667.8 815.5 L668.6 812.8 L669.3 810.7 L670.0 809.3 L670.8 808.5 L671.5 808.1 L672.3 807.7 L673.0 807.2 L673.7 806.6 L674.5 805.9 L675.2 804.0 L676.0 801.2 L676.7 797.2 L677.4 793.3 L678.2 789.9 L678.9 787.9 L679.7 786.9 L680.4 786.7 L681.1 787.2 L681.9 788.1 L682.6 789.4 L683.4 789.0 L684.1 787.3 L684.8 785.4 L685.6 783.4 L686.3 781.3 L687.0 781.0 L687.8 782.1 L688.5 783.7 L689.3 785.6 L690.0 787.7 L690.7 791.3 L691.5 795.9 L692.2 800.0 L693.0 803.5 L693.7 806.7 L694.4 809.9 L695.2 813.1 L695.9 815.3 L696.7 816.7 L697.4 817.5 L698.1 818.2 L698.9 818.7 L699.6 818.7 L700.4 817.0 L701.1 814.1 L701.8 812.5 L702.6 812.1 L703.3 812.4 L704.0 812.9 L704.8 813.7 L705.5 814.5 L706.3 814.9 L707.0 814.8 L707.7 814.2 L708.5 812.7 L709.2 810.4 L710.0 807.6 L710.7 805.2 L711.4 804.1 L712.2 803.9 L712.9 804.4 L713.7 805.5 L714.4 807.7 L715.1 810.0 L715.9 810.2 L716.6 809.1 L717.4 808.6 L718.1 808.5 L718.8 808.4 L719.6 807.8 L720.3 806.7 L721.1 805.7 L721.8 805.4 L722.5 805.7 L723.3 806.5 L724.0 807.7 L724.7 808.9 L725.5 809.5 L726.2 809.8 L727.0 809.8 L727.7 809.7 L728.4 809.7 L729.2 809.6 L729.9 809.5 L730.7 807.3 L731.4 804.8 L732.1 803.1 L732.9 802.2 L733.6 801.9 L734.4 802.0 L735.1 802.3 L735.8 802.9 L736.6 803.6 L737.3 804.4 L738.1 805.1 L738.8 805.1 L739.5 804.7 L740.3 803.0 L741.0 798.9 L741.7 795.0 L742.5 791.4 L743.2 789.0 L744.0 788.4 L744.7 789.3 L745.4 790.8 L746.2 792.2 L746.9 793.5 L747.7 794.1 L748.4 793.6 L749.1 792.2 L749.9 792.0 L750.6 792.7 L751.4 794.1 L752.1 795.5 L752.8 796.1 L753.6 796.1 L754.3 795.8 L755.1 796.1 L755.8 798.1 L756.5 800.8 L757.3 803.6 L758.0 806.4 L758.7 808.6 L759.5 809.9 L760.2 811.4 L761.0 813.5 L761.7 816.7 L762.4 820.1 L763.2 823.1 L763.9 825.7 L764.7 827.5 L765.4 828.4 L766.1 828.6 L766.9 828.5 L767.6 828.4 L768.4 828.3 L769.1 827.8 L769.8 826.7 L770.6 825.2 L771.3 823.2 L772.1 821.1 L772.8 819.8 L773.5 819.1 L774.3 818.4 L775.0 817.5 L775.7 816.9 L776.5 816.9 L777.2 817.3 L778.0 818.6 L778.7 820.7 L779.4 822.5 L780.2 823.8 L780.9 824.6 L781.7 826.0 L782.4 828.1 L783.1 831.2 L783.9 835.2 L784.6 838.2 L785.4 839.7 L786.1 840.1 L786.8 839.6 L787.6 838.4 L788.3 836.6 L789.1 835.7 L789.8 835.9 L790.5 835.6 L791.3 834.6 L792.0 833.2 L792.8 831.3 L793.5 829.2 L794.2 826.8 L795.0 824.4 L795.7 822.3 L796.4 820.6 L797.2 819.2 L797.9 818.1 L798.7 817.4 L799.4 816.9 L800.1 816.8 L800.9 816.8 L801.6 817.1 L802.4 817.5 L803.1 817.3 L803.8 816.7 L804.6 815.7 L805.3 814.6 L806.1 813.3 L806.8 812.4 L807.5 812.0 L808.3 811.8 L809.0 811.9 L809.8 812.1 L810.5 812.5 L811.2 811.3 L812.0 808.7 L812.7 806.5 L813.4 804.7 L814.2 803.1 L814.9 802.3 L815.7 801.9 L816.4 801.9 L817.1 802.2 L817.9 802.8 L818.6 803.5 L819.4 804.3 L820.1 799.3 L820.8 795.7 L821.6 793.1 L822.3 791.5 L823.1 790.6 L823.8 789.8 L824.5 789.0 L825.3 788.3 L826.0 787.7 L826.8 787.4 L827.5 787.8 L828.2 788.7 L829.0 790.1 L829.7 792.4 L830.4 795.3 L831.2 798.6 L831.9 802.4 L832.7 806.6 L833.4 810.9 L834.1 813.6 L834.9 815.2 L835.6 816.0 L836.4 816.3 L837.1 816.1 L837.8 815.7 L838.6 814.9 L839.3 813.9 L840.1 813.0 L840.8 812.5 L841.5 812.3 L842.3 812.5 L843.0 813.0 L843.8 813.5 L844.5 813.9 L845.2 814.2 L846.0 814.5 L846.7 814.4 L847.5 813.7 L848.2 812.5 L848.9 811.2 L849.7 810.7 L850.4 810.8 L851.1 811.3 L851.9 811.8 L852.6 812.7 L853.4 814.2 L854.1 815.7 L854.8 816.3 L855.6 816.1 L856.3 815.4 L857.1 814.3 L857.8 813.0 L858.5 811.7 L859.3 810.5 L860.0 809.4 L860.8 808.7 L861.5 808.9 L862.2 809.6 L863.0 810.5 L863.7 811.2 L864.5 811.7 L865.2 812.0 L865.9 812.2 L866.7 812.2 L867.4 811.8 L868.1 811.2 L868.9 810.7 L869.6 810.7 L870.4 811.2 L871.1 811.9 L871.8 812.7 L872.6 813.5 L873.3 814.3 L874.1 815.0 L874.8 815.6 L875.5 816.2 L876.3 816.5 L877.0 816.6 L877.8 816.4 L878.5 816.1 L879.2 815.8 L880.0 815.7 L880.7 815.7 L881.5 815.9 L882.2 817.4 L882.9 819.8 L883.7 822.1 L884.4 824.2 L885.1 826.3 L885.9 828.3 L886.6 829.7 L887.4 830.0 L888.1 829.5 L888.8 828.5 L889.6 827.4 L890.3 826.7 L891.1 826.3 L891.8 826.0 L892.5 825.7 L893.3 825.4 L894.0 825.1 L894.8 824.5 L895.5 823.7 L896.2 822.8 L897.0 821.8 L897.7 822.4 L898.5 823.6 L899.2 824.9 L899.9 825.8 L900.7 826.1 L901.4 826.0 L902.1 825.0 L902.9 823.1 L903.6 821.4 L904.4 820.1 L905.1 819.2 L905.8 818.5 L906.6 818.9 L907.3 821.1 L908.1 825.9 L908.8 829.5 L909.5 832.1 L910.3 834.0 L911.0 835.0 L911.8 835.3 L912.5 834.9 L913.2 834.0 L914.0 833.3 L914.7 833.9 L915.5 833.7 L916.2 832.8 L916.9 831.5 L917.7 830.4 L918.4 829.4 L919.2 828.5 L919.9 827.6 L920.6 826.2 L921.4 824.4 L922.1 822.8 L922.8 821.9 L923.6 821.6 L924.3 821.2 L925.1 820.6 L925.8 820.0 L926.5 819.4 L927.3 818.8 L928.0 818.3 L928.8 817.9 L929.5 817.6 L930.2 817.4 L931.0 817.0 L931.7 816.4 L932.5 815.5 L933.2 814.4 L933.9 813.9 L934.7 813.8 L935.4 814.0 L936.2 814.6 L936.9 815.5 L937.6 816.7 L938.4 817.3 L939.1 816.1 L939.8 814.0 L940.6 812.0 L941.3 809.9 L942.1 808.2 L942.8 807.1 L943.5 806.5 L944.3 806.0 L945.0 805.4 L945.8 804.9 L946.5 804.3 L947.2 803.8 L948.0 803.5 L948.7 803.7 L949.5 804.2 L950.2 805.2 L950.9 806.8 L951.7 808.8 L952.4 810.7 L953.2 812.2 L953.9 813.4 L954.6 814.2 L955.4 814.9 L956.1 815.3 L956.8 815.7 L957.6 816.1 L958.3 816.5 L959.1 816.9 L959.8 817.3 L960.5 818.0 L961.3 819.3 L962.0 821.5 L962.8 824.6 L963.5 828.9 L964.2 834.5 L965.0 838.3 L965.7 840.6 L966.5 842.5 L967.2 844.0 L967.9 845.3 L968.7 846.2 L969.4 846.6 L970.2 846.7 L970.9 846.5 L971.6 846.2 L972.4 845.7 L973.1 845.3 L973.8 844.8 L974.6 844.2 L975.3 844.0 L976.1 844.0 L976.8 844.4 L977.5 846.0 L978.3 846.9 L979.0 846.7 L979.8 845.9 L980.5 844.6 L981.2 843.1 L982.0 841.0 L982.7 838.6 L983.5 835.9 L984.2 833.1 L984.9 830.1 L985.7 827.5 L986.4 825.2 L987.2 823.3 L987.9 821.6 L988.6 820.4 L989.4 819.7 L990.1 819.4 L990.9 819.3 L991.6 819.4 L992.3 819.6 L993.1 820.0 L993.8 820.8 L994.5 821.2 L995.3 821.2 L996.0 820.9 L996.8 817.5 L997.5 814.4 L998.2 811.6 L999.0 809.1 L999.7 808.7 L1000.5 808.8 L1001.2 809.3 L1001.9 810.1 L1002.7 810.1 L1003.4 809.5 L1004.2 808.4 L1004.9 806.7 L1005.6 805.7 L1006.4 805.3 L1007.1 805.3 L1007.9 805.7 L1008.6 806.6 L1009.3 807.9 L1010.1 809.9 L1010.8 812.4 L1011.5 815.3 L1012.3 818.3 L1013.0 822.7 L1013.8 829.5 L1014.5 835.8 L1015.2 841.6 L1016.0 846.3 L1016.7 849.2 L1017.5 850.6 L1018.2 850.8 L1018.9 850.0 L1019.7 848.5 L1020.4 846.2 L1021.2 843.3 L1021.9 840.0 L1022.6 838.1 L1023.4 837.2 L1024.1 836.5 L1024.9 835.9 L1025.6 836.8 L1026.3 838.9 L1027.1 839.4 L1027.8 838.8 L1028.5 840.4 L1029.3 845.5 L1030.0 851.3 L1030.8 856.5 L1031.5 861.4 L1032.2 863.9 L1033.0 864.2 L1033.7 863.0 L1034.5 860.9 L1035.2 858.0 L1035.9 854.5 L1036.7 850.7 L1037.4 847.4 L1038.2 845.2 L1038.9 843.9 L1039.6 843.3 L1040.4 842.6 L1041.1 840.9 L1041.9 838.6 L1042.6 836.4 L1043.3 834.7 L1044.1 833.6 L1044.8 832.8 L1045.6 832.1 L1046.3 831.6 L1047.0 831.1 L1047.8 830.8 L1048.5 828.9 L1049.2 825.1 L1050.0 820.5 L1050.7 815.9 L1051.5 811.8 L1052.2 808.6 L1052.9 806.1 L1053.7 804.3 L1054.4 802.9 L1055.2 801.9 L1055.9 801.3 L1056.6 801.5 L1057.4 802.6 L1058.1 804.2 L1058.9 806.2 L1059.6 808.4 L1060.3 810.0 L1061.1 810.9 L1061.8 811.2 L1062.6 811.0 L1063.3 810.3 L1064.0 809.2 L1064.8 809.2 L1065.5 810.3 L1066.2 812.4 L1067.0 815.1 L1067.7 818.4 L1068.5 820.5 L1069.2 821.4 L1069.9 821.2 L1070.7 821.0 L1071.4 821.1 L1072.2 821.3 L1072.9 821.9 L1073.6 822.9 L1074.4 824.1 L1075.1 826.3 L1075.9 829.2 L1076.6 832.7 L1077.3 836.6 L1078.1 838.8 L1078.8 839.5 L1079.6 838.9 L1080.3 837.4 L1081.0 832.2 L1081.8 825.5 L1082.5 819.6 L1083.2 814.5 L1084.0 809.9 L1084.7 805.8 L1085.5 801.8 L1086.2 798.2 L1086.9 796.1 L1087.7 795.2 L1088.4 795.3 L1089.2 796.0 L1089.9 797.1 L1090.6 798.5 L1091.4 800.2 L1092.1 802.0 L1092.9 802.7 L1093.6 802.6 L1094.3 801.7 L1095.1 800.3 L1095.8 799.7 L1096.6 799.7 L1097.3 800.2 L1098.0 801.1 L1098.8 802.2 L1099.5 803.5 L1100.2 804.8 L1101.0 806.3 L1101.7 807.7 L1102.5 808.6 L1103.2 808.9 L1103.9 808.9 L1104.7 808.6 L1105.4 808.1 L1106.2 807.6 L1106.9 807.1 L1107.6 806.5 L1108.4 805.9 L1109.1 805.3 L1109.9 805.3 L1110.6 805.6 L1111.3 806.3 L1112.1 807.1 L1112.8 808.0 L1113.6 809.0 L1114.3 810.1 L1115.0 811.3 L1115.8 813.1 L1116.5 815.3 L1117.3 817.2 L1118.0 816.5 L1118.7 813.9 L1119.5 811.6 L1120.2 809.5 L1120.9 807.0 L1121.7 802.5 L1122.4 798.6 L1123.2 795.2 L1123.9 792.1 L1124.6 789.7 L1125.4 788.8 L1126.1 788.8 L1126.9 788.7 L1127.6 788.5 L1128.3 788.4 L1129.1 789.1 L1129.8 790.3 L1130.6 792.0 L1131.3 793.8 L1132.0 795.1 L1132.8 796.0 L1133.5 796.6 L1134.3 797.2 L1135.0 798.2 L1135.7 799.5 L1136.5 801.1 L1137.2 802.5 L1137.9 802.9 L1138.7 802.5 L1139.4 801.8 L1140.2 801.5 L1140.9 801.5 L1141.6 801.8 L1142.4 802.5 L1143.1 803.7 L1143.9 805.5 L1144.6 807.1 L1145.3 808.1 L1146.1 808.6 L1146.8 808.7 L1147.6 808.6 L1148.3 808.4 L1149.0 808.2 L1149.8 807.9 L1150.5 807.4 L1151.3 806.4 L1152.0 805.0 L1152.7 803.3 L1153.5 801.6 L1154.2 800.3 L1154.9 799.2 L1155.7 798.4 L1156.4 797.8 L1157.2 797.3 L1157.9 797.3 L1158.6 797.7 L1159.4 798.5 L1160.1 799.5 L1160.9 800.7 L1161.6 801.8 L1162.3 802.6 L1163.1 803.3 L1163.8 803.7 L1164.6 804.0 L1165.3 804.3 L1166.0 804.7 L1166.8 805.2 L1167.5 805.8 L1168.3 806.4 L1169.0 807.0 L1169.7 807.8 L1170.5 808.9 L1171.2 810.1 L1172.0 811.5 L1172.7 813.1 L1173.4 814.9 L1174.2 816.6 L1174.9 818.4 L1175.6 820.1 L1176.4 821.7 L1177.1 822.9 L1177.9 823.6 L1178.6 823.7 L1179.3 823.5 L1180.1 823.1 L1180.8 822.4 L1181.6 822.3 L1182.3 823.3 L1183.0 824.7 L1183.8 826.4 L1184.5 827.8 L1185.3 828.6 L1186.0 828.9 L1186.7 829.0 L1187.5 828.6 L1188.2 827.8 L1189.0 826.7 L1189.7 825.4 L1190.4 823.5 L1191.2 821.0 L1191.9 819.4 L1192.6 819.3 L1193.4 819.2 L1194.1 818.8 L1194.9 818.3 L1195.6 817.6 L1196.3 816.8 L1197.1 816.0 L1197.8 815.1 L1198.6 814.2 L1199.3 813.4 L1200.0 812.5 L1200.8 811.7 L1201.5 811.5 L1202.3 811.9 L1203.0 812.7 L1203.7 813.8 L1204.5 815.0 L1205.2 816.3 L1206.0 816.8 L1206.7 816.6 L1207.4 815.8 L1208.2 815.0 L1208.9 814.2 L1209.6 813.4 L1210.4 812.7 L1211.1 812.5 L1211.9 812.8 L1212.6 813.6 L1213.3 813.9 L1214.1 813.7 L1214.8 813.2 L1215.6 812.5 L1216.3 811.5 L1217.0 810.4 L1217.8 809.7 L1218.5 809.3 L1219.3 809.2 L1220.0 809.3 L1220.7 809.4 L1221.5 809.4 L1222.2 809.4 L1223.0 809.8 L1223.7 810.4 L1224.4 811.2 L1225.2 812.1 L1225.9 812.5 L1226.6 812.6 L1227.4 812.4 L1228.1 812.0 L1228.9 811.5 L1229.6 810.9 L1230.3 810.6 L1231.1 810.8 L1231.8 811.4 L1232.6 812.0 L1233.3 812.7 L1234.0 813.7 L1234.8 818.0 L1235.5 821.2 L1236.3 823.5 L1237.0 825.0 L1237.7 826.0 L1238.5 826.9 L1239.2 827.7 L1240.0 828.2 L1240.7 827.7 L1241.4 826.5 L1242.2 824.9 L1242.9 823.1 L1243.7 818.4 L1244.4 813.7 L1245.1 810.2 L1245.9 807.7 L1246.6 805.9 L1247.3 804.6 L1248.1 803.6 L1248.8 802.9 L1249.6 805.9 L1250.3 808.4 L1251.0 810.4 L1251.8 812.1 L1252.5 813.6 L1253.3 815.0 L1254.0 816.2 L1254.7 816.6 L1255.5 816.1 L1256.2 815.1 L1257.0 814.1 L1257.7 813.1 L1258.4 812.1 L1259.2 811.0 L1259.9 809.0 L1260.7 807.6 L1261.4 806.8 L1262.1 806.8 L1262.9 807.5 L1263.6 808.5 L1264.3 808.9 L1265.1 808.8 L1265.8 808.4 L1266.6 808.2 L1267.3 808.1 L1268.0 808.1 L1268.8 808.2 L1269.5 808.2 L1270.3 808.1 L1271.0 807.8 L1271.7 807.5 L1272.5 807.1 L1273.2 806.8 L1274.0 806.7 L1274.7 806.7 L1275.4 806.9 L1276.2 807.1 L1276.9 807.5 L1277.7 808.2 L1278.4 809.0 L1279.1 810.0 L1279.9 810.7 L1280.6 811.1 L1281.3 811.0 L1282.1 810.7 L1282.8 810.3 L1283.6 810.0 L1284.3 809.8 L1285.0 809.7 L1285.8 809.7 L1286.5 809.6 L1287.3 809.4 L1288.0 809.0 L1288.7 808.4 L1289.5 807.7 L1290.2 806.7 L1291.0 805.5 L1291.7 804.5 L1292.4 804.1 L1293.2 804.1 L1293.9 804.5 L1294.7 805.0 L1295.4 805.4 L1296.1 805.8 L1296.9 806.1 L1297.6 806.5 L1298.3 806.9 L1299.1 807.4 L1299.8 807.9 L1300.6 808.6 L1301.3 809.2 L1302.0 809.9 L1302.8 810.5 L1303.5 811.0 L1304.3 811.5 L1305.0 812.3 L1305.7 813.4 L1306.5 814.6 L1307.2 815.4 L1308.0 815.9 L1308.7 816.1 L1309.4 816.1 L1310.2 815.9 L1310.9 815.4 L1311.7 814.7 L1312.4 813.9 L1313.1 813.1 L1313.9 812.4 L1314.6 811.7 L1315.4 811.2 L1316.1 810.2 L1316.8 808.7 L1317.6 807.6 L1318.3 807.0 L1319.0 806.7 L1319.8 806.6 L1320.5 806.5 L1321.3 806.4 L1322.0 806.3 L1322.7 806.3 L1323.5 806.6 L1324.2 806.9 L1325.0 807.4 L1325.7 807.9 L1326.4 808.3 L1327.2 808.6 L1327.9 809.0 L1328.7 809.4 L1329.4 809.8 L1330.1 810.2 L1330.9 810.4 L1331.6 810.3 L1332.4 810.2 L1333.1 809.9 L1333.8 809.5 L1334.6 811.7 L1335.3 814.0 L1336.0 816.1 L1336.8 817.8 L1337.5 819.3 L1338.3 820.3 L1339.0 820.7 L1339.7 820.7 L1340.5 820.5 L1341.2 820.2 L1342.0 819.9 L1342.7 819.7 L1343.4 819.4 L1344.2 819.2 L1344.9 819.1 L1345.7 819.0 L1346.4 819.0 L1347.1 819.0 L1347.9 818.6 L1348.6 817.9 L1349.4 817.1 L1350.1 816.7 L1350.8 816.9 L1351.6 817.4 L1352.3 818.0 L1353.0 818.7 L1353.8 819.5 L1354.5 819.8 L1355.3 819.5 L1356.0 818.9 L1356.7 818.1 L1357.5 817.1 L1358.2 816.1 L1359.0 815.0 L1359.7 814.0 L1360.4 813.4 L1361.2 813.3 L1361.9 813.5 L1362.7 813.8 L1363.4 813.9 L1364.1 813.6 L1364.9 813.2 L1365.6 812.6 L1366.4 812.0 L1367.1 811.5 L1367.8 811.0 L1368.6 811.1 L1369.3 811.7 L1370.1 812.6 L1370.8 813.0 L1371.5 813.1 L1372.3 813.0 L1373.0 812.7 L1373.7 812.4 L1374.5 812.2 L1375.2 811.9 L1376.0 811.8 L1376.7 812.2 L1377.4 812.8 L1378.2 813.3 L1378.9 813.7 L1379.7 814.1 L1380.4 814.3 L1381.1 814.5 L1381.9 814.5 L1382.6 814.0 L1383.4 813.2 L1384.1 812.4 L1384.8 811.6 L1385.6 811.0 L1386.3 810.8 L1387.1 811.0 L1387.8 811.2 L1388.5 811.1 L1389.3 810.7 L1390.0 810.0 L1390.7 809.4 L1391.5 809.1 L1392.2 809.0 L1393.0 809.1 L1393.7 809.3 L1394.4 809.4 L1395.2 809.3 L1395.9 809.2 L1396.7 809.0 L1397.4 808.7 L1398.1 808.5 L1398.9 808.2 L1399.6 807.9 L1400.4 807.6 L1401.1 807.3 L1401.8 807.1 L1402.6 806.8 L1403.3 806.5 L1404.1 806.2 L1404.8 804.8 L1405.5 803.3 L1406.3 802.0 L1407.0 800.9 L1407.7 800.2 L1408.5 799.9 L1409.2 799.8 L1410.0 800.0 L1410.7 800.4 L1411.4 800.8 L1412.2 801.0 L1412.9 801.0 L1413.7 801.1 L1414.4 801.4 L1415.1 801.8 L1415.9 802.4 L1416.6 803.2 L1417.4 804.4 L1418.1 805.9 L1418.8 807.3 L1419.6 808.6 L1420.3 809.8 L1421.1 810.8 L1421.8 811.8 L1422.5 813.0 L1423.3 814.3 L1424.0 815.5 L1424.7 816.4 L1425.5 817.1 L1426.2 817.7 L1427.0 817.8 L1427.7 817.6 L1428.4 817.4 L1429.2 817.6 L1429.9 817.9 L1430.7 818.0 L1431.4 818.0 L1432.1 817.9 L1432.9 817.8 L1433.6 817.6 L1434.4 816.8 L1435.1 815.2 L1435.8 813.8 L1436.6 812.9 L1437.3 812.4 L1438.1 812.3 L1438.8 812.4 L1439.5 812.4 L1440.3 812.2 L1441.0 811.9 L1441.8 811.7 L1442.5 811.7 L1443.2 811.9 L1444.0 811.9 L1444.7 811.9 L1445.4 811.9 L1446.2 811.8 L1446.9 811.6 L1447.7 811.7 L1448.4 811.8 L1449.1 812.1 L1449.9 812.6 L1450.6 813.3 L1451.4 814.0 L1452.1 814.6 L1452.8 814.9 L1453.6 815.1 L1454.3 815.1 L1455.1 814.8 L1455.8 814.2 L1456.5 813.4 L1457.3 812.6 L1458.0 812.1 L1458.8 811.8 L1459.5 811.7 L1460.2 815.0 L1461.0 819.3 L1461.7 823.6 L1462.4 827.1 L1463.2 829.4 L1463.9 830.7 L1464.7 831.2 L1465.4 831.3 L1466.1 831.3 L1466.9 831.3 L1467.6 831.3 L1468.4 831.2 L1469.1 831.1 L1469.8 830.9 L1470.6 830.8 L1471.3 830.6 L1472.1 830.0 L1472.8 828.7 L1473.5 827.7 L1474.3 827.4 L1475.0 828.1 L1475.8 829.7 L1476.5 831.6 L1477.2 833.5 L1478.0 835.4 L1478.7 837.5 L1479.4 842.3 L1480.2 847.5 L1480.9 851.0 L1481.7 853.2 L1482.4 852.6 L1483.1 850.8 L1483.9 848.8 L1484.6 846.7 L1485.4 845.1 L1486.1 844.2 L1486.8 843.8 L1487.6 843.7 L1488.3 843.7 L1489.1 843.1 L1489.8 841.5 L1490.5 840.7 L1491.3 840.8 L1492.0 839.3 L1492.8 836.4 L1493.5 832.6 L1494.2 828.3 L1495.0 825.2 L1495.7 823.0 L1496.5 820.4 L1497.2 817.2 L1497.9 813.4 L1498.7 808.5 L1499.4 803.8 L1500.1 800.8 L1500.9 799.2 L1501.6 798.4 L1502.4 798.3 L1503.1 798.6 L1503.8 799.5 L1504.6 800.7 L1505.3 802.3 L1506.1 804.1 L1506.8 805.1 L1507.5 805.5 L1508.3 805.4 L1509.0 805.3 L1509.8 805.4 L1510.5 805.5 L1511.2 805.7 L1512.0 806.0 L1512.7 805.8 L1513.5 805.3 L1514.2 804.6 L1514.9 804.2 L1515.7 804.2 L1516.4 804.4 L1517.1 805.1 L1517.9 806.1 L1518.6 807.3 L1519.4 808.8 L1520.1 810.0 L1520.8 810.9 L1521.6 811.7 L1522.3 812.3 L1523.1 812.0 L1523.8 810.9 L1524.5 809.3 L1525.3 808.2 L1526.0 807.3 L1526.8 806.7 L1527.5 806.4 L1528.2 805.5 L1529.0 804.3 L1529.7 804.2 L1530.5 804.8 L1531.2 806.0 L1531.9 806.7 L1532.7 806.9 L1533.4 806.9 L1534.1 807.1 L1534.9 807.5 L1535.6 808.0 L1536.4 808.7 L1537.1 809.4 L1537.8 809.7 L1538.6 809.8 L1539.3 809.7 L1540.1 809.5 L1540.8 809.5 L1541.5 809.7 L1542.3 810.0 L1543.0 810.3 L1543.8 810.4 L1544.5 810.2 L1545.2 810.0 L1546.0 809.9 L1546.7 810.0 L1547.5 810.3 L1548.2 810.6 L1548.9 810.9 L1549.7 811.0 L1550.4 811.0 L1551.1 811.0 L1551.9 811.0 L1552.6 811.0 L1553.4 811.1 L1554.1 811.3 L1554.8 811.4 L1555.6 811.4 L1556.3 811.2 L1557.1 811.0 L1557.8 810.5 L1558.5 809.5 L1559.3 808.3 L1560.0 807.8 L1560.8 807.8 L1561.5 808.2 L1562.2 808.7 L1563.0 808.9 L1563.7 808.9 L1564.5 808.6 L1565.2 807.9 L1565.9 806.5 L1566.7 804.4 L1567.4 801.8 L1568.2 798.8 L1568.9 795.9 L1569.6 793.7 L1570.4 792.1 L1571.1 791.1 L1571.8 790.6 L1572.6 790.5 L1573.3 790.8 L1574.1 791.3 L1574.8 792.3 L1575.5 793.6 L1576.3 795.2 L1577.0 796.6 L1577.8 797.8 L1578.5 798.7 L1579.2 799.4 L1580.0 799.9 L1580.7 800.3 L1581.5 800.6 L1582.2 800.8 L1582.9 801.1 L1583.7 802.4 L1584.4 804.7 L1585.2 807.1 L1585.9 809.0 L1586.6 810.5 L1587.4 812.1 L1588.1 814.2 L1588.8 816.2 L1589.6 817.7 L1590.3 818.6 L1591.1 819.2 L1591.8 819.6 L1592.5 819.5 L1593.3 819.0 L1594.0 818.4 L1594.8 818.0 L1595.5 817.5 L1596.2 817.2 L1597.0 816.9 L1597.7 816.7 L1598.5 816.6 L1599.2 817.0 L1599.9 817.5 L1600.7 818.2 L1601.4 818.9 L1602.2 819.7 L1602.9 820.4 L1603.6 820.9 L1604.4 821.0 L1605.1 820.8 L1605.8 820.4 L1606.6 820.0 L1607.3 819.6 L1608.1 819.2 L1608.8 818.8 L1609.5 818.5 L1610.3 818.2 L1611.0 817.9 L1611.8 817.6 L1612.5 817.4 L1613.2 817.2 L1614.0 817.0 L1614.7 816.9 L1615.5 816.8 L1616.2 816.8 L1616.9 816.9 L1617.7 817.2 L1618.4 817.5 L1619.2 818.0 L1619.9 818.2 L1620.6 818.1 L1621.4 817.9 L1622.1 817.5 L1622.8 817.0 L1623.6 816.5 L1624.3 815.9 L1625.1 815.3 L1625.8 814.8 L1626.5 814.4" stroke="#0094ff" stroke-width="1" fill="none" stroke-linejoin="round"/>
<path d="M7.7 885.9 L8.5 882.0 L9.2 878.8 L10.0 876.4 L10.7 874.5 L11.4 872.9 L12.2 871.4 L12.9 869.9 L13.7 868.3 L14.4 866.6 L15.1 864.7 L15.9 862.6 L16.6 860.2 L17.4 857.7 L18.1 855.3 L18.8 853.0 L19.6 851.3 L20.3 850.8 L21.0 851.4 L21.8 852.3 L22.5 852.8 L23.3 852.8 L24.0 852.4 L24.7 851.8 L25.5 850.8 L26.2 849.6 L27.0 848.4 L27.7 847.0 L28.4 845.6 L29.2 844.2 L29.9 842.7 L30.7 841.2 L31.4 839.5 L32.1 837.8 L32.9 836.0 L33.6 834.3 L34.4 832.7 L35.1 831.2 L35.8 830.0 L36.6 828.8 L37.3 827.7 L38.0 826.7 L38.8 825.6 L39.5 824.6 L40.3 823.6 L41.0 822.5 L41.7 821.3 L42.5 819.7 L43.2 817.9 L44.0 816.0 L44.7 814.3 L45.4 812.9 L46.2 811.6 L46.9 810.6 L47.7 809.6 L48.4 808.8 L49.1 808.1 L49.9 807.5 L50.6 806.9 L51.4 806.4 L52.1 805.9 L52.8 805.6 L53.6 805.4 L54.3 805.5 L55.0 805.8 L55.8 806.0 L56.5 806.0 L57.3 805.4 L58.0 804.4 L58.7 803.2 L59.5 801.9 L60.2 800.7 L61.0 799.5 L61.7 798.6 L62.4 797.8 L63.2 797.2 L63.9 796.8 L64.7 796.8 L65.4 797.2 L66.1 797.9 L66.9 799.0 L67.6 800.3 L68.4 801.8 L69.1 803.2 L69.8 804.7 L70.6 806.0 L71.3 807.3 L72.1 809.2 L72.8 811.1 L73.5 813.0 L74.3 814.5 L75.0 815.7 L75.7 816.6 L76.5 817.5 L77.2 818.4 L78.0 819.4 L78.7 820.2 L79.4 820.8 L80.2 821.2 L80.9 821.2 L81.7 821.0 L82.4 820.7 L83.1 820.4 L83.9 820.1 L84.6 820.0 L85.4 820.0 L86.1 819.8 L86.8 819.4 L87.6 818.5 L88.3 817.2 L89.1 815.4 L89.8 813.2 L90.5 810.7 L91.3 808.2 L92.0 805.8 L92.7 803.8 L93.5 802.1 L94.2 800.8 L95.0 799.9 L95.7 799.3 L96.4 798.8 L97.2 798.6 L97.9 798.4 L98.7 798.2 L99.4 798.0 L100.1 797.7 L100.9 797.2 L101.6 796.6 L102.4 796.1 L103.1 795.6 L103.8 795.3 L104.6 795.1 L105.3 795.1 L106.1 795.3 L106.8 795.9 L107.5 796.6 L108.3 797.7 L109.0 799.0 L109.7 800.6 L110.5 802.4 L111.2 804.3 L112.0 806.1 L112.7 807.7 L113.4 809.1 L114.2 810.1 L114.9 810.9 L115.7 811.5 L116.4 812.1 L117.1 812.7 L117.9 813.4 L118.6 814.1 L119.4 814.9 L120.1 815.6 L120.8 816.2 L121.6 816.6 L122.3 816.8 L123.1 816.8 L123.8 816.6 L124.5 816.2 L125.3 815.8 L126.0 815.5 L126.7 815.2 L127.5 814.9 L128.2 814.8 L129.0 814.7 L129.7 814.7 L130.4 814.8 L131.2 814.7 L131.9 814.6 L132.7 814.2 L133.4 813.7 L134.1 813.1 L134.9 812.5 L135.6 811.9 L136.4 811.4 L137.1 811.0 L137.8 810.7 L138.6 810.5 L139.3 810.4 L140.1 810.4 L140.8 810.5 L141.5 810.7 L142.3 811.1 L143.0 811.6 L143.8 812.2 L144.5 813.0 L145.2 814.0 L146.0 814.9 L146.7 815.7 L147.4 816.4 L148.2 816.8 L148.9 816.9 L149.7 816.8 L150.4 816.5 L151.1 816.1 L151.9 815.6 L152.6 815.3 L153.4 815.2 L154.1 815.3 L154.8 815.4 L155.6 815.5 L156.3 815.5 L157.1 815.4 L157.8 815.2 L158.5 814.8 L159.3 814.3 L160.0 813.8 L160.8 813.2 L161.5 812.5 L162.2 811.9 L163.0 811.2 L163.7 810.6 L164.4 810.0 L165.2 809.4 L165.9 808.9 L166.7 808.4 L167.4 808.0 L168.1 807.7 L168.9 807.6 L169.6 807.7 L170.4 807.8 L171.1 808.1 L171.8 808.4 L172.6 808.8 L173.3 809.2 L174.1 809.7 L174.8 810.1 L175.5 810.6 L176.3 811.1 L177.0 811.6 L177.8 812.0 L178.5 812.5 L179.2 812.9 L180.0 813.1 L180.7 813.1 L181.4 813.0 L182.2 812.7 L182.9 812.3 L183.7 811.8 L184.4 811.3 L185.1 810.8 L185.9 810.3 L186.6 809.8 L187.4 809.4 L188.1 809.1 L188.8 808.9 L189.6 808.9 L190.3 809.1 L191.1 809.5 L191.8 810.1 L192.5 810.8 L193.3 811.5 L194.0 812.1 L194.8 812.6 L195.5 813.0 L196.2 813.2 L197.0 813.2 L197.7 813.1 L198.5 812.9 L199.2 812.7 L199.9 812.6 L200.7 812.8 L201.4 813.2 L202.1 813.7 L202.9 814.2 L203.6 814.6 L204.4 814.9 L205.1 815.1 L205.8 815.1 L206.6 815.0 L207.3 814.8 L208.1 814.4 L208.8 813.7 L209.5 812.9 L210.3 811.7 L211.0 810.3 L211.8 808.7 L212.5 806.9 L213.2 805.0 L214.0 803.1 L214.7 801.2 L215.5 799.3 L216.2 797.4 L216.9 795.4 L217.7 793.3 L218.4 791.4 L219.1 789.8 L219.9 788.8 L220.6 788.2 L221.4 787.9 L222.1 787.7 L222.8 787.6 L223.6 787.4 L224.3 787.4 L225.1 787.5 L225.8 787.9 L226.5 788.4 L227.3 789.1 L228.0 790.0 L228.8 791.0 L229.5 792.2 L230.2 793.5 L231.0 794.8 L231.7 796.2 L232.5 797.7 L233.2 799.2 L233.9 800.7 L234.7 802.2 L235.4 803.8 L236.1 805.4 L236.9 807.0 L237.6 808.5 L238.4 809.8 L239.1 810.8 L239.8 811.6 L240.6 812.1 L241.3 812.4 L242.1 812.5 L242.8 812.6 L243.5 812.5 L244.3 812.3 L245.0 812.1 L245.8 811.8 L246.5 811.5 L247.2 811.0 L248.0 810.4 L248.7 809.7 L249.5 808.9 L250.2 808.1 L250.9 807.2 L251.7 806.3 L252.4 805.3 L253.1 804.5 L253.9 803.6 L254.6 802.8 L255.4 802.0 L256.1 801.3 L256.8 800.7 L257.6 800.2 L258.3 799.9 L259.1 799.8 L259.8 799.7 L260.5 799.8 L261.3 800.0 L262.0 800.3 L262.8 800.7 L263.5 801.2 L264.2 801.9 L265.0 802.8 L265.7 803.9 L266.5 805.2 L267.2 806.6 L267.9 808.2 L268.7 809.7 L269.4 811.2 L270.2 812.7 L270.9 814.1 L271.6 815.4 L272.4 816.3 L273.1 817.1 L273.8 817.6 L274.6 817.9 L275.3 817.9 L276.1 817.7 L276.8 817.3 L277.5 816.7 L278.3 816.0 L279.0 815.2 L279.8 814.6 L280.5 814.3 L281.2 814.5 L282.0 815.1 L282.7 816.1 L283.5 817.3 L284.2 818.5 L284.9 819.9 L285.7 821.2 L286.4 822.4 L287.2 823.7 L287.9 824.8 L288.6 825.9 L289.4 826.9 L290.1 827.8 L290.8 828.7 L291.6 829.4 L292.3 829.9 L293.1 830.0 L293.8 829.9 L294.5 829.5 L295.3 828.8 L296.0 828.0 L296.8 827.0 L297.5 826.0 L298.2 824.9 L299.0 823.9 L299.7 822.8 L300.5 821.9 L301.2 821.0 L301.9 820.0 L302.7 819.1 L303.4 818.0 L304.2 816.9 L304.9 815.7 L305.6 814.5 L306.4 813.3 L307.1 812.4 L307.8 811.7 L308.6 811.2 L309.3 810.9 L310.1 810.6 L310.8 810.3 L311.5 810.0 L312.3 809.7 L313.0 809.5 L313.8 809.2 L314.5 809.0 L315.2 808.8 L316.0 808.7 L316.7 808.6 L317.5 808.5 L318.2 808.4 L318.9 808.2 L319.7 808.0 L320.4 807.7 L321.2 807.4 L321.9 807.2 L322.6 807.0 L323.4 806.9 L324.1 806.9 L324.8 807.1 L325.6 807.5 L326.3 808.0 L327.1 808.8 L327.8 809.6 L328.5 810.2 L329.3 810.8 L330.0 811.1 L330.8 811.2 L331.5 811.2 L332.2 811.1 L333.0 811.0 L333.7 810.8 L334.5 810.7 L335.2 810.5 L335.9 810.4 L336.7 810.3 L337.4 810.2 L338.2 810.2 L338.9 810.2 L339.6 810.2 L340.4 810.3 L341.1 810.0 L341.9 809.6 L342.6 809.1 L343.3 808.5 L344.1 808.1 L344.8 807.7 L345.5 807.4 L346.3 807.2 L347.0 807.0 L347.8 806.8 L348.5 806.8 L349.2 807.0 L350.0 807.4 L350.7 807.9 L351.5 808.7 L352.2 809.6 L352.9 810.5 L353.7 811.2 L354.4 811.8 L355.2 812.2 L355.9 812.4 L356.6 812.5 L357.4 812.4 L358.1 812.3 L358.9 812.5 L359.6 812.9 L360.3 813.7 L361.1 814.6 L361.8 815.5 L362.5 816.4 L363.3 817.2 L364.0 817.8 L364.8 818.2 L365.5 818.1 L366.2 817.7 L367.0 817.2 L367.7 816.7 L368.5 816.2 L369.2 815.8 L369.9 815.5 L370.7 815.2 L371.4 814.9 L372.2 814.8 L372.9 814.8 L373.6 815.0 L374.4 815.5 L375.1 816.2 L375.9 817.1 L376.6 818.3 L377.3 819.5 L378.1 820.8 L378.8 822.0 L379.5 822.9 L380.3 823.5 L381.0 823.8 L381.8 824.0 L382.5 824.0 L383.2 824.0 L384.0 824.0 L384.7 823.9 L385.5 823.9 L386.2 823.8 L386.9 823.5 L387.7 822.9 L388.4 822.0 L389.2 821.0 L389.9 819.7 L390.6 818.5 L391.4 817.3 L392.1 816.1 L392.9 815.0 L393.6 814.0 L394.3 813.1 L395.1 812.3 L395.8 811.8 L396.6 811.3 L397.3 811.1 L398.0 810.9 L398.8 810.7 L399.5 810.5 L400.2 810.2 L401.0 809.8 L401.7 809.6 L402.5 809.4 L403.2 809.4 L403.9 809.6 L404.7 810.2 L405.4 811.3 L406.2 812.8 L406.9 814.3 L407.6 815.8 L408.4 816.9 L409.1 817.9 L409.9 818.7 L410.6 819.2 L411.3 819.6 L412.1 819.8 L412.8 819.9 L413.6 820.0 L414.3 820.0 L415.0 820.0 L415.8 820.1 L416.5 820.1 L417.2 820.1 L418.0 820.0 L418.7 819.9 L419.5 819.6 L420.2 819.1 L420.9 818.4 L421.7 817.7 L422.4 816.9 L423.2 816.2 L423.9 815.5 L424.6 814.9 L425.4 814.3 L426.1 813.8 L426.9 813.3 L427.6 812.8 L428.3 812.4 L429.1 812.1 L429.8 812.1 L430.6 812.1 L431.3 812.1 L432.0 812.1 L432.8 812.2 L433.5 812.2 L434.2 812.2 L435.0 812.2 L435.7 812.4 L436.5 812.5 L437.2 812.8 L437.9 813.0 L438.7 813.2 L439.4 813.4 L440.2 813.5 L440.9 813.5 L441.6 813.4 L442.4 813.2 L443.1 813.0 L443.9 812.6 L444.6 812.1 L445.3 811.6 L446.1 810.8 L446.8 809.5 L447.6 807.8 L448.3 805.7 L449.0 803.4 L449.8 801.0 L450.5 798.7 L451.2 796.6 L452.0 794.8 L452.7 793.2 L453.5 792.0 L454.2 791.2 L454.9 790.6 L455.7 790.2 L456.4 790.0 L457.2 790.0 L457.9 790.1 L458.6 790.3 L459.4 790.7 L460.1 791.3 L460.9 791.0 L461.6 790.1 L462.3 789.2 L463.1 788.3 L463.8 787.6 L464.6 787.2 L465.3 787.2 L466.0 787.5 L466.8 787.8 L467.5 788.1 L468.3 788.3 L469.0 788.4 L469.7 788.5 L470.5 788.8 L471.2 789.2 L471.9 789.9 L472.7 790.6 L473.4 791.2 L474.2 791.8 L474.9 792.4 L475.6 793.0 L476.4 793.8 L477.1 794.6 L477.9 795.5 L478.6 796.6 L479.3 797.7 L480.1 798.8 L480.8 800.0 L481.6 801.3 L482.3 802.6 L483.0 803.8 L483.8 804.9 L484.5 805.9 L485.3 806.9 L486.0 807.9 L486.7 808.8 L487.5 809.7 L488.2 810.8 L488.9 811.9 L489.7 812.9 L490.4 813.9 L491.2 815.0 L491.9 816.7 L492.6 818.8 L493.4 821.0 L494.1 823.1 L494.9 825.1 L495.6 826.7 L496.3 828.1 L497.1 829.2 L497.8 830.5 L498.6 832.0 L499.3 833.8 L500.0 835.9 L500.8 838.2 L501.5 840.4 L502.3 842.3 L503.0 843.6 L503.7 844.4 L504.5 844.7 L505.2 844.6 L505.9 844.1 L506.7 843.4 L507.4 842.5 L508.2 841.5 L508.9 840.5 L509.6 839.5 L510.4 838.6 L511.1 837.8 L511.9 836.8 L512.6 835.7 L513.3 834.4 L514.1 832.8 L514.8 831.1 L515.6 829.3 L516.3 827.4 L517.0 825.3 L517.8 823.1 L518.5 820.8 L519.3 818.5 L520.0 816.3 L520.7 814.2 L521.5 812.4 L522.2 811.1 L523.0 810.3 L523.7 809.7 L524.4 809.3 L525.2 809.0 L525.9 808.8 L526.6 808.7 L527.4 808.7 L528.1 808.8 L528.9 808.8 L529.6 808.6 L530.3 808.3 L531.1 807.9 L531.8 807.2 L532.6 806.5 L533.3 805.6 L534.0 804.7 L534.8 803.5 L535.5 802.2 L536.3 797.7 L537.0 790.9 L537.7 782.5 L538.5 773.9 L539.2 766.2 L540.0 759.5 L540.7 753.3 L541.4 747.1 L542.2 740.5 L542.9 734.9 L543.6 730.6 L544.4 727.4 L545.1 725.3 L545.9 724.1 L546.6 723.8 L547.3 724.4 L548.1 725.8 L548.8 728.1 L549.6 731.0 L550.3 734.3 L551.0 737.9 L551.8 743.1 L552.5 748.5 L553.3 753.9 L554.0 759.6 L554.7 765.6 L555.5 771.8 L556.2 777.8 L557.0 783.5 L557.7 788.8 L558.4 793.3 L559.2 797.2 L559.9 800.4 L560.6 803.2 L561.4 805.6 L562.1 807.7 L562.9 809.4 L563.6 810.7 L564.3 811.7 L565.1 812.1 L565.8 812.2 L566.6 811.8 L567.3 811.0 L568.0 809.8 L568.8 808.3 L569.5 806.3 L570.3 803.9 L571.0 801.2 L571.7 798.3 L572.5 795.4 L573.2 792.8 L574.0 790.7 L574.7 789.1 L575.4 788.0 L576.2 787.5 L576.9 787.0 L577.6 786.6 L578.4 785.9 L579.1 785.2 L579.9 784.8 L580.6 784.9 L581.3 785.5 L582.1 786.5 L582.8 787.4 L583.6 787.9 L584.3 787.9 L585.0 787.6 L585.8 787.5 L586.5 787.7 L587.3 788.6 L588.0 789.8 L588.7 790.9 L589.5 791.8 L590.2 792.5 L591.0 793.0 L591.7 793.3 L592.4 793.6 L593.2 794.0 L593.9 794.6 L594.7 795.7 L595.4 797.1 L596.1 798.6 L596.9 800.0 L597.6 801.3 L598.3 801.4 L599.1 798.6 L599.8 794.4 L600.6 789.8 L601.3 785.2 L602.0 780.9 L602.8 777.0 L603.5 773.7 L604.3 771.0 L605.0 769.2 L605.7 768.3 L606.5 768.2 L607.2 768.6 L608.0 769.3 L608.7 770.2 L609.4 771.2 L610.2 772.2 L610.9 773.3 L611.7 774.3 L612.4 775.4 L613.1 776.2 L613.9 776.7 L614.6 776.7 L615.3 776.2 L616.1 775.6 L616.8 775.4 L617.6 775.8 L618.3 776.6 L619.0 777.7 L619.8 778.8 L620.5 780.0 L621.3 781.6 L622.0 783.4 L622.7 785.7 L623.5 788.1 L624.2 790.9 L625.0 793.7 L625.7 796.6 L626.4 799.1 L627.2 801.3 L627.9 803.0 L628.7 804.2 L629.4 804.9 L630.1 805.1 L630.9 805.1 L631.6 805.4 L632.3 805.9 L633.1 806.6 L633.8 807.2 L634.6 807.7 L635.3 808.1 L636.0 808.7 L636.8 809.3 L637.5 810.2 L638.3 811.1 L639.0 812.0 L639.7 812.7 L640.5 813.4 L641.2 814.0 L642.0 814.8 L642.7 815.8 L643.4 817.0 L644.2 818.2 L644.9 819.3 L645.7 820.4 L646.4 821.3 L647.1 822.0 L647.9 822.4 L648.6 822.7 L649.3 823.0 L650.1 823.3 L650.8 823.6 L651.6 823.8 L652.3 823.8 L653.0 823.6 L653.8 823.2 L654.5 822.9 L655.3 822.6 L656.0 822.3 L656.7 822.3 L657.5 822.4 L658.2 822.7 L659.0 823.4 L659.7 824.5 L660.4 825.7 L661.2 826.9 L661.9 827.9 L662.7 828.8 L663.4 829.2 L664.1 829.0 L664.9 828.4 L665.6 827.4 L666.4 826.1 L667.1 824.5 L667.8 822.7 L668.6 820.7 L669.3 818.7 L670.0 816.8 L670.8 815.2 L671.5 813.8 L672.3 812.6 L673.0 811.5 L673.7 810.5 L674.5 809.6 L675.2 808.5 L676.0 807.0 L676.7 805.0 L677.4 802.7 L678.2 800.1 L678.9 797.7 L679.7 795.5 L680.4 793.8 L681.1 792.4 L681.9 791.6 L682.6 791.1 L683.4 790.7 L684.1 790.0 L684.8 789.1 L685.6 788.0 L686.3 786.6 L687.0 785.5 L687.8 784.8 L688.5 784.6 L689.3 784.8 L690.0 785.4 L690.7 786.6 L691.5 788.4 L692.2 790.7 L693.0 793.3 L693.7 796.0 L694.4 798.8 L695.2 801.6 L695.9 804.3 L696.7 806.8 L697.4 809.0 L698.1 810.8 L698.9 812.4 L699.6 813.6 L700.4 814.3 L701.1 814.3 L701.8 813.9 L702.6 813.5 L703.3 813.3 L704.0 813.2 L704.8 813.3 L705.5 813.6 L706.3 813.8 L707.0 814.0 L707.7 814.1 L708.5 813.8 L709.2 813.1 L710.0 812.0 L710.7 810.6 L711.4 809.3 L712.2 808.3 L712.9 807.5 L713.7 807.1 L714.4 807.2 L715.1 807.8 L715.9 808.3 L716.6 808.4 L717.4 808.4 L718.1 808.4 L718.8 808.4 L719.6 808.3 L720.3 808.0 L721.1 807.5 L721.8 807.1 L722.5 806.8 L723.3 806.7 L724.0 806.9 L724.7 807.3 L725.5 807.8 L726.2 808.2 L727.0 808.5 L727.7 808.7 L728.4 808.9 L729.2 809.1 L729.9 809.2 L730.7 808.8 L731.4 808.0 L732.1 807.0 L732.9 806.1 L733.6 805.2 L734.4 804.6 L735.1 804.1 L735.8 803.9 L736.6 803.8 L737.3 803.9 L738.1 804.2 L738.8 804.4 L739.5 804.4 L740.3 804.1 L741.0 803.1 L741.7 801.5 L742.5 799.5 L743.2 797.4 L744.0 795.6 L744.7 794.3 L745.4 793.6 L746.2 793.3 L746.9 793.4 L747.7 793.5 L748.4 793.5 L749.1 793.3 L749.9 793.0 L750.6 793.0 L751.4 793.2 L752.1 793.6 L752.8 794.1 L753.6 794.5 L754.3 794.8 L755.1 795.1 L755.8 795.7 L756.5 796.7 L757.3 798.1 L758.0 799.7 L758.7 801.5 L759.5 803.2 L760.2 804.8 L761.0 806.6 L761.7 808.6 L762.4 810.9 L763.2 813.3 L763.9 815.8 L764.7 818.2 L765.4 820.2 L766.1 821.9 L766.9 823.2 L767.6 824.2 L768.4 825.1 L769.1 825.6 L769.8 825.8 L770.6 825.7 L771.3 825.2 L772.1 824.4 L772.8 823.5 L773.5 822.6 L774.3 821.7 L775.0 820.9 L775.7 820.1 L776.5 819.5 L777.2 819.0 L778.0 818.9 L778.7 819.3 L779.4 819.9 L780.2 820.7 L780.9 821.5 L781.7 822.4 L782.4 823.5 L783.1 825.0 L783.9 827.1 L784.6 829.3 L785.4 831.4 L786.1 833.1 L786.8 834.4 L787.6 835.2 L788.3 835.5 L789.1 835.5 L789.8 835.6 L790.5 835.6 L791.3 835.4 L792.0 835.0 L792.8 834.2 L793.5 833.2 L794.2 831.9 L795.0 830.4 L795.7 828.8 L796.4 827.2 L797.2 825.6 L797.9 824.1 L798.7 822.7 L799.4 821.6 L800.1 820.6 L800.9 819.9 L801.6 819.3 L802.4 818.9 L803.1 818.6 L803.8 818.2 L804.6 817.7 L805.3 817.1 L806.1 816.3 L806.8 815.6 L807.5 814.8 L808.3 814.2 L809.0 813.8 L809.8 813.4 L810.5 813.3 L811.2 812.9 L812.0 812.0 L812.7 810.9 L813.4 809.7 L814.2 808.4 L814.9 807.1 L815.7 806.1 L816.4 805.2 L817.1 804.6 L817.9 804.3 L818.6 804.1 L819.4 804.1 L820.1 803.2 L820.8 801.7 L821.6 800.0 L822.3 798.3 L823.1 796.7 L823.8 795.4 L824.5 794.1 L825.3 792.9 L826.0 791.9 L826.8 791.0 L827.5 790.3 L828.2 790.0 L829.0 790.0 L829.7 790.5 L830.4 791.5 L831.2 792.9 L831.9 794.8 L832.7 797.2 L833.4 799.9 L834.1 802.7 L834.9 805.2 L835.6 807.3 L836.4 809.1 L837.1 810.5 L837.8 811.5 L838.6 812.2 L839.3 812.6 L840.1 812.6 L840.8 812.6 L841.5 812.6 L842.3 812.6 L843.0 812.6 L843.8 812.8 L844.5 813.0 L845.2 813.3 L846.0 813.5 L846.7 813.7 L847.5 813.7 L848.2 813.5 L848.9 813.0 L849.7 812.5 L850.4 812.2 L851.1 812.0 L851.9 812.0 L852.6 812.1 L853.4 812.5 L854.1 813.2 L854.8 813.8 L855.6 814.3 L856.3 814.5 L857.1 814.5 L857.8 814.2 L858.5 813.7 L859.3 813.0 L860.0 812.3 L860.8 811.6 L861.5 811.0 L862.2 810.8 L863.0 810.7 L863.7 810.8 L864.5 811.0 L865.2 811.2 L865.9 811.4 L866.7 811.6 L867.4 811.6 L868.1 811.5 L868.9 811.4 L869.6 811.2 L870.4 811.2 L871.1 811.4 L871.8 811.6 L872.6 812.0 L873.3 812.5 L874.1 813.0 L874.8 813.5 L875.5 814.0 L876.3 814.5 L877.0 814.9 L877.8 815.2 L878.5 815.4 L879.2 815.5 L880.0 815.5 L880.7 815.6 L881.5 815.6 L882.2 816.0 L882.9 816.7 L883.7 817.8 L884.4 819.1 L885.1 820.5 L885.9 822.1 L886.6 823.6 L887.4 824.9 L888.1 825.8 L888.8 826.3 L889.6 826.5 L890.3 826.6 L891.1 826.5 L891.8 826.4 L892.5 826.3 L893.3 826.1 L894.0 825.9 L894.8 825.6 L895.5 825.2 L896.2 824.8 L897.0 824.2 L897.7 823.8 L898.5 823.8 L899.2 824.0 L899.9 824.4 L900.7 824.7 L901.4 825.0 L902.1 825.0 L902.9 824.6 L903.6 824.0 L904.4 823.2 L905.1 822.4 L905.8 821.6 L906.6 821.1 L907.3 821.1 L908.1 822.0 L908.8 823.5 L909.5 825.3 L910.3 827.0 L911.0 828.6 L911.8 829.9 L912.5 830.9 L913.2 831.5 L914.0 831.9 L914.7 832.3 L915.5 832.6 L916.2 832.6 L916.9 832.4 L917.7 832.0 L918.4 831.5 L919.2 830.9 L919.9 830.2 L920.6 829.4 L921.4 828.4 L922.1 827.3 L922.8 826.2 L923.6 825.3 L924.3 824.5 L925.1 823.7 L925.8 823.0 L926.5 822.2 L927.3 821.5 L928.0 820.9 L928.8 820.3 L929.5 819.7 L930.2 819.3 L931.0 818.8 L931.7 818.3 L932.5 817.8 L933.2 817.1 L933.9 816.5 L934.7 815.9 L935.4 815.5 L936.2 815.3 L936.9 815.4 L937.6 815.6 L938.4 816.0 L939.1 816.0 L939.8 815.6 L940.6 814.9 L941.3 813.9 L942.1 812.8 L942.8 811.6 L943.5 810.6 L944.3 809.7 L945.0 808.8 L945.8 808.0 L946.5 807.3 L947.2 806.6 L948.0 806.0 L948.7 805.5 L949.5 805.3 L950.2 805.3 L950.9 805.6 L951.7 806.2 L952.4 807.1 L953.2 808.1 L953.9 809.2 L954.6 810.2 L955.4 811.1 L956.1 812.0 L956.8 812.7 L957.6 813.4 L958.3 814.0 L959.1 814.6 L959.8 815.1 L960.5 815.7 L961.3 816.4 L962.0 817.4 L962.8 818.9 L963.5 820.9 L964.2 823.6 L965.0 826.6 L965.7 829.4 L966.5 832.0 L967.2 834.4 L967.9 836.6 L968.7 838.5 L969.4 840.1 L970.2 841.4 L970.9 842.4 L971.6 843.2 L972.4 843.7 L973.1 844.0 L973.8 844.2 L974.6 844.2 L975.3 844.1 L976.1 844.1 L976.8 844.2 L977.5 844.5 L978.3 845.0 L979.0 845.3 L979.8 845.4 L980.5 845.3 L981.2 844.8 L982.0 844.1 L982.7 843.0 L983.5 841.6 L984.2 839.9 L984.9 837.9 L985.7 835.8 L986.4 833.7 L987.2 831.6 L987.9 829.6 L988.6 827.8 L989.4 826.2 L990.1 824.8 L990.9 823.7 L991.6 822.8 L992.3 822.2 L993.1 821.8 L993.8 821.6 L994.5 821.5 L995.3 821.4 L996.0 821.3 L996.8 820.6 L997.5 819.3 L998.2 817.8 L999.0 816.1 L999.7 814.6 L1000.5 813.4 L1001.2 812.6 L1001.9 812.1 L1002.7 811.7 L1003.4 811.3 L1004.2 810.7 L1004.9 809.9 L1005.6 809.1 L1006.4 808.3 L1007.1 807.7 L1007.9 807.3 L1008.6 807.2 L1009.3 807.3 L1010.1 807.8 L1010.8 808.7 L1011.5 810.1 L1012.3 811.7 L1013.0 813.9 L1013.8 817.0 L1014.5 820.8 L1015.2 824.9 L1016.0 829.2 L1016.7 833.2 L1017.5 836.7 L1018.2 839.5 L1018.9 841.6 L1019.7 843.0 L1020.4 843.6 L1021.2 843.6 L1021.9 842.8 L1022.6 841.9 L1023.4 840.9 L1024.1 840.1 L1024.9 839.2 L1025.6 838.7 L1026.3 838.8 L1027.1 838.9 L1027.8 838.9 L1028.5 839.2 L1029.3 840.5 L1030.0 842.6 L1030.8 845.4 L1031.5 848.6 L1032.2 851.7 L1033.0 854.2 L1033.7 855.9 L1034.5 856.9 L1035.2 857.1 L1035.9 856.6 L1036.7 855.4 L1037.4 853.8 L1038.2 852.1 L1038.9 850.5 L1039.6 849.0 L1040.4 847.7 L1041.1 846.4 L1041.9 844.8 L1042.6 843.1 L1043.3 841.4 L1044.1 839.9 L1044.8 838.5 L1045.6 837.2 L1046.3 836.1 L1047.0 835.1 L1047.8 834.2 L1048.5 833.2 L1049.2 831.5 L1050.0 829.3 L1050.7 826.6 L1051.5 823.7 L1052.2 820.7 L1052.9 817.8 L1053.7 815.1 L1054.4 812.6 L1055.2 810.5 L1055.9 808.6 L1056.6 807.2 L1057.4 806.3 L1058.1 805.9 L1058.9 805.9 L1059.6 806.4 L1060.3 807.2 L1061.1 807.9 L1061.8 808.6 L1062.6 809.0 L1063.3 809.3 L1064.0 809.3 L1064.8 809.3 L1065.5 809.5 L1066.2 810.1 L1067.0 811.1 L1067.7 812.5 L1068.5 814.1 L1069.2 815.6 L1069.9 816.7 L1070.7 817.6 L1071.4 818.3 L1072.2 818.9 L1072.9 819.5 L1073.6 820.2 L1074.4 820.9 L1075.1 822.0 L1075.9 823.5 L1076.6 825.3 L1077.3 827.6 L1078.1 829.8 L1078.8 831.7 L1079.6 833.2 L1080.3 834.0 L1081.0 833.7 L1081.8 832.0 L1082.5 829.6 L1083.2 826.5 L1084.0 823.2 L1084.7 819.7 L1085.5 816.1 L1086.2 812.6 L1086.9 809.3 L1087.7 806.5 L1088.4 804.2 L1089.2 802.6 L1089.9 801.5 L1090.6 800.9 L1091.4 800.8 L1092.1 801.0 L1092.9 801.4 L1093.6 801.6 L1094.3 801.6 L1095.1 801.4 L1095.8 801.0 L1096.6 800.8 L1097.3 800.7 L1098.0 800.7 L1098.8 801.0 L1099.5 801.5 L1100.2 802.2 L1101.0 803.0 L1101.7 803.9 L1102.5 804.9 L1103.2 805.7 L1103.9 806.3 L1104.7 806.8 L1105.4 807.0 L1106.2 807.2 L1106.9 807.2 L1107.6 807.0 L1108.4 806.8 L1109.1 806.5 L1109.9 806.3 L1110.6 806.1 L1111.3 806.2 L1112.1 806.3 L1112.8 806.7 L1113.6 807.1 L1114.3 807.7 L1115.0 808.4 L1115.8 809.3 L1116.5 810.5 L1117.3 811.9 L1118.0 812.8 L1118.7 813.0 L1119.5 812.7 L1120.2 812.1 L1120.9 811.1 L1121.7 809.4 L1122.4 807.2 L1123.2 804.8 L1123.9 802.3 L1124.6 799.8 L1125.4 797.6 L1126.1 795.8 L1126.9 794.4 L1127.6 793.2 L1128.3 792.3 L1129.1 791.6 L1129.8 791.4 L1130.6 791.5 L1131.3 791.9 L1132.0 792.6 L1132.8 793.2 L1133.5 793.9 L1134.3 794.6 L1135.0 795.3 L1135.7 796.1 L1136.5 797.1 L1137.2 798.2 L1137.9 799.1 L1138.7 799.8 L1139.4 800.2 L1140.2 800.5 L1140.9 800.7 L1141.6 800.9 L1142.4 801.2 L1143.1 801.7 L1143.9 802.5 L1144.6 803.4 L1145.3 804.3 L1146.1 805.2 L1146.8 805.9 L1147.6 806.5 L1148.3 806.8 L1149.0 807.1 L1149.8 807.3 L1150.5 807.3 L1151.3 807.1 L1152.0 806.7 L1152.7 806.0 L1153.5 805.1 L1154.2 804.2 L1154.9 803.2 L1155.7 802.2 L1156.4 801.3 L1157.2 800.5 L1157.9 799.9 L1158.6 799.4 L1159.4 799.2 L1160.1 799.3 L1160.9 799.6 L1161.6 800.0 L1162.3 800.5 L1163.1 801.1 L1163.8 801.6 L1164.6 802.1 L1165.3 802.5 L1166.0 803.0 L1166.8 803.4 L1167.5 803.9 L1168.3 804.4 L1169.0 804.9 L1169.7 805.5 L1170.5 806.2 L1171.2 807.0 L1172.0 807.9 L1172.7 808.9 L1173.4 810.1 L1174.2 811.4 L1174.9 812.8 L1175.6 814.3 L1176.4 815.7 L1177.1 817.2 L1177.9 818.5 L1178.6 819.5 L1179.3 820.3 L1180.1 820.9 L1180.8 821.2 L1181.6 821.4 L1182.3 821.8 L1183.0 822.4 L1183.8 823.2 L1184.5 824.1 L1185.3 825.0 L1186.0 825.8 L1186.7 826.4 L1187.5 826.8 L1188.2 827.0 L1189.0 827.0 L1189.7 826.7 L1190.4 826.0 L1191.2 825.0 L1191.9 823.9 L1192.6 823.0 L1193.4 822.2 L1194.1 821.5 L1194.9 820.9 L1195.6 820.2 L1196.3 819.5 L1197.1 818.8 L1197.8 818.1 L1198.6 817.3 L1199.3 816.5 L1200.0 815.7 L1200.8 814.9 L1201.5 814.2 L1202.3 813.7 L1203.0 813.5 L1203.7 813.6 L1204.5 813.9 L1205.2 814.4 L1206.0 814.8 L1206.7 815.2 L1207.4 815.3 L1208.2 815.2 L1208.9 815.0 L1209.6 814.7 L1210.4 814.3 L1211.1 813.9 L1211.9 813.7 L1212.6 813.7 L1213.3 813.7 L1214.1 813.7 L1214.8 813.6 L1215.6 813.4 L1216.3 813.0 L1217.0 812.5 L1217.8 812.0 L1218.5 811.4 L1219.3 811.0 L1220.0 810.7 L1220.7 810.4 L1221.5 810.2 L1222.2 810.1 L1223.0 810.0 L1223.7 810.1 L1224.4 810.3 L1225.2 810.7 L1225.9 811.0 L1226.6 811.3 L1227.4 811.5 L1228.1 811.6 L1228.9 811.6 L1229.6 811.5 L1230.3 811.3 L1231.1 811.2 L1231.8 811.2 L1232.6 811.4 L1233.3 811.7 L1234.0 812.1 L1234.8 813.2 L1235.5 814.8 L1236.3 816.6 L1237.0 818.2 L1237.7 819.8 L1238.5 821.2 L1239.2 822.5 L1240.0 823.6 L1240.7 824.5 L1241.4 824.9 L1242.2 824.9 L1242.9 824.5 L1243.7 823.3 L1244.4 821.4 L1245.1 819.2 L1245.9 816.9 L1246.6 814.7 L1247.3 812.7 L1248.1 810.9 L1248.8 809.3 L1249.6 808.6 L1250.3 808.5 L1251.0 808.9 L1251.8 809.6 L1252.5 810.4 L1253.3 811.3 L1254.0 812.3 L1254.7 813.1 L1255.5 813.7 L1256.2 814.0 L1257.0 814.0 L1257.7 813.8 L1258.4 813.5 L1259.2 813.0 L1259.9 812.2 L1260.7 811.2 L1261.4 810.4 L1262.1 809.6 L1262.9 809.2 L1263.6 809.1 L1264.3 809.0 L1265.1 809.0 L1265.8 808.9 L1266.6 808.7 L1267.3 808.6 L1268.0 808.5 L1268.8 808.5 L1269.5 808.4 L1270.3 808.3 L1271.0 808.2 L1271.7 808.1 L1272.5 807.9 L1273.2 807.7 L1274.0 807.5 L1274.7 807.3 L1275.4 807.2 L1276.2 807.2 L1276.9 807.3 L1277.7 807.4 L1278.4 807.8 L1279.1 808.2 L1279.9 808.7 L1280.6 809.2 L1281.3 809.5 L1282.1 809.8 L1282.8 809.9 L1283.6 809.9 L1284.3 809.9 L1285.0 809.8 L1285.8 809.8 L1286.5 809.8 L1287.3 809.7 L1288.0 809.6 L1288.7 809.3 L1289.5 809.0 L1290.2 808.5 L1291.0 807.9 L1291.7 807.3 L1292.4 806.6 L1293.2 806.1 L1293.9 805.8 L1294.7 805.6 L1295.4 805.6 L1296.1 805.6 L1296.9 805.7 L1297.6 805.9 L1298.3 806.1 L1299.1 806.3 L1299.8 806.6 L1300.6 807.0 L1301.3 807.5 L1302.0 807.9 L1302.8 808.5 L1303.5 809.0 L1304.3 809.5 L1305.0 810.0 L1305.7 810.7 L1306.5 811.5 L1307.2 812.3 L1308.0 813.0 L1308.7 813.6 L1309.4 814.1 L1310.2 814.5 L1310.9 814.7 L1311.7 814.7 L1312.4 814.5 L1313.1 814.2 L1313.9 813.9 L1314.6 813.4 L1315.4 813.0 L1316.1 812.4 L1316.8 811.7 L1317.6 810.9 L1318.3 810.1 L1319.0 809.4 L1319.8 808.8 L1320.5 808.4 L1321.3 808.0 L1322.0 807.6 L1322.7 807.4 L1323.5 807.2 L1324.2 807.2 L1325.0 807.2 L1325.7 807.3 L1326.4 807.5 L1327.2 807.7 L1327.9 808.0 L1328.7 808.3 L1329.4 808.6 L1330.1 808.9 L1330.9 809.2 L1331.6 809.4 L1332.4 809.6 L1333.1 809.6 L1333.8 809.6 L1334.6 810.0 L1335.3 810.8 L1336.0 811.9 L1336.8 813.1 L1337.5 814.3 L1338.3 815.5 L1339.0 816.5 L1339.7 817.4 L1340.5 818.0 L1341.2 818.4 L1342.0 818.7 L1342.7 818.9 L1343.4 819.0 L1344.2 819.1 L1344.9 819.1 L1345.7 819.0 L1346.4 819.0 L1347.1 819.0 L1347.9 818.9 L1348.6 818.7 L1349.4 818.4 L1350.1 818.1 L1350.8 817.8 L1351.6 817.7 L1352.3 817.8 L1353.0 818.0 L1353.8 818.3 L1354.5 818.6 L1355.3 818.8 L1356.0 818.8 L1356.7 818.6 L1357.5 818.3 L1358.2 817.9 L1359.0 817.3 L1359.7 816.7 L1360.4 816.0 L1361.2 815.5 L1361.9 815.1 L1362.7 814.8 L1363.4 814.6 L1364.1 814.4 L1364.9 814.2 L1365.6 813.9 L1366.4 813.5 L1367.1 813.1 L1367.8 812.7 L1368.6 812.4 L1369.3 812.2 L1370.1 812.3 L1370.8 812.4 L1371.5 812.6 L1372.3 812.7 L1373.0 812.7 L1373.7 812.6 L1374.5 812.5 L1375.2 812.4 L1376.0 812.3 L1376.7 812.3 L1377.4 812.4 L1378.2 812.6 L1378.9 812.8 L1379.7 813.1 L1380.4 813.3 L1381.1 813.5 L1381.9 813.7 L1382.6 813.8 L1383.4 813.7 L1384.1 813.4 L1384.8 813.1 L1385.6 812.6 L1386.3 812.3 L1387.1 812.0 L1387.8 811.9 L1388.5 811.7 L1389.3 811.5 L1390.0 811.2 L1390.7 810.8 L1391.5 810.5 L1392.2 810.2 L1393.0 810.0 L1393.7 809.8 L1394.4 809.7 L1395.2 809.7 L1395.9 809.6 L1396.7 809.4 L1397.4 809.3 L1398.1 809.1 L1398.9 808.9 L1399.6 808.7 L1400.4 808.5 L1401.1 808.3 L1401.8 808.0 L1402.6 807.8 L1403.3 807.5 L1404.1 807.3 L1404.8 806.8 L1405.5 806.1 L1406.3 805.3 L1407.0 804.4 L1407.7 803.6 L1408.5 802.8 L1409.2 802.2 L1410.0 801.8 L1410.7 801.5 L1411.4 801.4 L1412.2 801.3 L1412.9 801.2 L1413.7 801.2 L1414.4 801.2 L1415.1 801.4 L1415.9 801.6 L1416.6 801.9 L1417.4 802.4 L1418.1 803.1 L1418.8 803.9 L1419.6 804.9 L1420.3 805.8 L1421.1 806.8 L1421.8 807.8 L1422.5 808.9 L1423.3 809.9 L1424.0 811.1 L1424.7 812.1 L1425.5 813.1 L1426.2 814.0 L1427.0 814.8 L1427.7 815.4 L1428.4 815.8 L1429.2 816.1 L1429.9 816.5 L1430.7 816.8 L1431.4 817.0 L1432.1 817.2 L1432.9 817.3 L1433.6 817.4 L1434.4 817.3 L1435.1 816.9 L1435.8 816.3 L1436.6 815.6 L1437.3 815.0 L1438.1 814.4 L1438.8 814.0 L1439.5 813.7 L1440.3 813.4 L1441.0 813.1 L1441.8 812.8 L1442.5 812.6 L1443.2 812.4 L1444.0 812.3 L1444.7 812.3 L1445.4 812.2 L1446.2 812.1 L1446.9 812.0 L1447.7 811.9 L1448.4 811.9 L1449.1 812.0 L1449.9 812.1 L1450.6 812.3 L1451.4 812.7 L1452.1 813.0 L1452.8 813.4 L1453.6 813.8 L1454.3 814.0 L1455.1 814.2 L1455.8 814.2 L1456.5 814.0 L1457.3 813.7 L1458.0 813.4 L1458.8 813.1 L1459.5 812.8 L1460.2 813.2 L1461.0 814.5 L1461.7 816.3 L1462.4 818.5 L1463.2 820.7 L1463.9 822.7 L1464.7 824.4 L1465.4 825.7 L1466.1 826.9 L1466.9 827.8 L1467.6 828.5 L1468.4 829.0 L1469.1 829.4 L1469.8 829.7 L1470.6 829.9 L1471.3 830.1 L1472.1 830.0 L1472.8 829.8 L1473.5 829.3 L1474.3 829.0 L1475.0 828.8 L1475.8 829.0 L1476.5 829.5 L1477.2 830.3 L1478.0 831.3 L1478.7 832.6 L1479.4 834.5 L1480.2 837.1 L1480.9 839.9 L1481.7 842.5 L1482.4 844.6 L1483.1 845.8 L1483.9 846.4 L1484.6 846.5 L1485.4 846.2 L1486.1 845.8 L1486.8 845.4 L1487.6 845.0 L1488.3 844.8 L1489.1 844.4 L1489.8 843.9 L1490.5 843.2 L1491.3 842.8 L1492.0 842.1 L1492.8 840.9 L1493.5 839.3 L1494.2 837.1 L1495.0 834.7 L1495.7 832.4 L1496.5 830.0 L1497.2 827.4 L1497.9 824.6 L1498.7 821.4 L1499.4 817.9 L1500.1 814.5 L1500.9 811.4 L1501.6 808.8 L1502.4 806.7 L1503.1 805.1 L1503.8 804.0 L1504.6 803.3 L1505.3 803.1 L1506.1 803.3 L1506.8 803.7 L1507.5 804.0 L1508.3 804.3 L1509.0 804.5 L1509.8 804.7 L1510.5 804.9 L1511.2 805.0 L1512.0 805.2 L1512.7 805.3 L1513.5 805.3 L1514.2 805.2 L1514.9 805.0 L1515.7 804.8 L1516.4 804.7 L1517.1 804.8 L1517.9 805.1 L1518.6 805.5 L1519.4 806.2 L1520.1 806.9 L1520.8 807.7 L1521.6 808.5 L1522.3 809.3 L1523.1 809.8 L1523.8 810.1 L1524.5 809.9 L1525.3 809.6 L1526.0 809.1 L1526.8 808.6 L1527.5 808.2 L1528.2 807.6 L1529.0 807.0 L1529.7 806.4 L1530.5 806.1 L1531.2 806.1 L1531.9 806.2 L1532.7 806.3 L1533.4 806.5 L1534.1 806.6 L1534.9 806.8 L1535.6 807.0 L1536.4 807.4 L1537.1 807.8 L1537.8 808.1 L1538.6 808.5 L1539.3 808.7 L1540.1 808.9 L1540.8 809.0 L1541.5 809.1 L1542.3 809.3 L1543.0 809.5 L1543.8 809.7 L1544.5 809.8 L1545.2 809.8 L1546.0 809.8 L1546.7 809.9 L1547.5 810.0 L1548.2 810.1 L1548.9 810.3 L1549.7 810.4 L1550.4 810.5 L1551.1 810.6 L1551.9 810.7 L1552.6 810.8 L1553.4 810.8 L1554.1 810.9 L1554.8 811.0 L1555.6 811.1 L1556.3 811.1 L1557.1 811.1 L1557.8 811.0 L1558.5 810.7 L1559.3 810.2 L1560.0 809.7 L1560.8 809.3 L1561.5 809.1 L1562.2 809.0 L1563.0 809.0 L1563.7 809.0 L1564.5 808.9 L1565.2 808.7 L1565.9 808.3 L1566.7 807.5 L1567.4 806.4 L1568.2 804.9 L1568.9 803.1 L1569.6 801.2 L1570.4 799.4 L1571.1 797.7 L1571.8 796.3 L1572.6 795.2 L1573.3 794.3 L1574.1 793.7 L1574.8 793.4 L1575.5 793.5 L1576.3 793.8 L1577.0 794.4 L1577.8 795.1 L1578.5 795.8 L1579.2 796.5 L1580.0 797.2 L1580.7 797.8 L1581.5 798.4 L1582.2 798.9 L1582.9 799.3 L1583.7 799.9 L1584.4 800.9 L1585.2 802.1 L1585.9 803.5 L1586.6 804.9 L1587.4 806.3 L1588.1 807.9 L1588.8 809.6 L1589.6 811.2 L1590.3 812.7 L1591.1 814.0 L1591.8 815.1 L1592.5 816.0 L1593.3 816.6 L1594.0 817.0 L1594.8 817.2 L1595.5 817.2 L1596.2 817.2 L1597.0 817.2 L1597.7 817.1 L1598.5 817.0 L1599.2 817.0 L1599.9 817.1 L1600.7 817.3 L1601.4 817.6 L1602.2 818.0 L1602.9 818.5 L1603.6 819.0 L1604.4 819.4 L1605.1 819.7 L1605.8 819.8 L1606.6 819.9 L1607.3 819.8 L1608.1 819.7 L1608.8 819.5 L1609.5 819.3 L1610.3 819.1 L1611.0 818.8 L1611.8 818.6 L1612.5 818.4 L1613.2 818.1 L1614.0 817.9 L1614.7 817.7 L1615.5 817.5 L1616.2 817.4 L1616.9 817.3 L1617.7 817.3 L1618.4 817.3 L1619.2 817.4 L1619.9 817.6 L1620.6 817.7 L1621.4 817.7 L1622.1 817.7 L1622.8 817.6 L1623.6 817.3 L1624.3 817.1 L1625.1 816.7 L1625.8 816.3 L1626.5 815.9" stroke="#ff6a00" stroke-width="1" fill="none" stroke-linejoin="round"/>
<circle cx="42.0" cy="459.4" r="3.2" fill="#fff"/>
<circle cx="99.6" cy="396.0" r="3.2" fill="#fff"/>
<circle cx="197.7" cy="457.9" r="3.2" fill="#fff"/>
<circle cx="252.9" cy="376.2" r="3.2" fill="#fff"/>
<circle cx="499.3" cy="503.7" r="3.2" fill="#fff"/>
<circle cx="613.7" cy="121.8" r="3.2" fill="#fff"/>
<circle cx="1005.0" cy="347.0" r="3.2" fill="#fff"/>
<circle cx="1078.0" cy="554.0" r="3.2" fill="#fff"/>
<circle cx="1490.7" cy="632.0" r="3.2" fill="#fff"/>
<circle cx="1623.7" cy="592.8" r="3.2" fill="#fff"/>
<path d="M42.0 459.4 Q89.4 458.6 98.6 401.9" stroke="#ff0000" stroke-width="3" fill="none" stroke-linecap="butt"/>
<path d="M99.6 396.0 L103.9 408.3 L91.6 406.4 Z" fill="#ff0000"/>
<path d="M197.7 457.9 Q247.4 453.1 252.5 382.2" stroke="#ff0000" stroke-width="3" fill="none" stroke-linecap="butt"/>
<path d="M252.9 376.2 L258.3 388.1 L245.9 387.2 Z" fill="#ff0000"/>
<path d="M499.3 503.7 Q601.6 489.3 613.5 127.8" stroke="#ff0000" stroke-width="3" fill="none" stroke-linecap="butt"/>
<path d="M613.7 121.8 L619.5 133.5 L607.1 133.1 Z" fill="#ff0000"/>
<path d="M1005.0 347.0 Q1071.9 360.1 1077.8 548.0" stroke="#ff0000" stroke-width="3" fill="none" stroke-linecap="butt"/>
<path d="M1078.0 554.0 L1071.4 542.7 L1083.8 542.3 Z" fill="#ff0000"/>
<path d="M1490.7 632.0 Q1599.6 628.1 1620.3 597.8" stroke="#ff0000" stroke-width="3" fill="none" stroke-linecap="butt"/>
<path d="M1623.7 592.8 L1622.3 605.8 L1612.1 598.8 Z" fill="#ff0000"/>
<circle cx="42.0" cy="459.4" r="3.2" fill="#fff"/>
<circle cx="197.7" cy="457.9" r="3.2" fill="#fff"/>
<circle cx="499.3" cy="503.7" r="3.2" fill="#fff"/>
<circle cx="1005.0" cy="347.0" r="3.2" fill="#fff"/>
<circle cx="1490.7" cy="632.0" r="3.2" fill="#fff"/>
<path d="M477.7 378.20000000000005L466.49999999999994 393.40000000000003L490.4 378.20000000000005Z" fill="#e4e4ea"/>
<rect x="477.2" y="356.6" width="58.5" height="21.6" rx="3" fill="#e5e306" fill-opacity="0.8" stroke="#e4e4ea" stroke-width="2"/>
<path d="M482.2 377.1L471.29999999999995 390.20000000000005L487.0 377.1Z" fill="#bbba0c"/>
<circle cx="467.09999999999997" cy="393.00000000000006" r="2.4" fill="#ececec"/><circle cx="467.09999999999997" cy="393.00000000000006" r="0.8" fill="#9a9a9a"/>
<text x="506.45" y="371.20000000000005" font-size="12.4" fill="#6f8296" textLength="37.3" lengthAdjust="spacingAndGlyphs" text-anchor="middle" stroke="#6f8296" stroke-width="0.3" xml:space="preserve">234.84</text>
<path d="M552.9 207.7L541.6999999999999 222.9L565.6 207.7Z" fill="#e4e4ea"/>
<rect x="552.4" y="186.1" width="58.5" height="21.6" rx="3" fill="#e5e306" fill-opacity="0.8" stroke="#e4e4ea" stroke-width="2"/>
<path d="M557.4 206.6L546.5 219.7L562.1999999999999 206.6Z" fill="#bbba0c"/>
<circle cx="542.3" cy="222.5" r="2.4" fill="#ececec"/><circle cx="542.3" cy="222.5" r="0.8" fill="#9a9a9a"/>
<text x="581.65" y="200.7" font-size="12.4" fill="#6f8296" textLength="37.3" lengthAdjust="spacingAndGlyphs" text-anchor="middle" stroke="#6f8296" stroke-width="0.3" xml:space="preserve">277.72</text>
<path d="M762.7 99.19999999999999L751.5 114.39999999999999L775.4000000000001 99.19999999999999Z" fill="#e4e4ea"/>
<rect x="762.2" y="77.6" width="58.5" height="21.6" rx="3" fill="#e5e306" fill-opacity="0.8" stroke="#e4e4ea" stroke-width="2"/>
<path d="M767.2 98.1L756.3000000000001 111.19999999999999L772.0 98.1Z" fill="#bbba0c"/>
<circle cx="752.1" cy="113.99999999999999" r="2.4" fill="#ececec"/><circle cx="752.1" cy="113.99999999999999" r="0.8" fill="#9a9a9a"/>
<text x="791.45" y="92.19999999999999" font-size="12.4" fill="#6f8296" textLength="37.3" lengthAdjust="spacingAndGlyphs" text-anchor="middle" stroke="#6f8296" stroke-width="0.3" xml:space="preserve">305.00</text>
<path d="M36.3 470.9L41.8 464.4L47.3 470.9Z" fill="#7a7a7a"/>
<rect x="22.6" y="470.4" width="84.6" height="31.200000000000003" rx="3.5" fill="#000" stroke="#7a7a7a" stroke-width="2"/>
<path d="M38.4 471.59999999999997L41.8 467.4L45.199999999999996 471.59999999999997Z" fill="#000"/>
<text x="27.200000000000003" y="485.0" font-size="12.4" fill="#fff" textLength="34.2" lengthAdjust="spacingAndGlyphs" stroke="#fff" stroke-width="0.35" xml:space="preserve">218.22</text>
<text x="27.200000000000003" y="496.9" font-size="9.8" font-weight="bold" fill="#fff" textLength="75" lengthAdjust="spacingAndGlyphs" xml:space="preserve">2019-09-27 19:00</text>
<path d="M192.3 470.1L197.8 463.6L203.3 470.1Z" fill="#7a7a7a"/>
<rect x="178.4" y="469.6" width="84.6" height="31.200000000000003" rx="3.5" fill="#000" stroke="#7a7a7a" stroke-width="2"/>
<path d="M194.4 470.8L197.8 466.6L201.20000000000002 470.8Z" fill="#000"/>
<text x="183.0" y="484.20000000000005" font-size="12.4" fill="#fff" textLength="34.2" lengthAdjust="spacingAndGlyphs" stroke="#fff" stroke-width="0.35" xml:space="preserve">218.43</text>
<text x="183.0" y="496.1" font-size="9.8" font-weight="bold" fill="#fff" textLength="75" lengthAdjust="spacingAndGlyphs" xml:space="preserve">2019-10-06 14:00</text>
<path d="M493.7 516.1L499.2 509.6L504.7 516.1Z" fill="#7a7a7a"/>
<rect x="479.2" y="515.6" width="84.6" height="31.200000000000003" rx="3.5" fill="#000" stroke="#7a7a7a" stroke-width="2"/>
<path d="M495.8 516.8000000000001L499.2 512.6L502.59999999999997 516.8000000000001Z" fill="#000"/>
<text x="483.8" y="530.2" font-size="12.4" fill="#fff" textLength="34.2" lengthAdjust="spacingAndGlyphs" stroke="#fff" stroke-width="0.35" xml:space="preserve">207.00</text>
<text x="483.8" y="542.1" font-size="9.8" font-weight="bold" fill="#fff" textLength="75" lengthAdjust="spacingAndGlyphs" xml:space="preserve">2019-10-23 13:00</text>
<path d="M999.3 335.3L1004.8 342.3L1010.3 335.3Z" fill="#7a7a7a"/>
<rect x="985.6" y="304.6" width="84.6" height="31.200000000000003" rx="3.5" fill="#000" stroke="#7a7a7a" stroke-width="2"/>
<path d="M1001.4 334.6L1004.8 339.2L1008.1999999999999 334.6Z" fill="#000"/>
<text x="990.2" y="319.20000000000005" font-size="12.4" fill="#fff" textLength="34.2" lengthAdjust="spacingAndGlyphs" stroke="#fff" stroke-width="0.35" xml:space="preserve">246.35</text>
<text x="990.2" y="331.1" font-size="9.8" font-weight="bold" fill="#fff" textLength="75" lengthAdjust="spacingAndGlyphs" xml:space="preserve">2019-11-21 01:00</text>
<path d="M1485.2 643.9L1490.7 637.4L1496.2 643.9Z" fill="#7a7a7a"/>
<rect x="1471.8" y="643.4" width="84.6" height="31.200000000000003" rx="3.5" fill="#000" stroke="#7a7a7a" stroke-width="2"/>
<path d="M1487.3 644.6L1490.7 640.4L1494.1000000000001 644.6Z" fill="#000"/>
<text x="1476.3999999999999" y="658.0" font-size="12.4" fill="#fff" textLength="34.2" lengthAdjust="spacingAndGlyphs" stroke="#fff" stroke-width="0.35" xml:space="preserve">174.69</text>
<text x="1476.3999999999999" y="669.9" font-size="9.8" font-weight="bold" fill="#fff" textLength="75" lengthAdjust="spacingAndGlyphs" xml:space="preserve">2019-12-18 11:00</text>
<rect x="79" y="327.0" width="152.8" height="18.2" rx="4.5" fill="#36942a" fill-opacity="0.97"/>
<text x="127.60000000000001" y="342.8" font-size="13" font-weight="bold" fill="#fff" textLength="55.6" lengthAdjust="spacingAndGlyphs" xml:space="preserve">SUCCESS</text>
<path d="M113.0 334.3l4.4 6.5 l6.1 -9.4" stroke="#fff" stroke-width="1.9" fill="none"/>
<path d="M93.6 384.09999999999997L99.6 390.79999999999995L105.6 384.09999999999997Z" fill="#2e9fff"/>
<rect x="80" y="347.4" width="150.8" height="37.2" rx="3.5" fill="#0e6fde" stroke="#2e9fff" stroke-width="2"/>
<path d="M96.0 383.4L99.6 387.59999999999997L103.19999999999999 383.4Z" fill="#0e6fde"/>
<text x="86" y="364.9" font-size="12.6" fill="#fff" textLength="133.9" lengthAdjust="spacingAndGlyphs" stroke="#fff" stroke-width="0.35" xml:space="preserve">15.91 (7.29%) in 3d 7h</text>
<text x="86" y="379.0" font-size="10.6" font-weight="bold" fill="#fff" textLength="33.4" lengthAdjust="spacingAndGlyphs" xml:space="preserve">234.13</text>
<circle cx="127.4" cy="375.0" r="4.3" fill="#a9cdf6"/><path d="M127.4 371.5V375.0L130.0 377.2" stroke="#0e6fde" stroke-width="1.3" fill="none"/>
<text x="135" y="379.0" font-size="10.6" font-weight="bold" fill="#fff" textLength="90" lengthAdjust="spacingAndGlyphs" xml:space="preserve">2019-10-01  02:00</text>
<rect x="232.1" y="306.8" width="153" height="18.2" rx="4.5" fill="#36942a" fill-opacity="0.97"/>
<text x="280.8" y="322.6" font-size="13" font-weight="bold" fill="#fff" textLength="55.6" lengthAdjust="spacingAndGlyphs" xml:space="preserve">SUCCESS</text>
<path d="M266.2 314.1l4.4 6.5 l6.1 -9.4" stroke="#fff" stroke-width="1.9" fill="none"/>
<path d="M246.9 363.9L252.9 370.59999999999997L258.9 363.9Z" fill="#2e9fff"/>
<rect x="233.1" y="327.2" width="151" height="37.2" rx="3.5" fill="#0e6fde" stroke="#2e9fff" stroke-width="2"/>
<path d="M249.3 363.2L252.9 367.4L256.5 363.2Z" fill="#0e6fde"/>
<text x="239.1" y="344.7" font-size="12.6" fill="#fff" textLength="134.5" lengthAdjust="spacingAndGlyphs" stroke="#fff" stroke-width="0.35" xml:space="preserve">20.77 (9.51%) in 3d 3h</text>
<text x="239.1" y="358.8" font-size="10.6" font-weight="bold" fill="#fff" textLength="33.4" lengthAdjust="spacingAndGlyphs" xml:space="preserve">239.20</text>
<circle cx="280.5" cy="354.8" r="4.3" fill="#a9cdf6"/><path d="M280.5 351.3V354.8L283.1 357.0" stroke="#0e6fde" stroke-width="1.3" fill="none"/>
<text x="288.1" y="358.8" font-size="10.6" font-weight="bold" fill="#fff" textLength="90" lengthAdjust="spacingAndGlyphs" xml:space="preserve">2019-10-09  17:00</text>
<rect x="593" y="53.00000000000001" width="163.2" height="18.2" rx="4.5" fill="#36942a" fill-opacity="0.97"/>
<text x="646.8000000000001" y="68.80000000000001" font-size="13" font-weight="bold" fill="#fff" textLength="55.6" lengthAdjust="spacingAndGlyphs" xml:space="preserve">SUCCESS</text>
<path d="M632.2 60.3l4.4 6.5 l6.1 -9.4" stroke="#fff" stroke-width="1.9" fill="none"/>
<path d="M607.6 110.10000000000001L613.6 116.80000000000001L619.6 110.10000000000001Z" fill="#2e9fff"/>
<rect x="594" y="73.4" width="161.2" height="37.2" rx="3.5" fill="#0e6fde" stroke="#2e9fff" stroke-width="2"/>
<path d="M610.0 109.4L613.6 113.60000000000001L617.2 109.4Z" fill="#0e6fde"/>
<text x="600" y="90.9" font-size="12.6" fill="#fff" textLength="148.8" lengthAdjust="spacingAndGlyphs" stroke="#fff" stroke-width="0.35" xml:space="preserve">96.03 (46.39%) in 6d 12h</text>
<text x="600" y="105.0" font-size="10.6" font-weight="bold" fill="#fff" textLength="33.4" lengthAdjust="spacingAndGlyphs" xml:space="preserve">303.03</text>
<circle cx="641.4" cy="101.0" r="4.3" fill="#a9cdf6"/><path d="M641.4 97.5V101.0L644.0 103.2" stroke="#0e6fde" stroke-width="1.3" fill="none"/>
<text x="649" y="105.0" font-size="10.6" font-weight="bold" fill="#fff" textLength="90" lengthAdjust="spacingAndGlyphs" xml:space="preserve">2019-10-30  01:00</text>
<rect x="1057.3" y="605.3" width="169.5" height="18.2" rx="4.5" fill="#36942a" fill-opacity="0.97"/>
<text x="1114.25" y="621.0999999999999" font-size="13" font-weight="bold" fill="#fff" textLength="55.6" lengthAdjust="spacingAndGlyphs" xml:space="preserve">SUCCESS</text>
<path d="M1099.6 612.6l4.4 6.5 l6.1 -9.4" stroke="#fff" stroke-width="1.9" fill="none"/>
<path d="M1071.9 565.5L1077.9 558.8L1083.9 565.5Z" fill="#2e9fff"/>
<rect x="1058.3" y="565" width="167.5" height="37.2" rx="3.5" fill="#0e6fde" stroke="#2e9fff" stroke-width="2"/>
<path d="M1074.3000000000002 566.2L1077.9 562L1081.5 566.2Z" fill="#0e6fde"/>
<text x="1064.3" y="582.5" font-size="12.6" fill="#fff" textLength="155.6" lengthAdjust="spacingAndGlyphs" stroke="#fff" stroke-width="0.35" xml:space="preserve">−52.03 (−21.12%) in 4d 3h</text>
<text x="1064.3" y="596.6" font-size="10.6" font-weight="bold" fill="#fff" textLength="33.4" lengthAdjust="spacingAndGlyphs" xml:space="preserve">194.32</text>
<circle cx="1105.7" cy="592.6" r="4.3" fill="#a9cdf6"/><path d="M1105.7 589.1V592.6L1108.3 594.8000000000001" stroke="#0e6fde" stroke-width="1.3" fill="none"/>
<text x="1113.3" y="596.6" font-size="10.6" font-weight="bold" fill="#fff" textLength="90" lengthAdjust="spacingAndGlyphs" xml:space="preserve">2019-11-25  04:00</text>
<rect x="1603.5" y="522.6" width="155.2" height="18.2" rx="4.5" fill="#36942a" fill-opacity="0.97"/>
<text x="1653.3" y="538.4" font-size="13" font-weight="bold" fill="#fff" textLength="55.6" lengthAdjust="spacingAndGlyphs" xml:space="preserve">SUCCESS</text>
<path d="M1638.7 529.9l4.4 6.5 l6.1 -9.4" stroke="#fff" stroke-width="1.9" fill="none"/>
<path d="M1617.7 579.7L1623.7 586.4000000000001L1629.7 579.7Z" fill="#2e9fff"/>
<rect x="1604.5" y="543" width="153.2" height="37.2" rx="3.5" fill="#0e6fde" stroke="#2e9fff" stroke-width="2"/>
<path d="M1620.1000000000001 579.0L1623.7 583.2L1627.3 579.0Z" fill="#0e6fde"/>
<text x="1610.5" y="560.5" font-size="12.6" fill="#fff" textLength="141.1" lengthAdjust="spacingAndGlyphs" stroke="#fff" stroke-width="0.35" xml:space="preserve">10.06 (5.76%) in 7d 12h</text>
<text x="1610.5" y="574.6" font-size="10.6" font-weight="bold" fill="#fff" textLength="33.4" lengthAdjust="spacingAndGlyphs" xml:space="preserve">184.75</text>
<circle cx="1651.9" cy="570.6" r="4.3" fill="#a9cdf6"/><path d="M1651.9 567.1V570.6L1654.5 572.8000000000001" stroke="#0e6fde" stroke-width="1.3" fill="none"/>
<text x="1659.5" y="574.6" font-size="10.6" font-weight="bold" fill="#fff" textLength="90" lengthAdjust="spacingAndGlyphs" xml:space="preserve">2019-12-25  23:00</text>
<path d="M6.5 43V936 M6 43.5H2035 M2034.5 43V936 M6 936.5H2035 M1983.5 43V936 M6 689.5H2035 M6 908.5H2035" stroke="#7f7f7f" stroke-width="1" fill="none" shape-rendering="crispEdges"/>
<path d="M1984 650.5h4 M1984 610.5h4 M1984 570.5h4 M1984 530.5h4 M1984 491.5h4 M1984 451.5h4 M1984 411.5h4 M1984 372.5h4 M1984 332.5h4 M1984 292.5h4 M1984 252.5h4 M1984 213.5h4 M1984 173.5h4 M1984 133.5h4 M1984 94.5h4 M1984 54.5h4 M1984 701.5h4 M1984 737.5h4 M1984 774.5h4 M1984 882.5h4 M99.5 909v4 M205.5 909v4 M330.5 909v4 M454.5 909v4 M542.5 909v4 M649.5 909v4 M738.5 909v4 M826.5 909v4 M951.5 909v4 M1075.5 909v4 M1181.5 909v4 M1323.5 909v4 M1448.5 909v4 M1572.5 909v4 M1731.5 909v4 M1820.5 909v4 M1944.5 909v4" stroke="#7f7f7f" stroke-width="1" fill="none" shape-rendering="crispEdges"/>
<text x="1992.2" y="654.8" font-size="12" fill="#d4d4d4" textLength="33.8" lengthAdjust="spacingAndGlyphs" stroke="#d4d4d4" stroke-width="0.3" xml:space="preserve">170.00</text>
<text x="1992.2" y="614.8" font-size="12" fill="#d4d4d4" textLength="33.8" lengthAdjust="spacingAndGlyphs" stroke="#d4d4d4" stroke-width="0.3" xml:space="preserve">180.00</text>
<text x="1992.2" y="574.8" font-size="12" fill="#d4d4d4" textLength="33.8" lengthAdjust="spacingAndGlyphs" stroke="#d4d4d4" stroke-width="0.3" xml:space="preserve">190.00</text>
<text x="1992.2" y="534.8" font-size="12" fill="#d4d4d4" textLength="33.8" lengthAdjust="spacingAndGlyphs" stroke="#d4d4d4" stroke-width="0.3" xml:space="preserve">200.00</text>
<text x="1992.2" y="495.8" font-size="12" fill="#d4d4d4" textLength="33.8" lengthAdjust="spacingAndGlyphs" stroke="#d4d4d4" stroke-width="0.3" xml:space="preserve">210.00</text>
<text x="1992.2" y="455.8" font-size="12" fill="#d4d4d4" textLength="33.8" lengthAdjust="spacingAndGlyphs" stroke="#d4d4d4" stroke-width="0.3" xml:space="preserve">220.00</text>
<text x="1992.2" y="415.8" font-size="12" fill="#d4d4d4" textLength="33.8" lengthAdjust="spacingAndGlyphs" stroke="#d4d4d4" stroke-width="0.3" xml:space="preserve">230.00</text>
<text x="1992.2" y="376.8" font-size="12" fill="#d4d4d4" textLength="33.8" lengthAdjust="spacingAndGlyphs" stroke="#d4d4d4" stroke-width="0.3" xml:space="preserve">240.00</text>
<text x="1992.2" y="336.8" font-size="12" fill="#d4d4d4" textLength="33.8" lengthAdjust="spacingAndGlyphs" stroke="#d4d4d4" stroke-width="0.3" xml:space="preserve">250.00</text>
<text x="1992.2" y="296.8" font-size="12" fill="#d4d4d4" textLength="33.8" lengthAdjust="spacingAndGlyphs" stroke="#d4d4d4" stroke-width="0.3" xml:space="preserve">260.00</text>
<text x="1992.2" y="256.8" font-size="12" fill="#d4d4d4" textLength="33.8" lengthAdjust="spacingAndGlyphs" stroke="#d4d4d4" stroke-width="0.3" xml:space="preserve">270.00</text>
<text x="1992.2" y="217.8" font-size="12" fill="#d4d4d4" textLength="33.8" lengthAdjust="spacingAndGlyphs" stroke="#d4d4d4" stroke-width="0.3" xml:space="preserve">280.00</text>
<text x="1992.2" y="177.8" font-size="12" fill="#d4d4d4" textLength="33.8" lengthAdjust="spacingAndGlyphs" stroke="#d4d4d4" stroke-width="0.3" xml:space="preserve">290.00</text>
<text x="1992.2" y="137.8" font-size="12" fill="#d4d4d4" textLength="33.8" lengthAdjust="spacingAndGlyphs" stroke="#d4d4d4" stroke-width="0.3" xml:space="preserve">300.00</text>
<text x="1992.2" y="98.8" font-size="12" fill="#d4d4d4" textLength="33.8" lengthAdjust="spacingAndGlyphs" stroke="#d4d4d4" stroke-width="0.3" xml:space="preserve">310.00</text>
<text x="1992.2" y="58.8" font-size="12" fill="#d4d4d4" textLength="33.8" lengthAdjust="spacingAndGlyphs" stroke="#d4d4d4" stroke-width="0.3" xml:space="preserve">320.00</text>
<text x="1992.2" y="705.8" font-size="12" fill="#d4d4d4" textLength="27.7" lengthAdjust="spacingAndGlyphs" stroke="#d4d4d4" stroke-width="0.3" xml:space="preserve">15.00</text>
<text x="1992.2" y="741.8" font-size="12" fill="#d4d4d4" textLength="27.7" lengthAdjust="spacingAndGlyphs" stroke="#d4d4d4" stroke-width="0.3" xml:space="preserve">10.00</text>
<text x="1992.2" y="778.8" font-size="12" fill="#d4d4d4" textLength="21.7" lengthAdjust="spacingAndGlyphs" stroke="#d4d4d4" stroke-width="0.3" xml:space="preserve">5.00</text>
<text x="1992.2" y="886.8" font-size="12" fill="#d4d4d4" textLength="33.8" lengthAdjust="spacingAndGlyphs" stroke="#d4d4d4" stroke-width="0.3" xml:space="preserve">−10.00</text>
<rect x="1984" y="579" width="50" height="18" fill="#ef5350"/>
<path d="M1984 588.5h4" stroke="#fff" stroke-width="1" shape-rendering="crispEdges"/>
<text x="1992.2" y="593.1" font-size="12" fill="#fff" textLength="33.8" lengthAdjust="spacingAndGlyphs" xml:space="preserve">185.44</text>
<rect x="1916" y="799" width="106" height="18" fill="#26a69a"/>
<rect x="1940" y="817" width="88" height="18" fill="#0094ff"/>
<rect x="1938" y="835" width="90" height="18" fill="#ff6a00"/>
<path d="M1983.5 799v54" stroke="#131722" stroke-opacity="0.6" stroke-width="1" shape-rendering="crispEdges"/>
<path d="M1984 808.5h4M1984 826.5h4M1984 844.5h4" stroke="#fff" stroke-width="1" shape-rendering="crispEdges"/>
<text x="1923.9" y="812" font-size="12" fill="#fff" textLength="54" lengthAdjust="spacingAndGlyphs" xml:space="preserve">Histogram</text>
<text x="1992.2" y="812" font-size="12" fill="#fff" textLength="22" lengthAdjust="spacingAndGlyphs" xml:space="preserve">0.18</text>
<text x="1947.7" y="830" font-size="12" fill="#fff" textLength="30.7" lengthAdjust="spacingAndGlyphs" xml:space="preserve">MACD</text>
<text x="1992.2" y="830" font-size="12" fill="#fff" textLength="27.7" lengthAdjust="spacingAndGlyphs" xml:space="preserve">−0.65</text>
<text x="1945.6" y="847.8" font-size="12" fill="#fff" textLength="31.6" lengthAdjust="spacingAndGlyphs" xml:space="preserve">Signal</text>
<text x="1992.2" y="847.8" font-size="12" fill="#fff" textLength="27.7" lengthAdjust="spacingAndGlyphs" xml:space="preserve">−0.82</text>
<text x="99.5" y="927.8" font-size="11.6" font-weight="bold" fill="#d4d4d4" text-anchor="middle" xml:space="preserve">Oct</text>
<text x="205.5" y="927.8" font-size="11.6" font-weight="bold" fill="#d4d4d4" text-anchor="middle" xml:space="preserve">7</text>
<text x="330.5" y="927.8" font-size="11.6" font-weight="bold" fill="#d4d4d4" text-anchor="middle" xml:space="preserve">14</text>
<text x="454.5" y="927.8" font-size="11.6" font-weight="bold" fill="#d4d4d4" text-anchor="middle" xml:space="preserve">21</text>
<text x="542.5" y="927.8" font-size="11.6" font-weight="bold" fill="#d4d4d4" text-anchor="middle" xml:space="preserve">26</text>
<text x="649.5" y="927.8" font-size="11.6" font-weight="bold" fill="#d4d4d4" text-anchor="middle" xml:space="preserve">Nov</text>
<text x="738.5" y="927.8" font-size="11.6" font-weight="bold" fill="#d4d4d4" text-anchor="middle" xml:space="preserve">6</text>
<text x="826.5" y="927.8" font-size="11.6" font-weight="bold" fill="#d4d4d4" text-anchor="middle" xml:space="preserve">11</text>
<text x="951.5" y="927.8" font-size="11.6" font-weight="bold" fill="#d4d4d4" text-anchor="middle" xml:space="preserve">18</text>
<text x="1075.5" y="927.8" font-size="11.6" font-weight="bold" fill="#d4d4d4" text-anchor="middle" xml:space="preserve">25</text>
<text x="1181.5" y="927.8" font-size="11.6" font-weight="bold" fill="#d4d4d4" text-anchor="middle" xml:space="preserve">Dec</text>
<text x="1323.5" y="927.8" font-size="11.6" font-weight="bold" fill="#d4d4d4" text-anchor="middle" xml:space="preserve">9</text>
<text x="1448.5" y="927.8" font-size="11.6" font-weight="bold" fill="#d4d4d4" text-anchor="middle" xml:space="preserve">16</text>
<text x="1572.5" y="927.8" font-size="11.6" font-weight="bold" fill="#d4d4d4" text-anchor="middle" xml:space="preserve">23</text>
<text x="1731.5" y="927.8" font-size="11.6" font-weight="bold" fill="#d4d4d4" text-anchor="middle" xml:space="preserve">2020</text>
<text x="1820.5" y="927.8" font-size="11.6" font-weight="bold" fill="#d4d4d4" text-anchor="middle" xml:space="preserve">6</text>
<text x="1944.5" y="927.8" font-size="11.6" font-weight="bold" fill="#d4d4d4" text-anchor="middle" xml:space="preserve">13</text>
<text x="6.1" y="16.6" font-size="12.2" font-weight="bold" fill="#e6e6e6" textLength="85.1" lengthAdjust="spacingAndGlyphs" xml:space="preserve">ElsieGordon91</text>
<text x="95.2" y="16.6" font-size="12.2" fill="#e6e6e6" textLength="369" lengthAdjust="spacingAndGlyphs" stroke="#e6e6e6" stroke-width="0.2" xml:space="preserve">published on TradingView.com, December 26, 2019 03:23:42 UTC</text>
<text x="6.1" y="33.8" font-size="12.2" font-weight="bold" fill="#e6e6e6" textLength="132.8" lengthAdjust="spacingAndGlyphs" xml:space="preserve">COINBASE:BCHUSD, 60</text>
<text x="144.5" y="33.8" font-size="12.2" fill="#e6e6e6" textLength="38.2" lengthAdjust="spacingAndGlyphs" stroke="#e6e6e6" stroke-width="0.2" xml:space="preserve">185.44</text>
<path d="M185.5 33.6L190.9 24.2L196.3 33.6Z" fill="#26a69a"/>
<text x="200.5" y="33.8" font-size="12.2" fill="#e6e6e6" textLength="84.1" lengthAdjust="spacingAndGlyphs" stroke="#e6e6e6" stroke-width="0.2" xml:space="preserve">+0.29 (+0.16%)</text>
<text x="289.2" y="33.8" font-size="12.2" font-weight="bold" fill="#e6e6e6" textLength="12.2" lengthAdjust="spacingAndGlyphs" xml:space="preserve">O:</text>
<text x="303.7" y="33.8" font-size="12.2" fill="#26a69a" textLength="38" lengthAdjust="spacingAndGlyphs" stroke="#26a69a" stroke-width="0.2" xml:space="preserve">185.50</text>
<text x="346.5" y="33.8" font-size="12.2" font-weight="bold" fill="#e6e6e6" textLength="12.2" lengthAdjust="spacingAndGlyphs" xml:space="preserve">H:</text>
<text x="360.5" y="33.8" font-size="12.2" fill="#26a69a" textLength="38" lengthAdjust="spacingAndGlyphs" stroke="#26a69a" stroke-width="0.2" xml:space="preserve">185.50</text>
<text x="403.3" y="33.8" font-size="12.2" font-weight="bold" fill="#e6e6e6" textLength="9.4" lengthAdjust="spacingAndGlyphs" xml:space="preserve">L:</text>
<text x="414.8" y="33.8" font-size="12.2" fill="#26a69a" textLength="38" lengthAdjust="spacingAndGlyphs" stroke="#26a69a" stroke-width="0.2" xml:space="preserve">185.34</text>
<text x="457.3" y="33.8" font-size="12.2" font-weight="bold" fill="#e6e6e6" textLength="10.2" lengthAdjust="spacingAndGlyphs" xml:space="preserve">C:</text>
<text x="469.6" y="33.8" font-size="12.2" fill="#26a69a" textLength="38" lengthAdjust="spacingAndGlyphs" stroke="#26a69a" stroke-width="0.2" xml:space="preserve">185.44</text>
<text x="15.3" y="65" font-size="12.6" fill="#b4b7bf" textLength="231.8" lengthAdjust="spacingAndGlyphs" stroke="#b4b7bf" stroke-width="0.3" xml:space="preserve">Bitcoin Cash / U.S. Dollar, 60, COINBASE</text>
<text x="15.1" y="711.2" font-size="12.6" fill="#b4b7bf" textLength="131" lengthAdjust="spacingAndGlyphs" stroke="#b4b7bf" stroke-width="0.3" xml:space="preserve">MACD (12, 26, close, 9)</text>
<g fill="#2196f3">
<rect x="5.8" y="952.9" width="13" height="9.4" rx="4.1"/>
<circle cx="17.7" cy="952.8" r="5.9"/>
<rect x="19.2" y="952.3" width="13" height="10" rx="4.6"/>
<rect x="10" y="955" width="18" height="7.3"/>
</g>
<path d="M6.2 959.5L15.6 952.7L22 958.5L27.8 951.5" stroke="#131722" stroke-width="1.1" fill="none"/>
<circle cx="15.6" cy="952.7" r="1.5" fill="#131722"/><circle cx="22" cy="958.5" r="1.5" fill="#131722"/>
<text x="34.4" y="958.9" font-size="13" fill="#fff" textLength="70.3" lengthAdjust="spacingAndGlyphs" stroke="#fff" stroke-width="0.25" xml:space="preserve">TradingView</text>
</svg>
</body></html>
